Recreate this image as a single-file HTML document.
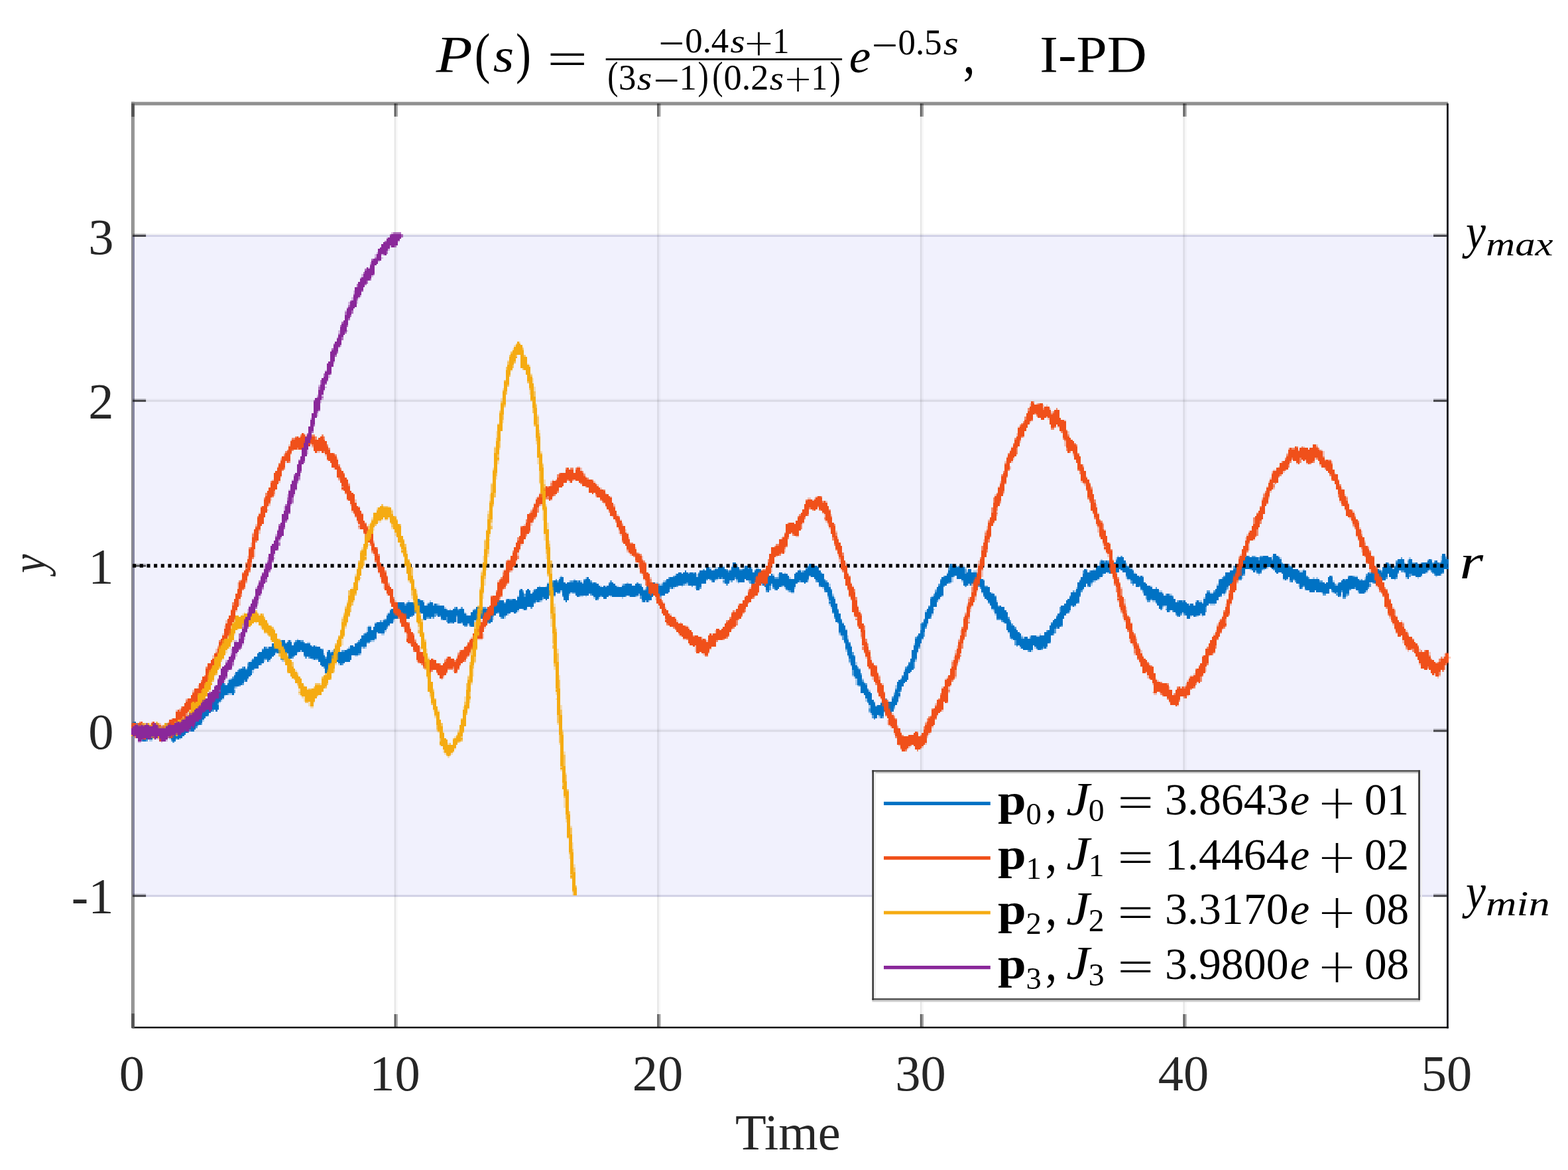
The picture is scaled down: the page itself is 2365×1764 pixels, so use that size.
<!DOCTYPE html>
<html lang="en"><head><meta charset="utf-8"><title>P(s) I-PD step responses</title>
<style>
html,body{margin:0;padding:0;background:#fff;}
body{width:2365px;height:1764px;overflow:hidden;}
svg{display:block;}
text{font-family:"Liberation Serif","DejaVu Serif",serif;}
</style></head><body>
<svg xmlns="http://www.w3.org/2000/svg" width="2365" height="1764" viewBox="0 0 2365 1764">
<rect x="0" y="0" width="2365" height="1764" fill="#ffffff"/>
<rect x="200.4" y="356.5" width="1983.0" height="993.0" fill="#f1f1fd"/>
<rect x="200.4" y="352.1" width="1983.0" height="2.2" fill="#f3f3f5"/>
<rect x="200.4" y="354.3" width="1983.0" height="2.7" fill="#cfcfe6"/>
<rect x="200.4" y="1348.9" width="1983.0" height="0.8" fill="#e0e0f0"/>
<rect x="200.4" y="1349.5" width="1983.0" height="2.7" fill="#cfcfe4"/>
<rect x="594.6" y="156.3" width="2.5" height="1393.3" fill="#000" fill-opacity="0.095"/>
<rect x="597.1" y="156.3" width="2.7" height="1393.3" fill="#000" fill-opacity="0.028"/>
<rect x="991.2" y="156.3" width="2.5" height="1393.3" fill="#000" fill-opacity="0.095"/>
<rect x="993.7" y="156.3" width="2.7" height="1393.3" fill="#000" fill-opacity="0.028"/>
<rect x="1387.8" y="156.3" width="2.5" height="1393.3" fill="#000" fill-opacity="0.095"/>
<rect x="1390.3" y="156.3" width="2.7" height="1393.3" fill="#000" fill-opacity="0.028"/>
<rect x="1784.4" y="156.3" width="2.5" height="1393.3" fill="#000" fill-opacity="0.095"/>
<rect x="1786.9" y="156.3" width="2.7" height="1393.3" fill="#000" fill-opacity="0.028"/>
<rect x="200.4" y="1098.6" width="1983.0" height="2.0" fill="#000" fill-opacity="0.028"/>
<rect x="200.4" y="1100.6" width="1983.0" height="2.8" fill="#000" fill-opacity="0.095"/>
<rect x="200.4" y="601.0" width="1983.0" height="2.0" fill="#000" fill-opacity="0.028"/>
<rect x="200.4" y="603.0" width="1983.0" height="2.8" fill="#000" fill-opacity="0.095"/>
<rect x="198.0" y="153.6" width="1986.2" height="5.2" fill="#909090"/>
<rect x="198.0" y="153.6" width="2.4" height="1396.6" fill="#8a8a8a"/>
<rect x="200.4" y="153.6" width="2.5" height="1396.6" fill="#8e8e8e"/>
<rect x="198.0" y="355.3" width="2.4" height="995.2" fill="#86868c"/>
<rect x="200.4" y="355.3" width="2.5" height="995.2" fill="#8282a0"/>
<rect x="199.4" y="1547.9" width="1985.4" height="2.5" fill="#0e0e0e"/>
<rect x="2182.0" y="156.0" width="2.8" height="1394.4" fill="#0d0d18"/>
<rect x="198.0" y="156.0" width="4.9" height="20.0" fill="#555"/>
<rect x="198.0" y="1528.1" width="4.9" height="21.8" fill="#555"/>
<rect x="594.6" y="156.0" width="2.5" height="19.8" fill="#000" fill-opacity="0.600"/>
<rect x="597.1" y="156.0" width="2.7" height="19.8" fill="#000" fill-opacity="0.360"/>
<rect x="594.6" y="1529.0" width="2.5" height="19.0" fill="#000" fill-opacity="0.600"/>
<rect x="597.1" y="1529.0" width="2.7" height="19.0" fill="#000" fill-opacity="0.360"/>
<rect x="991.2" y="156.0" width="2.5" height="19.8" fill="#000" fill-opacity="0.600"/>
<rect x="993.7" y="156.0" width="2.7" height="19.8" fill="#000" fill-opacity="0.360"/>
<rect x="991.2" y="1529.0" width="2.5" height="19.0" fill="#000" fill-opacity="0.600"/>
<rect x="993.7" y="1529.0" width="2.7" height="19.0" fill="#000" fill-opacity="0.360"/>
<rect x="1387.8" y="156.0" width="2.5" height="19.8" fill="#000" fill-opacity="0.600"/>
<rect x="1390.3" y="156.0" width="2.7" height="19.8" fill="#000" fill-opacity="0.360"/>
<rect x="1387.8" y="1529.0" width="2.5" height="19.0" fill="#000" fill-opacity="0.600"/>
<rect x="1390.3" y="1529.0" width="2.7" height="19.0" fill="#000" fill-opacity="0.360"/>
<rect x="1784.4" y="156.0" width="2.5" height="19.8" fill="#000" fill-opacity="0.600"/>
<rect x="1786.9" y="156.0" width="2.7" height="19.8" fill="#000" fill-opacity="0.360"/>
<rect x="1784.4" y="1529.0" width="2.5" height="19.0" fill="#000" fill-opacity="0.600"/>
<rect x="1786.9" y="1529.0" width="2.7" height="19.0" fill="#000" fill-opacity="0.360"/>
<rect x="200.2" y="1347.4" width="19.9" height="2.0" fill="#000" fill-opacity="0.220"/>
<rect x="200.2" y="1349.4" width="19.9" height="2.8" fill="#000" fill-opacity="0.700"/>
<rect x="2162.0" y="1347.4" width="19.9" height="2.0" fill="#000" fill-opacity="0.220"/>
<rect x="2162.0" y="1349.4" width="19.9" height="2.8" fill="#000" fill-opacity="0.700"/>
<rect x="200.2" y="1098.6" width="19.9" height="2.0" fill="#000" fill-opacity="0.220"/>
<rect x="200.2" y="1100.6" width="19.9" height="2.8" fill="#000" fill-opacity="0.700"/>
<rect x="2162.0" y="1098.6" width="19.9" height="2.0" fill="#000" fill-opacity="0.220"/>
<rect x="2162.0" y="1100.6" width="19.9" height="2.8" fill="#000" fill-opacity="0.700"/>
<rect x="200.2" y="849.8" width="19.9" height="2.0" fill="#000" fill-opacity="0.220"/>
<rect x="200.2" y="851.8" width="19.9" height="2.8" fill="#000" fill-opacity="0.700"/>
<rect x="2162.0" y="849.8" width="19.9" height="2.0" fill="#000" fill-opacity="0.220"/>
<rect x="2162.0" y="851.8" width="19.9" height="2.8" fill="#000" fill-opacity="0.700"/>
<rect x="200.2" y="601.0" width="19.9" height="2.0" fill="#000" fill-opacity="0.220"/>
<rect x="200.2" y="603.0" width="19.9" height="2.8" fill="#000" fill-opacity="0.700"/>
<rect x="2162.0" y="601.0" width="19.9" height="2.0" fill="#000" fill-opacity="0.220"/>
<rect x="2162.0" y="603.0" width="19.9" height="2.8" fill="#000" fill-opacity="0.700"/>
<rect x="200.2" y="352.2" width="19.9" height="2.0" fill="#000" fill-opacity="0.220"/>
<rect x="200.2" y="354.2" width="19.9" height="2.8" fill="#000" fill-opacity="0.700"/>
<rect x="2162.0" y="352.2" width="19.9" height="2.0" fill="#000" fill-opacity="0.220"/>
<rect x="2162.0" y="354.2" width="19.9" height="2.8" fill="#000" fill-opacity="0.700"/>
<g id="curves">
<g shape-rendering="crispEdges"><path fill="#0072c4" fill-opacity="0.30" d="M197.5,1090h2.5v2.5h-2.5zM210,1095h2.5v2.5h-2.5zM215,1097.5h2.5v2.5h-2.5zM217.5,1097.5h2.5v2.5h-2.5zM225,1115h2.5v2.5h-2.5zM227.5,1115h2.5v2.5h-2.5zM232.5,1095h2.5v2.5h-2.5zM242.5,1112.5h2.5v2.5h-2.5zM252.5,1107.5h2.5v2.5h-2.5zM255,1112.5h2.5v2.5h-2.5zM257.5,1092.5h2.5v2.5h-2.5zM267.5,1090h2.5v2.5h-2.5zM270,1112.5h2.5v2.5h-2.5zM285,1080h2.5v2.5h-2.5zM297.5,1092.5h2.5v2.5h-2.5zM305,1085h2.5v2.5h-2.5zM317.5,1050h2.5v2.5h-2.5zM330,1035h2.5v5h-2.5zM330,1057.5h2.5v2.5h-2.5zM332.5,1055h2.5v2.5h-2.5zM335,1052.5h2.5v2.5h-2.5zM337.5,1047.5h2.5v2.5h-2.5zM342.5,1025h2.5v5h-2.5zM345,1022.5h2.5v2.5h-2.5zM345,1045h2.5v2.5h-2.5zM347.5,1045h2.5v2.5h-2.5zM352.5,1015h2.5v2.5h-2.5zM352.5,1037.5h2.5v2.5h-2.5zM355,1035h2.5v2.5h-2.5zM372.5,997.5h2.5v2.5h-2.5zM372.5,1022.5h2.5v2.5h-2.5zM377.5,995h2.5v2.5h-2.5zM380,1010h2.5v5h-2.5zM382.5,1007.5h2.5v2.5h-2.5zM397.5,995h2.5v2.5h-2.5zM402.5,975h2.5v2.5h-2.5zM405,995h2.5v2.5h-2.5zM412.5,965h2.5v2.5h-2.5zM417.5,962.5h2.5v2.5h-2.5zM425,995h2.5v2.5h-2.5zM430,967.5h2.5v2.5h-2.5zM430,985h2.5v2.5h-2.5zM432.5,965h2.5v2.5h-2.5zM432.5,985h2.5v2.5h-2.5zM437.5,965h2.5v2.5h-2.5zM447.5,962.5h2.5v2.5h-2.5zM447.5,982.5h2.5v2.5h-2.5zM452.5,980h2.5v2.5h-2.5zM462.5,967.5h2.5v2.5h-2.5zM465,967.5h2.5v2.5h-2.5zM470,972.5h2.5v2.5h-2.5zM470,992.5h2.5v2.5h-2.5zM475,972.5h2.5v2.5h-2.5zM487.5,985h2.5v2.5h-2.5zM492.5,980h2.5v2.5h-2.5zM495,1005h2.5v2.5h-2.5zM500,980h2.5v2.5h-2.5zM500,1000h2.5v2.5h-2.5zM502.5,997.5h2.5v2.5h-2.5zM505,975h2.5v2.5h-2.5zM505,997.5h2.5v2.5h-2.5zM510,980h2.5v2.5h-2.5zM510,1000h2.5v2.5h-2.5zM525,975h2.5v2.5h-2.5zM535,987.5h2.5v2.5h-2.5zM537.5,987.5h2.5v2.5h-2.5zM542.5,985h2.5v2.5h-2.5zM545,975h2.5v2.5h-2.5zM550,952.5h2.5v2.5h-2.5zM550,975h2.5v2.5h-2.5zM552.5,945h2.5v7.5h-2.5zM555,942.5h2.5v2.5h-2.5zM557.5,942.5h2.5v2.5h-2.5zM560,965h2.5v2.5h-2.5zM562.5,965h2.5v2.5h-2.5zM565,937.5h2.5v2.5h-2.5zM565,962.5h2.5v2.5h-2.5zM567.5,952.5h2.5v2.5h-2.5zM575,935h2.5v2.5h-2.5zM575,955h2.5v2.5h-2.5zM577.5,932.5h2.5v2.5h-2.5zM577.5,955h2.5v2.5h-2.5zM580,950h2.5v2.5h-2.5zM582.5,925h2.5v2.5h-2.5zM585,922.5h2.5v2.5h-2.5zM585,942.5h2.5v2.5h-2.5zM587.5,917.5h2.5v2.5h-2.5zM592.5,935h2.5v2.5h-2.5zM600,930h2.5v2.5h-2.5zM615,905h2.5v2.5h-2.5zM625,902.5h2.5v2.5h-2.5zM632.5,902.5h2.5v2.5h-2.5zM637.5,905h2.5v2.5h-2.5zM642.5,910h2.5v2.5h-2.5zM645,907.5h2.5v2.5h-2.5zM647.5,905h2.5v2.5h-2.5zM650,930h2.5v2.5h-2.5zM652.5,910h2.5v2.5h-2.5zM660,910h2.5v2.5h-2.5zM670,915h2.5v2.5h-2.5zM677.5,917.5h2.5v2.5h-2.5zM687.5,930h2.5v7.5h-2.5zM700,922.5h2.5v2.5h-2.5zM702.5,925h2.5v2.5h-2.5zM705,940h2.5v2.5h-2.5zM712.5,917.5h2.5v2.5h-2.5zM715,935h2.5v2.5h-2.5zM722.5,912.5h2.5v2.5h-2.5zM730,930h2.5v2.5h-2.5zM732.5,915h2.5v2.5h-2.5zM742.5,930h2.5v5h-2.5zM745,905h2.5v5h-2.5zM760,930h2.5v2.5h-2.5zM765,925h2.5v2.5h-2.5zM777.5,922.5h2.5v2.5h-2.5zM780,897.5h2.5v2.5h-2.5zM780,920h2.5v2.5h-2.5zM782.5,887.5h2.5v2.5h-2.5zM787.5,917.5h2.5v2.5h-2.5zM802.5,890h2.5v2.5h-2.5zM812.5,882.5h2.5v2.5h-2.5zM815,905h2.5v2.5h-2.5zM817.5,902.5h2.5v2.5h-2.5zM822.5,882.5h2.5v2.5h-2.5zM825,877.5h2.5v2.5h-2.5zM830,897.5h2.5v2.5h-2.5zM835,897.5h2.5v2.5h-2.5zM842.5,870h2.5v2.5h-2.5zM845,867.5h2.5v2.5h-2.5zM845,890h2.5v2.5h-2.5zM857.5,875h2.5v2.5h-2.5zM857.5,895h2.5v2.5h-2.5zM860,892.5h2.5v2.5h-2.5zM865,872.5h2.5v2.5h-2.5zM875,875h2.5v2.5h-2.5zM875,897.5h2.5v2.5h-2.5zM877.5,877.5h2.5v2.5h-2.5zM877.5,897.5h2.5v2.5h-2.5zM882.5,870h2.5v2.5h-2.5zM882.5,897.5h2.5v2.5h-2.5zM895,900h2.5v2.5h-2.5zM902.5,900h2.5v2.5h-2.5zM905,882.5h2.5v2.5h-2.5zM912.5,882.5h2.5v2.5h-2.5zM920,897.5h2.5v2.5h-2.5zM930,882.5h2.5v2.5h-2.5zM937.5,880h2.5v2.5h-2.5zM937.5,900h2.5v2.5h-2.5zM945,877.5h2.5v2.5h-2.5zM947.5,897.5h2.5v2.5h-2.5zM960,897.5h2.5v2.5h-2.5zM962.5,895h2.5v2.5h-2.5zM970,887.5h2.5v2.5h-2.5zM972.5,885h2.5v2.5h-2.5zM972.5,905h2.5v2.5h-2.5zM977.5,905h2.5v2.5h-2.5zM985,895h2.5v2.5h-2.5zM987.5,897.5h2.5v2.5h-2.5zM990,877.5h2.5v2.5h-2.5zM995,880h2.5v2.5h-2.5zM995,900h2.5v2.5h-2.5zM997.5,877.5h2.5v2.5h-2.5zM1000,875h2.5v2.5h-2.5zM1015,885h2.5v2.5h-2.5zM1017.5,865h2.5v2.5h-2.5zM1027.5,882.5h2.5v2.5h-2.5zM1032.5,880h2.5v2.5h-2.5zM1035,880h2.5v2.5h-2.5zM1037.5,862.5h2.5v2.5h-2.5zM1047.5,882.5h2.5v5h-2.5zM1050,865h2.5v5h-2.5zM1070,855h2.5v2.5h-2.5zM1075,857.5h2.5v2.5h-2.5zM1077.5,855h2.5v2.5h-2.5zM1080,855h2.5v2.5h-2.5zM1080,872.5h2.5v2.5h-2.5zM1090,852.5h2.5v2.5h-2.5zM1090,872.5h2.5v2.5h-2.5zM1090,877.5h2.5v2.5h-2.5zM1100,857.5h2.5v2.5h-2.5zM1100,875h2.5v2.5h-2.5zM1102.5,852.5h2.5v2.5h-2.5zM1110,850h2.5v2.5h-2.5zM1110,875h2.5v2.5h-2.5zM1112.5,877.5h2.5v2.5h-2.5zM1120,855h2.5v2.5h-2.5zM1127.5,875h2.5v2.5h-2.5zM1132.5,855h2.5v2.5h-2.5zM1137.5,857.5h2.5v2.5h-2.5zM1137.5,877.5h2.5v2.5h-2.5zM1140,855h2.5v2.5h-2.5zM1140,877.5h2.5v2.5h-2.5zM1142.5,855h2.5v2.5h-2.5zM1142.5,877.5h2.5v2.5h-2.5zM1147.5,880h2.5v2.5h-2.5zM1152.5,865h2.5v5h-2.5zM1162.5,880h2.5v2.5h-2.5zM1165,865h2.5v2.5h-2.5zM1172.5,865h2.5v5h-2.5zM1180,882.5h2.5v2.5h-2.5zM1182.5,862.5h2.5v2.5h-2.5zM1182.5,885h2.5v2.5h-2.5zM1187.5,890h2.5v2.5h-2.5zM1190,870h2.5v2.5h-2.5zM1192.5,892.5h2.5v2.5h-2.5zM1195,892.5h2.5v2.5h-2.5zM1197.5,885h2.5v2.5h-2.5zM1205,857.5h2.5v2.5h-2.5zM1207.5,860h2.5v2.5h-2.5zM1217.5,875h2.5v2.5h-2.5zM1220,867.5h2.5v2.5h-2.5zM1240,885h2.5v2.5h-2.5zM1247.5,900h2.5v2.5h-2.5zM1250,880h2.5v5h-2.5zM1250,910h2.5v2.5h-2.5zM1252.5,915h2.5v2.5h-2.5zM1255,895h2.5v2.5h-2.5zM1257.5,900h2.5v2.5h-2.5zM1265,955h2.5v2.5h-2.5zM1267.5,957.5h2.5v2.5h-2.5zM1270,937.5h2.5v2.5h-2.5zM1275,947.5h2.5v2.5h-2.5zM1275,980h2.5v2.5h-2.5zM1277.5,957.5h2.5v5h-2.5zM1277.5,987.5h2.5v2.5h-2.5zM1280,997.5h2.5v2.5h-2.5zM1282.5,972.5h2.5v2.5h-2.5zM1282.5,1002.5h2.5v2.5h-2.5zM1285,1017.5h2.5v2.5h-2.5zM1287.5,1020h2.5v2.5h-2.5zM1290,997.5h2.5v5h-2.5zM1290,1022.5h2.5v10h-2.5zM1292.5,1032.5h2.5v2.5h-2.5zM1300,1022.5h2.5v2.5h-2.5zM1302.5,1027.5h2.5v2.5h-2.5zM1305,1052.5h2.5v5h-2.5zM1310,1040h2.5v2.5h-2.5zM1310,1062.5h2.5v5h-2.5zM1310,1072.5h2.5v2.5h-2.5zM1312.5,1075h2.5v2.5h-2.5zM1320,1062.5h2.5v2.5h-2.5zM1325,1080h2.5v2.5h-2.5zM1327.5,1057.5h2.5v2.5h-2.5zM1332.5,1072.5h2.5v2.5h-2.5zM1335,1072.5h2.5v2.5h-2.5zM1347.5,1042.5h2.5v2.5h-2.5zM1347.5,1067.5h2.5v2.5h-2.5zM1350,1032.5h2.5v5h-2.5zM1352.5,1057.5h2.5v2.5h-2.5zM1355,1050h2.5v2.5h-2.5zM1362.5,1010h2.5v2.5h-2.5zM1377.5,970h2.5v2.5h-2.5zM1380,995h2.5v2.5h-2.5zM1382.5,982.5h2.5v2.5h-2.5zM1390,962.5h2.5v2.5h-2.5zM1395,920h2.5v2.5h-2.5zM1397.5,940h2.5v2.5h-2.5zM1405,897.5h2.5v2.5h-2.5zM1405,925h2.5v2.5h-2.5zM1407.5,917.5h2.5v2.5h-2.5zM1410,887.5h2.5v2.5h-2.5zM1415,902.5h2.5v2.5h-2.5zM1420,897.5h2.5v2.5h-2.5zM1427.5,862.5h2.5v2.5h-2.5zM1430,850h2.5v2.5h-2.5zM1432.5,877.5h2.5v2.5h-2.5zM1435,870h2.5v7.5h-2.5zM1437.5,850h2.5v2.5h-2.5zM1440,850h2.5v2.5h-2.5zM1442.5,852.5h2.5v2.5h-2.5zM1450,852.5h2.5v2.5h-2.5zM1450,875h2.5v2.5h-2.5zM1452.5,852.5h2.5v2.5h-2.5zM1455,855h2.5v2.5h-2.5zM1457.5,860h2.5v2.5h-2.5zM1460,880h2.5v2.5h-2.5zM1465,880h2.5v2.5h-2.5zM1467.5,860h2.5v2.5h-2.5zM1470,860h2.5v2.5h-2.5zM1470,875h2.5v2.5h-2.5zM1472.5,862.5h2.5v2.5h-2.5zM1472.5,880h2.5v2.5h-2.5zM1480,892.5h2.5v2.5h-2.5zM1482.5,872.5h2.5v2.5h-2.5zM1495,892.5h2.5v2.5h-2.5zM1495,917.5h2.5v2.5h-2.5zM1497.5,920h2.5v2.5h-2.5zM1500,925h2.5v2.5h-2.5zM1502.5,905h2.5v2.5h-2.5zM1512.5,937.5h2.5v2.5h-2.5zM1520,952.5h2.5v2.5h-2.5zM1525,962.5h2.5v2.5h-2.5zM1537.5,975h2.5v2.5h-2.5zM1540,957.5h2.5v2.5h-2.5zM1542.5,960h2.5v2.5h-2.5zM1552.5,957.5h2.5v2.5h-2.5zM1555,980h2.5v2.5h-2.5zM1560,975h2.5v2.5h-2.5zM1562.5,957.5h2.5v2.5h-2.5zM1562.5,977.5h2.5v2.5h-2.5zM1565,957.5h2.5v2.5h-2.5zM1567.5,955h2.5v2.5h-2.5zM1577.5,975h2.5v2.5h-2.5zM1612.5,920h2.5v2.5h-2.5zM1615,912.5h2.5v2.5h-2.5zM1620,890h2.5v2.5h-2.5zM1620,912.5h2.5v2.5h-2.5zM1622.5,885h2.5v2.5h-2.5zM1627.5,872.5h2.5v2.5h-2.5zM1632.5,887.5h2.5v2.5h-2.5zM1645,880h2.5v2.5h-2.5zM1647.5,857.5h2.5v2.5h-2.5zM1650,857.5h2.5v2.5h-2.5zM1650,875h2.5v2.5h-2.5zM1655,872.5h2.5v2.5h-2.5zM1657.5,845h2.5v2.5h-2.5zM1657.5,870h2.5v2.5h-2.5zM1660,842.5h2.5v2.5h-2.5zM1662.5,865h2.5v2.5h-2.5zM1670,862.5h2.5v2.5h-2.5zM1682.5,840h2.5v2.5h-2.5zM1685,837.5h2.5v2.5h-2.5zM1697.5,847.5h2.5v2.5h-2.5zM1697.5,870h2.5v2.5h-2.5zM1700,872.5h2.5v2.5h-2.5zM1702.5,872.5h2.5v2.5h-2.5zM1705,855h2.5v2.5h-2.5zM1707.5,857.5h2.5v2.5h-2.5zM1710,862.5h2.5v2.5h-2.5zM1717.5,867.5h2.5v2.5h-2.5zM1722.5,867.5h2.5v2.5h-2.5zM1722.5,892.5h2.5v2.5h-2.5zM1727.5,902.5h2.5v2.5h-2.5zM1735,882.5h2.5v2.5h-2.5zM1737.5,905h2.5v2.5h-2.5zM1740,905h2.5v2.5h-2.5zM1747.5,890h2.5v2.5h-2.5zM1750,890h2.5v2.5h-2.5zM1752.5,892.5h2.5v2.5h-2.5zM1752.5,915h2.5v2.5h-2.5zM1755,912.5h2.5v2.5h-2.5zM1757.5,912.5h2.5v5h-2.5zM1765,895h2.5v2.5h-2.5zM1782.5,922.5h2.5v2.5h-2.5zM1792.5,910h2.5v2.5h-2.5zM1795,927.5h2.5v2.5h-2.5zM1802.5,905h2.5v2.5h-2.5zM1805,927.5h2.5v2.5h-2.5zM1807.5,905h2.5v2.5h-2.5zM1810,905h2.5v2.5h-2.5zM1810,925h2.5v2.5h-2.5zM1812.5,907.5h2.5v2.5h-2.5zM1812.5,927.5h2.5v2.5h-2.5zM1815,900h2.5v2.5h-2.5zM1825,892.5h2.5v2.5h-2.5zM1825,910h2.5v2.5h-2.5zM1827.5,892.5h2.5v2.5h-2.5zM1827.5,910h2.5v2.5h-2.5zM1830,910h2.5v2.5h-2.5zM1835,880h2.5v2.5h-2.5zM1845,895h2.5v2.5h-2.5zM1847.5,892.5h2.5v2.5h-2.5zM1850,887.5h2.5v2.5h-2.5zM1857.5,877.5h2.5v2.5h-2.5zM1862.5,872.5h2.5v2.5h-2.5zM1865,850h2.5v2.5h-2.5zM1865,870h2.5v2.5h-2.5zM1870,852.5h2.5v2.5h-2.5zM1872.5,867.5h2.5v5h-2.5zM1885,857.5h2.5v2.5h-2.5zM1892.5,837.5h2.5v2.5h-2.5zM1892.5,860h2.5v2.5h-2.5zM1897.5,865h2.5v2.5h-2.5zM1905,857.5h2.5v2.5h-2.5zM1910,855h2.5v2.5h-2.5zM1917.5,837.5h2.5v5h-2.5zM1927.5,837.5h2.5v2.5h-2.5zM1930,840h2.5v2.5h-2.5zM1935,872.5h2.5v2.5h-2.5zM1940,872.5h2.5v2.5h-2.5zM1957.5,880h2.5v5h-2.5zM1960,860h2.5v2.5h-2.5zM1962.5,860h2.5v2.5h-2.5zM1965,857.5h2.5v2.5h-2.5zM1980,870h2.5v2.5h-2.5zM1985,870h2.5v2.5h-2.5zM1992.5,892.5h2.5v2.5h-2.5zM2010,875h2.5v2.5h-2.5zM2010,892.5h2.5v2.5h-2.5zM2015,880h2.5v2.5h-2.5zM2030,897.5h2.5v2.5h-2.5zM2042.5,867.5h2.5v2.5h-2.5zM2045,867.5h2.5v2.5h-2.5zM2047.5,892.5h2.5v2.5h-2.5zM2050,872.5h2.5v2.5h-2.5zM2057.5,870h2.5v2.5h-2.5zM2057.5,892.5h2.5v2.5h-2.5zM2060,890h2.5v2.5h-2.5zM2065,877.5h2.5v2.5h-2.5zM2067.5,860h2.5v2.5h-2.5zM2075,855h2.5v2.5h-2.5zM2080,857.5h2.5v2.5h-2.5zM2082.5,875h2.5v2.5h-2.5zM2100,855h2.5v2.5h-2.5zM2102.5,872.5h2.5v2.5h-2.5zM2117.5,847.5h2.5v2.5h-2.5zM2117.5,862.5h2.5v2.5h-2.5zM2120,870h2.5v2.5h-2.5zM2122.5,842.5h2.5v2.5h-2.5zM2125,840h2.5v2.5h-2.5zM2137.5,870h2.5v2.5h-2.5zM2142.5,867.5h2.5v2.5h-2.5zM2150,862.5h2.5v2.5h-2.5zM2152.5,842.5h2.5v2.5h-2.5zM2152.5,860h2.5v2.5h-2.5zM2165,867.5h2.5v2.5h-2.5zM2172.5,837.5h2.5v7.5h-2.5zM2172.5,865h2.5v2.5h-2.5zM2180,837.5h2.5v2.5h-2.5z"/>
<path fill="#0072c4" fill-opacity="0.65" d="M205,1090h2.5v2.5h-2.5zM205,1107.5h2.5v2.5h-2.5zM207.5,1092.5h2.5v2.5h-2.5zM210,1107.5h2.5v2.5h-2.5zM212.5,1115h2.5v2.5h-2.5zM220,1097.5h2.5v2.5h-2.5zM220,1115h2.5v2.5h-2.5zM222.5,1097.5h2.5v2.5h-2.5zM230,1110h2.5v2.5h-2.5zM232.5,1097.5h2.5v2.5h-2.5zM235,1097.5h2.5v2.5h-2.5zM235,1110h2.5v2.5h-2.5zM237.5,1110h2.5v2.5h-2.5zM247.5,1090h2.5v2.5h-2.5zM250,1090h2.5v2.5h-2.5zM252.5,1092.5h2.5v2.5h-2.5zM257.5,1115h2.5v2.5h-2.5zM260,1117.5h2.5v2.5h-2.5zM262.5,1095h2.5v2.5h-2.5zM265,1112.5h2.5v2.5h-2.5zM272.5,1092.5h2.5v2.5h-2.5zM275,1085h2.5v2.5h-2.5zM282.5,1102.5h2.5v2.5h-2.5zM285,1100h2.5v2.5h-2.5zM292.5,1077.5h2.5v2.5h-2.5zM295,1095h2.5v2.5h-2.5zM300,1065h2.5v2.5h-2.5zM302.5,1090h2.5v2.5h-2.5zM305,1067.5h2.5v2.5h-2.5zM307.5,1062.5h2.5v2.5h-2.5zM312.5,1077.5h2.5v2.5h-2.5zM315,1060h2.5v2.5h-2.5zM320,1070h2.5v2.5h-2.5zM327.5,1060h2.5v2.5h-2.5zM330,1040h2.5v2.5h-2.5zM335,1027.5h2.5v2.5h-2.5zM337.5,1030h2.5v2.5h-2.5zM342.5,1045h2.5v2.5h-2.5zM347.5,1022.5h2.5v2.5h-2.5zM350,1020h2.5v2.5h-2.5zM352.5,1035h2.5v2.5h-2.5zM352.5,1040h2.5v5h-2.5zM357.5,1010h2.5v2.5h-2.5zM360,1007.5h2.5v2.5h-2.5zM360,1032.5h2.5v2.5h-2.5zM365,1005h2.5v2.5h-2.5zM365,1030h2.5v2.5h-2.5zM367.5,1025h2.5v2.5h-2.5zM370,1007.5h2.5v2.5h-2.5zM372.5,1000h2.5v5h-2.5zM380,992.5h2.5v2.5h-2.5zM392.5,1000h2.5v2.5h-2.5zM395,977.5h2.5v2.5h-2.5zM397.5,992.5h2.5v2.5h-2.5zM400,975h2.5v2.5h-2.5zM400,992.5h2.5v2.5h-2.5zM415,982.5h2.5v2.5h-2.5zM422.5,965h2.5v2.5h-2.5zM422.5,992.5h2.5v2.5h-2.5zM427.5,992.5h2.5v2.5h-2.5zM440,990h2.5v2.5h-2.5zM442.5,967.5h2.5v2.5h-2.5zM442.5,987.5h2.5v2.5h-2.5zM445,965h2.5v2.5h-2.5zM452.5,965h2.5v2.5h-2.5zM455,965h2.5v2.5h-2.5zM457.5,967.5h2.5v2.5h-2.5zM457.5,987.5h2.5v2.5h-2.5zM460,990h2.5v2.5h-2.5zM465,990h2.5v2.5h-2.5zM475,992.5h2.5v2.5h-2.5zM477.5,992.5h2.5v2.5h-2.5zM485,977.5h2.5v2.5h-2.5zM487.5,1005h2.5v2.5h-2.5zM490,990h2.5v2.5h-2.5zM492.5,1015h2.5v2.5h-2.5zM495,1002.5h2.5v2.5h-2.5zM495,1007.5h2.5v7.5h-2.5zM497.5,982.5h2.5v2.5h-2.5zM497.5,1000h2.5v2.5h-2.5zM502.5,977.5h2.5v2.5h-2.5zM515,980h2.5v2.5h-2.5zM515,1000h2.5v2.5h-2.5zM517.5,980h2.5v2.5h-2.5zM522.5,977.5h2.5v2.5h-2.5zM537.5,967.5h2.5v2.5h-2.5zM540,965h2.5v2.5h-2.5zM540,985h2.5v2.5h-2.5zM547.5,955h2.5v2.5h-2.5zM547.5,975h2.5v2.5h-2.5zM552.5,967.5h2.5v2.5h-2.5zM555,967.5h2.5v2.5h-2.5zM557.5,965h2.5v2.5h-2.5zM572.5,935h2.5v2.5h-2.5zM580,932.5h2.5v2.5h-2.5zM582.5,945h2.5v2.5h-2.5zM592.5,932.5h2.5v2.5h-2.5zM595,910h2.5v2.5h-2.5zM597.5,907.5h2.5v2.5h-2.5zM600,925h2.5v5h-2.5zM602.5,925h2.5v2.5h-2.5zM607.5,927.5h2.5v2.5h-2.5zM610,910h2.5v2.5h-2.5zM612.5,907.5h2.5v2.5h-2.5zM620,927.5h2.5v2.5h-2.5zM625,922.5h2.5v2.5h-2.5zM630,925h2.5v2.5h-2.5zM632.5,922.5h2.5v2.5h-2.5zM637.5,932.5h2.5v2.5h-2.5zM642.5,930h2.5v2.5h-2.5zM645,930h2.5v2.5h-2.5zM652.5,930h2.5v2.5h-2.5zM655,925h2.5v5h-2.5zM657.5,910h2.5v2.5h-2.5zM657.5,925h2.5v2.5h-2.5zM662.5,927.5h2.5v2.5h-2.5zM665,932.5h2.5v2.5h-2.5zM672.5,917.5h2.5v2.5h-2.5zM672.5,930h2.5v7.5h-2.5zM677.5,937.5h2.5v2.5h-2.5zM680,937.5h2.5v2.5h-2.5zM685,915h2.5v2.5h-2.5zM687.5,927.5h2.5v2.5h-2.5zM690,917.5h2.5v2.5h-2.5zM695,915h2.5v2.5h-2.5zM695,937.5h2.5v2.5h-2.5zM700,942.5h2.5v2.5h-2.5zM702.5,942.5h2.5v2.5h-2.5zM707.5,942.5h2.5v2.5h-2.5zM715,917.5h2.5v2.5h-2.5zM725,915h2.5v2.5h-2.5zM727.5,915h2.5v2.5h-2.5zM730,915h2.5v2.5h-2.5zM735,915h2.5v2.5h-2.5zM735,937.5h2.5v2.5h-2.5zM737.5,912.5h2.5v2.5h-2.5zM742.5,912.5h2.5v2.5h-2.5zM742.5,927.5h2.5v2.5h-2.5zM745,910h2.5v2.5h-2.5zM750,902.5h2.5v2.5h-2.5zM750,922.5h2.5v2.5h-2.5zM755,930h2.5v2.5h-2.5zM760,907.5h2.5v2.5h-2.5zM760,927.5h2.5v2.5h-2.5zM762.5,902.5h2.5v2.5h-2.5zM767.5,902.5h2.5v2.5h-2.5zM770,902.5h2.5v2.5h-2.5zM787.5,890h2.5v2.5h-2.5zM790,895h2.5v5h-2.5zM792.5,917.5h2.5v2.5h-2.5zM800,915h2.5v2.5h-2.5zM805,887.5h2.5v2.5h-2.5zM805,907.5h2.5v2.5h-2.5zM807.5,905h2.5v2.5h-2.5zM812.5,905h2.5v2.5h-2.5zM817.5,900h2.5v2.5h-2.5zM832.5,875h2.5v2.5h-2.5zM837.5,872.5h2.5v2.5h-2.5zM840,875h2.5v2.5h-2.5zM840,892.5h2.5v2.5h-2.5zM842.5,892.5h2.5v2.5h-2.5zM847.5,897.5h2.5v2.5h-2.5zM860,875h2.5v2.5h-2.5zM862.5,875h2.5v2.5h-2.5zM862.5,892.5h2.5v2.5h-2.5zM865,892.5h2.5v2.5h-2.5zM870,875h2.5v2.5h-2.5zM872.5,897.5h2.5v2.5h-2.5zM880,872.5h2.5v2.5h-2.5zM890,875h2.5v2.5h-2.5zM890,895h2.5v2.5h-2.5zM892.5,877.5h2.5v2.5h-2.5zM897.5,877.5h2.5v2.5h-2.5zM900,902.5h2.5v2.5h-2.5zM905,897.5h2.5v2.5h-2.5zM917.5,877.5h2.5v2.5h-2.5zM920,875h2.5v2.5h-2.5zM940,880h2.5v2.5h-2.5zM942.5,897.5h2.5v2.5h-2.5zM957.5,897.5h2.5v2.5h-2.5zM960,877.5h2.5v2.5h-2.5zM965,880h2.5v2.5h-2.5zM965,897.5h2.5v5h-2.5zM967.5,905h2.5v2.5h-2.5zM972.5,887.5h2.5v2.5h-2.5zM977.5,882.5h2.5v2.5h-2.5zM982.5,877.5h2.5v2.5h-2.5zM985,892.5h2.5v2.5h-2.5zM990,902.5h2.5v2.5h-2.5zM992.5,880h2.5v2.5h-2.5zM992.5,902.5h2.5v2.5h-2.5zM995,897.5h2.5v2.5h-2.5zM997.5,880h2.5v2.5h-2.5zM1002.5,875h2.5v2.5h-2.5zM1007.5,870h2.5v2.5h-2.5zM1010,885h2.5v2.5h-2.5zM1015,867.5h2.5v2.5h-2.5zM1020,882.5h2.5v2.5h-2.5zM1030,880h2.5v2.5h-2.5zM1035,877.5h2.5v2.5h-2.5zM1042.5,882.5h2.5v2.5h-2.5zM1045,862.5h2.5v2.5h-2.5zM1052.5,862.5h2.5v2.5h-2.5zM1055,885h2.5v2.5h-2.5zM1060,857.5h2.5v2.5h-2.5zM1065,872.5h2.5v2.5h-2.5zM1070,872.5h2.5v2.5h-2.5zM1072.5,875h2.5v2.5h-2.5zM1077.5,872.5h2.5v2.5h-2.5zM1082.5,870h2.5v2.5h-2.5zM1085,852.5h2.5v2.5h-2.5zM1087.5,870h2.5v2.5h-2.5zM1090,875h2.5v2.5h-2.5zM1095,857.5h2.5v2.5h-2.5zM1095,880h2.5v2.5h-2.5zM1097.5,860h2.5v2.5h-2.5zM1102.5,875h2.5v2.5h-2.5zM1107.5,870h2.5v2.5h-2.5zM1110,852.5h2.5v2.5h-2.5zM1110,872.5h2.5v2.5h-2.5zM1115,857.5h2.5v2.5h-2.5zM1117.5,857.5h2.5v2.5h-2.5zM1127.5,855h2.5v2.5h-2.5zM1130,875h2.5v5h-2.5zM1132.5,880h2.5v2.5h-2.5zM1147.5,860h2.5v2.5h-2.5zM1147.5,875h2.5v2.5h-2.5zM1155,867.5h2.5v2.5h-2.5zM1155,890h2.5v2.5h-2.5zM1157.5,865h2.5v2.5h-2.5zM1160,882.5h2.5v7.5h-2.5zM1165,885h2.5v2.5h-2.5zM1167.5,870h2.5v2.5h-2.5zM1167.5,887.5h2.5v2.5h-2.5zM1170,870h2.5v2.5h-2.5zM1172.5,870h2.5v2.5h-2.5zM1177.5,882.5h2.5v2.5h-2.5zM1185,887.5h2.5v2.5h-2.5zM1190,890h2.5v2.5h-2.5zM1205,875h2.5v2.5h-2.5zM1210,860h2.5v2.5h-2.5zM1215,855h2.5v2.5h-2.5zM1217.5,852.5h2.5v2.5h-2.5zM1217.5,872.5h2.5v2.5h-2.5zM1230,875h2.5v2.5h-2.5zM1235,882.5h2.5v2.5h-2.5zM1237.5,862.5h2.5v2.5h-2.5zM1242.5,872.5h2.5v2.5h-2.5zM1242.5,890h2.5v2.5h-2.5zM1245,875h2.5v2.5h-2.5zM1247.5,897.5h2.5v2.5h-2.5zM1250,905h2.5v2.5h-2.5zM1252.5,887.5h2.5v2.5h-2.5zM1255,897.5h2.5v2.5h-2.5zM1255,922.5h2.5v2.5h-2.5zM1257.5,930h2.5v2.5h-2.5zM1262.5,917.5h2.5v2.5h-2.5zM1262.5,937.5h2.5v2.5h-2.5zM1265,952.5h2.5v2.5h-2.5zM1267.5,932.5h2.5v2.5h-2.5zM1270,957.5h2.5v7.5h-2.5zM1272.5,967.5h2.5v2.5h-2.5zM1275,977.5h2.5v2.5h-2.5zM1277.5,962.5h2.5v2.5h-2.5zM1280,967.5h2.5v2.5h-2.5zM1280,992.5h2.5v5h-2.5zM1285,982.5h2.5v5h-2.5zM1285,1010h2.5v7.5h-2.5zM1287.5,987.5h2.5v2.5h-2.5zM1292.5,1005h2.5v2.5h-2.5zM1295,1007.5h2.5v2.5h-2.5zM1295,1032.5h2.5v2.5h-2.5zM1297.5,1015h2.5v2.5h-2.5zM1300,1025h2.5v2.5h-2.5zM1305,1030h2.5v2.5h-2.5zM1307.5,1037.5h2.5v2.5h-2.5zM1307.5,1057.5h2.5v2.5h-2.5zM1310,1067.5h2.5v5h-2.5zM1315,1077.5h2.5v5h-2.5zM1317.5,1057.5h2.5v2.5h-2.5zM1317.5,1082.5h2.5v2.5h-2.5zM1325,1077.5h2.5v2.5h-2.5zM1330,1080h2.5v2.5h-2.5zM1335,1052.5h2.5v2.5h-2.5zM1337.5,1057.5h2.5v2.5h-2.5zM1345,1050h2.5v2.5h-2.5zM1347.5,1045h2.5v2.5h-2.5zM1347.5,1065h2.5v2.5h-2.5zM1350,1037.5h2.5v2.5h-2.5zM1355,1042.5h2.5v2.5h-2.5zM1357.5,1022.5h2.5v2.5h-2.5zM1357.5,1040h2.5v2.5h-2.5zM1360,1017.5h2.5v2.5h-2.5zM1365,1005h2.5v2.5h-2.5zM1367.5,1002.5h2.5v2.5h-2.5zM1370,997.5h2.5v2.5h-2.5zM1377.5,997.5h2.5v10h-2.5zM1380,960h2.5v2.5h-2.5zM1380,992.5h2.5v2.5h-2.5zM1382.5,957.5h2.5v2.5h-2.5zM1385,975h2.5v2.5h-2.5zM1387.5,940h2.5v10h-2.5zM1390,937.5h2.5v2.5h-2.5zM1392.5,932.5h2.5v2.5h-2.5zM1392.5,952.5h2.5v7.5h-2.5zM1395,945h2.5v2.5h-2.5zM1400,912.5h2.5v2.5h-2.5zM1402.5,900h2.5v2.5h-2.5zM1402.5,930h2.5v2.5h-2.5zM1407.5,895h2.5v2.5h-2.5zM1410,890h2.5v2.5h-2.5zM1412.5,905h2.5v2.5h-2.5zM1415,880h2.5v2.5h-2.5zM1417.5,872.5h2.5v2.5h-2.5zM1422.5,867.5h2.5v2.5h-2.5zM1422.5,882.5h2.5v2.5h-2.5zM1430,852.5h2.5v7.5h-2.5zM1430,877.5h2.5v2.5h-2.5zM1435,850h2.5v2.5h-2.5zM1437.5,867.5h2.5v2.5h-2.5zM1445,852.5h2.5v2.5h-2.5zM1455,857.5h2.5v7.5h-2.5zM1455,882.5h2.5v2.5h-2.5zM1475,865h2.5v2.5h-2.5zM1475,882.5h2.5v2.5h-2.5zM1477.5,885h2.5v2.5h-2.5zM1482.5,897.5h2.5v2.5h-2.5zM1485,882.5h2.5v2.5h-2.5zM1487.5,882.5h2.5v2.5h-2.5zM1490,907.5h2.5v2.5h-2.5zM1497.5,917.5h2.5v2.5h-2.5zM1500,897.5h2.5v2.5h-2.5zM1502.5,932.5h2.5v2.5h-2.5zM1505,912.5h2.5v2.5h-2.5zM1505,932.5h2.5v2.5h-2.5zM1507.5,932.5h2.5v2.5h-2.5zM1510,935h2.5v2.5h-2.5zM1520,930h2.5v2.5h-2.5zM1522.5,935h2.5v2.5h-2.5zM1522.5,960h2.5v2.5h-2.5zM1525,940h2.5v2.5h-2.5zM1530,945h2.5v2.5h-2.5zM1530,965h2.5v7.5h-2.5zM1532.5,972.5h2.5v2.5h-2.5zM1540,960h2.5v2.5h-2.5zM1550,980h2.5v2.5h-2.5zM1552.5,960h2.5v2.5h-2.5zM1570,977.5h2.5v2.5h-2.5zM1572.5,975h2.5v2.5h-2.5zM1577.5,950h2.5v2.5h-2.5zM1582.5,967.5h2.5v2.5h-2.5zM1585,937.5h2.5v2.5h-2.5zM1587.5,955h2.5v2.5h-2.5zM1590,947.5h2.5v7.5h-2.5zM1592.5,927.5h2.5v2.5h-2.5zM1592.5,945h2.5v2.5h-2.5zM1597.5,915h2.5v7.5h-2.5zM1600,942.5h2.5v2.5h-2.5zM1610,922.5h2.5v2.5h-2.5zM1612.5,897.5h2.5v2.5h-2.5zM1617.5,890h2.5v2.5h-2.5zM1625,907.5h2.5v2.5h-2.5zM1627.5,897.5h2.5v2.5h-2.5zM1630,890h2.5v2.5h-2.5zM1632.5,860h2.5v5h-2.5zM1637.5,857.5h2.5v2.5h-2.5zM1640,882.5h2.5v2.5h-2.5zM1642.5,860h2.5v2.5h-2.5zM1645,877.5h2.5v2.5h-2.5zM1647.5,875h2.5v2.5h-2.5zM1657.5,847.5h2.5v5h-2.5zM1665,845h2.5v2.5h-2.5zM1670,845h2.5v2.5h-2.5zM1675,862.5h2.5v2.5h-2.5zM1682.5,842.5h2.5v2.5h-2.5zM1690,837.5h2.5v2.5h-2.5zM1697.5,850h2.5v2.5h-2.5zM1697.5,867.5h2.5v2.5h-2.5zM1700,852.5h2.5v2.5h-2.5zM1702.5,855h2.5v2.5h-2.5zM1705,875h2.5v5h-2.5zM1707.5,880h2.5v2.5h-2.5zM1717.5,882.5h2.5v2.5h-2.5zM1720,887.5h2.5v2.5h-2.5zM1722.5,890h2.5v2.5h-2.5zM1727.5,897.5h2.5v5h-2.5zM1730,905h2.5v2.5h-2.5zM1732.5,905h2.5v2.5h-2.5zM1735,902.5h2.5v2.5h-2.5zM1742.5,885h2.5v2.5h-2.5zM1742.5,907.5h2.5v2.5h-2.5zM1750,917.5h2.5v2.5h-2.5zM1752.5,912.5h2.5v2.5h-2.5zM1757.5,895h2.5v2.5h-2.5zM1757.5,917.5h2.5v2.5h-2.5zM1762.5,895h2.5v2.5h-2.5zM1762.5,920h2.5v2.5h-2.5zM1767.5,897.5h2.5v2.5h-2.5zM1767.5,920h2.5v2.5h-2.5zM1772.5,925h2.5v2.5h-2.5zM1775,905h2.5v2.5h-2.5zM1775,927.5h2.5v2.5h-2.5zM1780,925h2.5v2.5h-2.5zM1782.5,905h2.5v2.5h-2.5zM1785,925h2.5v2.5h-2.5zM1802.5,927.5h2.5v2.5h-2.5zM1817.5,915h2.5v7.5h-2.5zM1820,890h2.5v2.5h-2.5zM1822.5,890h2.5v2.5h-2.5zM1830,890h2.5v2.5h-2.5zM1837.5,872.5h2.5v2.5h-2.5zM1840,897.5h2.5v2.5h-2.5zM1842.5,870h2.5v2.5h-2.5zM1845,867.5h2.5v2.5h-2.5zM1847.5,890h2.5v2.5h-2.5zM1850,885h2.5v2.5h-2.5zM1860,852.5h2.5v5h-2.5zM1867.5,872.5h2.5v2.5h-2.5zM1870,872.5h2.5v2.5h-2.5zM1872.5,842.5h2.5v2.5h-2.5zM1875,842.5h2.5v2.5h-2.5zM1875,865h2.5v2.5h-2.5zM1877.5,837.5h2.5v2.5h-2.5zM1882.5,837.5h2.5v2.5h-2.5zM1887.5,837.5h2.5v2.5h-2.5zM1890,837.5h2.5v2.5h-2.5zM1895,862.5h2.5v2.5h-2.5zM1897.5,840h2.5v5h-2.5zM1900,837.5h2.5v2.5h-2.5zM1900,862.5h2.5v2.5h-2.5zM1902.5,837.5h2.5v2.5h-2.5zM1902.5,857.5h2.5v2.5h-2.5zM1917.5,842.5h2.5v2.5h-2.5zM1920,857.5h2.5v2.5h-2.5zM1932.5,847.5h2.5v2.5h-2.5zM1940,850h2.5v2.5h-2.5zM1942.5,850h2.5v2.5h-2.5zM1945,852.5h2.5v2.5h-2.5zM1945,875h2.5v2.5h-2.5zM1950,872.5h2.5v2.5h-2.5zM1952.5,875h2.5v2.5h-2.5zM1962.5,885h2.5v2.5h-2.5zM1965,882.5h2.5v2.5h-2.5zM1967.5,887.5h2.5v2.5h-2.5zM1970,867.5h2.5v2.5h-2.5zM1972.5,870h2.5v2.5h-2.5zM1990,875h2.5v2.5h-2.5zM1992.5,875h2.5v2.5h-2.5zM1995,895h2.5v2.5h-2.5zM1997.5,895h2.5v2.5h-2.5zM2007.5,867.5h2.5v2.5h-2.5zM2007.5,890h2.5v2.5h-2.5zM2012.5,880h2.5v2.5h-2.5zM2015,892.5h2.5v5h-2.5zM2017.5,877.5h2.5v2.5h-2.5zM2020,897.5h2.5v2.5h-2.5zM2022.5,890h2.5v2.5h-2.5zM2025,900h2.5v2.5h-2.5zM2027.5,872.5h2.5v2.5h-2.5zM2027.5,900h2.5v2.5h-2.5zM2030,895h2.5v2.5h-2.5zM2032.5,867.5h2.5v2.5h-2.5zM2032.5,895h2.5v2.5h-2.5zM2035,887.5h2.5v2.5h-2.5zM2040,867.5h2.5v2.5h-2.5zM2042.5,885h2.5v2.5h-2.5zM2047.5,890h2.5v2.5h-2.5zM2052.5,872.5h2.5v2.5h-2.5zM2057.5,872.5h2.5v2.5h-2.5zM2060,865h2.5v2.5h-2.5zM2062.5,885h2.5v2.5h-2.5zM2065,862.5h2.5v2.5h-2.5zM2065,880h2.5v5h-2.5zM2070,877.5h2.5v2.5h-2.5zM2075,875h2.5v2.5h-2.5zM2082.5,860h2.5v2.5h-2.5zM2087.5,850h2.5v2.5h-2.5zM2090,870h2.5v2.5h-2.5zM2092.5,847.5h2.5v2.5h-2.5zM2095,850h2.5v2.5h-2.5zM2102.5,852.5h2.5v2.5h-2.5zM2105,845h2.5v2.5h-2.5zM2105,870h2.5v2.5h-2.5zM2107.5,862.5h2.5v2.5h-2.5zM2112.5,840h2.5v2.5h-2.5zM2112.5,860h2.5v2.5h-2.5zM2115,860h2.5v2.5h-2.5zM2122.5,845h2.5v5h-2.5zM2125,865h2.5v5h-2.5zM2127.5,865h2.5v2.5h-2.5zM2130,847.5h2.5v2.5h-2.5zM2132.5,847.5h2.5v2.5h-2.5zM2142.5,847.5h2.5v2.5h-2.5zM2155,857.5h2.5v2.5h-2.5zM2157.5,842.5h2.5v2.5h-2.5zM2157.5,860h2.5v2.5h-2.5zM2160,847.5h2.5v2.5h-2.5zM2160,862.5h2.5v2.5h-2.5zM2162.5,845h2.5v2.5h-2.5zM2162.5,865h2.5v2.5h-2.5zM2170,847.5h2.5v2.5h-2.5zM2172.5,845h2.5v2.5h-2.5zM2175,862.5h2.5v2.5h-2.5zM2180,840h2.5v2.5h-2.5z"/>
<path fill="#0072c4" d="M197.5,1092.5h2.5v15h-2.5zM200,1087.5h2.5v22.5h-2.5zM202.5,1087.5h2.5v22.5h-2.5zM205,1092.5h2.5v15h-2.5zM207.5,1095h2.5v15h-2.5zM210,1097.5h2.5v10h-2.5zM212.5,1097.5h2.5v17.5h-2.5zM215,1100h2.5v17.5h-2.5zM217.5,1100h2.5v17.5h-2.5zM220,1100h2.5v15h-2.5zM222.5,1100h2.5v12.5h-2.5zM225,1095h2.5v20h-2.5zM227.5,1092.5h2.5v22.5h-2.5zM230,1092.5h2.5v17.5h-2.5zM232.5,1100h2.5v10h-2.5zM235,1100h2.5v10h-2.5zM237.5,1097.5h2.5v12.5h-2.5zM240,1097.5h2.5v15h-2.5zM242.5,1097.5h2.5v15h-2.5zM245,1097.5h2.5v17.5h-2.5zM247.5,1092.5h2.5v22.5h-2.5zM250,1092.5h2.5v20h-2.5zM252.5,1095h2.5v12.5h-2.5zM255,1095h2.5v17.5h-2.5zM257.5,1095h2.5v20h-2.5zM260,1092.5h2.5v25h-2.5zM262.5,1097.5h2.5v20h-2.5zM265,1092.5h2.5v20h-2.5zM267.5,1092.5h2.5v22.5h-2.5zM270,1092.5h2.5v20h-2.5zM272.5,1095h2.5v17.5h-2.5zM275,1087.5h2.5v22.5h-2.5zM277.5,1085h2.5v22.5h-2.5zM280,1082.5h2.5v22.5h-2.5zM282.5,1082.5h2.5v20h-2.5zM285,1082.5h2.5v17.5h-2.5zM287.5,1082.5h2.5v20h-2.5zM290,1082.5h2.5v20h-2.5zM292.5,1080h2.5v20h-2.5zM295,1077.5h2.5v17.5h-2.5zM297.5,1067.5h2.5v25h-2.5zM300,1067.5h2.5v25h-2.5zM302.5,1067.5h2.5v22.5h-2.5zM305,1070h2.5v15h-2.5zM307.5,1065h2.5v17.5h-2.5zM310,1062.5h2.5v17.5h-2.5zM312.5,1062.5h2.5v15h-2.5zM315,1062.5h2.5v12.5h-2.5zM317.5,1052.5h2.5v20h-2.5zM320,1050h2.5v20h-2.5zM322.5,1052.5h2.5v17.5h-2.5zM325,1047.5h2.5v25h-2.5zM327.5,1045h2.5v15h-2.5zM327.5,1062.5h2.5v7.5h-2.5zM330,1042.5h2.5v15h-2.5zM332.5,1030h2.5v25h-2.5zM335,1030h2.5v22.5h-2.5zM337.5,1032.5h2.5v15h-2.5zM340,1032.5h2.5v15h-2.5zM342.5,1030h2.5v15h-2.5zM345,1025h2.5v20h-2.5zM347.5,1025h2.5v20h-2.5zM350,1022.5h2.5v25h-2.5zM352.5,1017.5h2.5v17.5h-2.5zM355,1012.5h2.5v22.5h-2.5zM357.5,1012.5h2.5v22.5h-2.5zM360,1010h2.5v22.5h-2.5zM362.5,1007.5h2.5v25h-2.5zM365,1007.5h2.5v22.5h-2.5zM367.5,1005h2.5v20h-2.5zM370,1010h2.5v17.5h-2.5zM372.5,1005h2.5v17.5h-2.5zM375,997.5h2.5v22.5h-2.5zM377.5,997.5h2.5v20h-2.5zM380,995h2.5v15h-2.5zM382.5,990h2.5v17.5h-2.5zM385,990h2.5v17.5h-2.5zM387.5,985h2.5v22.5h-2.5zM390,982.5h2.5v20h-2.5zM392.5,982.5h2.5v17.5h-2.5zM395,980h2.5v20h-2.5zM397.5,975h2.5v17.5h-2.5zM400,977.5h2.5v15h-2.5zM402.5,977.5h2.5v20h-2.5zM405,975h2.5v20h-2.5zM407.5,975h2.5v17.5h-2.5zM410,970h2.5v20h-2.5zM412.5,967.5h2.5v20h-2.5zM415,965h2.5v17.5h-2.5zM417.5,965h2.5v20h-2.5zM420,965h2.5v20h-2.5zM422.5,967.5h2.5v25h-2.5zM425,965h2.5v30h-2.5zM427.5,965h2.5v27.5h-2.5zM430,970h2.5v15h-2.5zM432.5,967.5h2.5v17.5h-2.5zM435,965h2.5v27.5h-2.5zM437.5,967.5h2.5v25h-2.5zM440,972.5h2.5v17.5h-2.5zM442.5,970h2.5v17.5h-2.5zM445,967.5h2.5v20h-2.5zM447.5,965h2.5v17.5h-2.5zM450,965h2.5v17.5h-2.5zM452.5,967.5h2.5v12.5h-2.5zM455,967.5h2.5v15h-2.5zM457.5,970h2.5v17.5h-2.5zM460,970h2.5v20h-2.5zM462.5,970h2.5v20h-2.5zM465,970h2.5v20h-2.5zM467.5,972.5h2.5v20h-2.5zM470,975h2.5v17.5h-2.5zM472.5,972.5h2.5v22.5h-2.5zM475,975h2.5v17.5h-2.5zM477.5,975h2.5v17.5h-2.5zM480,975h2.5v22.5h-2.5zM482.5,977.5h2.5v25h-2.5zM485,980h2.5v25h-2.5zM487.5,987.5h2.5v17.5h-2.5zM490,992.5h2.5v22.5h-2.5zM492.5,982.5h2.5v32.5h-2.5zM495,980h2.5v22.5h-2.5zM497.5,985h2.5v15h-2.5zM500,982.5h2.5v17.5h-2.5zM502.5,980h2.5v17.5h-2.5zM505,977.5h2.5v20h-2.5zM507.5,977.5h2.5v20h-2.5zM510,982.5h2.5v17.5h-2.5zM512.5,982.5h2.5v20h-2.5zM515,982.5h2.5v17.5h-2.5zM517.5,982.5h2.5v17.5h-2.5zM520,980h2.5v17.5h-2.5zM522.5,980h2.5v17.5h-2.5zM525,977.5h2.5v20h-2.5zM527.5,972.5h2.5v22.5h-2.5zM530,972.5h2.5v15h-2.5zM532.5,975h2.5v12.5h-2.5zM535,970h2.5v17.5h-2.5zM537.5,970h2.5v17.5h-2.5zM540,967.5h2.5v17.5h-2.5zM542.5,962.5h2.5v22.5h-2.5zM545,957.5h2.5v17.5h-2.5zM547.5,957.5h2.5v17.5h-2.5zM550,955h2.5v20h-2.5zM552.5,952.5h2.5v15h-2.5zM555,945h2.5v22.5h-2.5zM557.5,945h2.5v20h-2.5zM560,950h2.5v15h-2.5zM562.5,945h2.5v20h-2.5zM565,940h2.5v22.5h-2.5zM567.5,937.5h2.5v15h-2.5zM570,937.5h2.5v17.5h-2.5zM572.5,937.5h2.5v17.5h-2.5zM575,937.5h2.5v17.5h-2.5zM577.5,935h2.5v20h-2.5zM580,935h2.5v15h-2.5zM582.5,927.5h2.5v17.5h-2.5zM585,925h2.5v17.5h-2.5zM587.5,920h2.5v20h-2.5zM590,917.5h2.5v22.5h-2.5zM592.5,920h2.5v12.5h-2.5zM595,912.5h2.5v20h-2.5zM597.5,910h2.5v22.5h-2.5zM600,907.5h2.5v17.5h-2.5zM602.5,907.5h2.5v17.5h-2.5zM605,907.5h2.5v17.5h-2.5zM607.5,907.5h2.5v20h-2.5zM610,912.5h2.5v17.5h-2.5zM612.5,910h2.5v22.5h-2.5zM615,907.5h2.5v25h-2.5zM617.5,907.5h2.5v22.5h-2.5zM620,907.5h2.5v20h-2.5zM622.5,907.5h2.5v20h-2.5zM625,905h2.5v17.5h-2.5zM627.5,902.5h2.5v25h-2.5zM630,902.5h2.5v22.5h-2.5zM632.5,905h2.5v17.5h-2.5zM635,905h2.5v20h-2.5zM637.5,907.5h2.5v25h-2.5zM640,912.5h2.5v22.5h-2.5zM642.5,912.5h2.5v17.5h-2.5zM645,910h2.5v20h-2.5zM647.5,907.5h2.5v25h-2.5zM650,907.5h2.5v22.5h-2.5zM652.5,912.5h2.5v17.5h-2.5zM655,910h2.5v15h-2.5zM657.5,912.5h2.5v12.5h-2.5zM660,912.5h2.5v17.5h-2.5zM662.5,912.5h2.5v15h-2.5zM665,912.5h2.5v20h-2.5zM667.5,912.5h2.5v22.5h-2.5zM670,917.5h2.5v17.5h-2.5zM672.5,920h2.5v10h-2.5zM675,920h2.5v20h-2.5zM677.5,920h2.5v17.5h-2.5zM680,920h2.5v17.5h-2.5zM682.5,917.5h2.5v22.5h-2.5zM685,917.5h2.5v20h-2.5zM687.5,915h2.5v12.5h-2.5zM690,920h2.5v20h-2.5zM692.5,917.5h2.5v22.5h-2.5zM695,917.5h2.5v20h-2.5zM697.5,917.5h2.5v25h-2.5zM700,925h2.5v17.5h-2.5zM702.5,927.5h2.5v15h-2.5zM705,927.5h2.5v12.5h-2.5zM707.5,927.5h2.5v15h-2.5zM710,922.5h2.5v22.5h-2.5zM712.5,920h2.5v25h-2.5zM715,920h2.5v15h-2.5zM717.5,915h2.5v20h-2.5zM720,915h2.5v20h-2.5zM722.5,915h2.5v17.5h-2.5zM725,917.5h2.5v15h-2.5zM727.5,917.5h2.5v15h-2.5zM730,917.5h2.5v12.5h-2.5zM732.5,917.5h2.5v12.5h-2.5zM735,917.5h2.5v20h-2.5zM737.5,915h2.5v25h-2.5zM740,912.5h2.5v25h-2.5zM742.5,915h2.5v12.5h-2.5zM745,912.5h2.5v15h-2.5zM747.5,902.5h2.5v22.5h-2.5zM750,905h2.5v17.5h-2.5zM752.5,905h2.5v25h-2.5zM755,905h2.5v25h-2.5zM757.5,905h2.5v27.5h-2.5zM760,910h2.5v17.5h-2.5zM762.5,905h2.5v22.5h-2.5zM765,902.5h2.5v22.5h-2.5zM767.5,905h2.5v20h-2.5zM770,905h2.5v17.5h-2.5zM772.5,902.5h2.5v20h-2.5zM775,902.5h2.5v22.5h-2.5zM777.5,905h2.5v17.5h-2.5zM780,900h2.5v20h-2.5zM782.5,890h2.5v27.5h-2.5zM785,887.5h2.5v30h-2.5zM787.5,892.5h2.5v25h-2.5zM790,900h2.5v20h-2.5zM792.5,890h2.5v27.5h-2.5zM795,887.5h2.5v27.5h-2.5zM797.5,890h2.5v25h-2.5zM800,895h2.5v20h-2.5zM802.5,892.5h2.5v22.5h-2.5zM805,890h2.5v17.5h-2.5zM807.5,887.5h2.5v17.5h-2.5zM810,885h2.5v22.5h-2.5zM812.5,885h2.5v20h-2.5zM815,885h2.5v20h-2.5zM817.5,885h2.5v15h-2.5zM820,885h2.5v17.5h-2.5zM822.5,885h2.5v20h-2.5zM825,880h2.5v22.5h-2.5zM827.5,877.5h2.5v20h-2.5zM830,877.5h2.5v20h-2.5zM832.5,877.5h2.5v22.5h-2.5zM835,875h2.5v22.5h-2.5zM837.5,875h2.5v17.5h-2.5zM840,877.5h2.5v15h-2.5zM842.5,872.5h2.5v20h-2.5zM845,870h2.5v20h-2.5zM847.5,870h2.5v27.5h-2.5zM850,877.5h2.5v27.5h-2.5zM852.5,880h2.5v27.5h-2.5zM855,877.5h2.5v27.5h-2.5zM857.5,877.5h2.5v17.5h-2.5zM860,877.5h2.5v15h-2.5zM862.5,877.5h2.5v15h-2.5zM865,875h2.5v17.5h-2.5zM867.5,875h2.5v22.5h-2.5zM870,877.5h2.5v22.5h-2.5zM872.5,875h2.5v22.5h-2.5zM875,877.5h2.5v20h-2.5zM877.5,880h2.5v17.5h-2.5zM880,875h2.5v22.5h-2.5zM882.5,872.5h2.5v25h-2.5zM885,870h2.5v27.5h-2.5zM887.5,872.5h2.5v22.5h-2.5zM890,877.5h2.5v17.5h-2.5zM892.5,880h2.5v17.5h-2.5zM895,877.5h2.5v22.5h-2.5zM897.5,880h2.5v25h-2.5zM900,880h2.5v22.5h-2.5zM902.5,882.5h2.5v17.5h-2.5zM905,885h2.5v12.5h-2.5zM907.5,885h2.5v15h-2.5zM910,882.5h2.5v20h-2.5zM912.5,885h2.5v17.5h-2.5zM915,882.5h2.5v17.5h-2.5zM917.5,880h2.5v17.5h-2.5zM920,877.5h2.5v20h-2.5zM922.5,877.5h2.5v22.5h-2.5zM925,880h2.5v20h-2.5zM927.5,882.5h2.5v17.5h-2.5zM930,885h2.5v15h-2.5zM932.5,885h2.5v15h-2.5zM935,885h2.5v15h-2.5zM937.5,882.5h2.5v17.5h-2.5zM940,882.5h2.5v17.5h-2.5zM942.5,880h2.5v17.5h-2.5zM945,880h2.5v17.5h-2.5zM947.5,880h2.5v17.5h-2.5zM950,880h2.5v20h-2.5zM952.5,882.5h2.5v17.5h-2.5zM955,882.5h2.5v17.5h-2.5zM957.5,880h2.5v17.5h-2.5zM960,880h2.5v17.5h-2.5zM962.5,880h2.5v15h-2.5zM965,882.5h2.5v15h-2.5zM967.5,885h2.5v20h-2.5zM970,890h2.5v17.5h-2.5zM972.5,890h2.5v15h-2.5zM975,882.5h2.5v25h-2.5zM977.5,885h2.5v20h-2.5zM980,882.5h2.5v22.5h-2.5zM982.5,880h2.5v20h-2.5zM985,877.5h2.5v15h-2.5zM987.5,880h2.5v17.5h-2.5zM990,880h2.5v22.5h-2.5zM992.5,882.5h2.5v20h-2.5zM995,882.5h2.5v15h-2.5zM997.5,882.5h2.5v15h-2.5zM1000,877.5h2.5v20h-2.5zM1002.5,877.5h2.5v17.5h-2.5zM1005,872.5h2.5v22.5h-2.5zM1007.5,872.5h2.5v20h-2.5zM1010,870h2.5v15h-2.5zM1012.5,870h2.5v17.5h-2.5zM1015,870h2.5v15h-2.5zM1017.5,867.5h2.5v17.5h-2.5zM1020,865h2.5v17.5h-2.5zM1022.5,862.5h2.5v20h-2.5zM1025,862.5h2.5v20h-2.5zM1027.5,865h2.5v17.5h-2.5zM1030,862.5h2.5v17.5h-2.5zM1032.5,860h2.5v20h-2.5zM1035,862.5h2.5v15h-2.5zM1037.5,865h2.5v17.5h-2.5zM1040,862.5h2.5v20h-2.5zM1042.5,862.5h2.5v20h-2.5zM1045,865h2.5v17.5h-2.5zM1047.5,862.5h2.5v20h-2.5zM1050,870h2.5v20h-2.5zM1052.5,865h2.5v25h-2.5zM1055,860h2.5v25h-2.5zM1057.5,860h2.5v20h-2.5zM1060,860h2.5v20h-2.5zM1062.5,860h2.5v20h-2.5zM1065,855h2.5v17.5h-2.5zM1067.5,855h2.5v17.5h-2.5zM1070,857.5h2.5v15h-2.5zM1072.5,860h2.5v15h-2.5zM1075,860h2.5v17.5h-2.5zM1077.5,857.5h2.5v15h-2.5zM1080,857.5h2.5v15h-2.5zM1082.5,855h2.5v15h-2.5zM1085,855h2.5v17.5h-2.5zM1087.5,852.5h2.5v17.5h-2.5zM1090,855h2.5v17.5h-2.5zM1092.5,857.5h2.5v22.5h-2.5zM1095,860h2.5v20h-2.5zM1097.5,862.5h2.5v17.5h-2.5zM1100,860h2.5v15h-2.5zM1102.5,855h2.5v20h-2.5zM1105,847.5h2.5v27.5h-2.5zM1107.5,847.5h2.5v22.5h-2.5zM1110,855h2.5v17.5h-2.5zM1112.5,855h2.5v22.5h-2.5zM1115,860h2.5v17.5h-2.5zM1117.5,860h2.5v17.5h-2.5zM1120,857.5h2.5v20h-2.5zM1122.5,852.5h2.5v20h-2.5zM1125,852.5h2.5v22.5h-2.5zM1127.5,857.5h2.5v17.5h-2.5zM1130,855h2.5v20h-2.5zM1132.5,857.5h2.5v22.5h-2.5zM1135,862.5h2.5v17.5h-2.5zM1137.5,860h2.5v17.5h-2.5zM1140,857.5h2.5v20h-2.5zM1142.5,857.5h2.5v20h-2.5zM1145,857.5h2.5v15h-2.5zM1147.5,862.5h2.5v12.5h-2.5zM1147.5,877.5h2.5v2.5h-2.5zM1150,862.5h2.5v20h-2.5zM1152.5,870h2.5v15h-2.5zM1155,870h2.5v20h-2.5zM1157.5,867.5h2.5v25h-2.5zM1160,867.5h2.5v15h-2.5zM1162.5,865h2.5v15h-2.5zM1165,867.5h2.5v17.5h-2.5zM1167.5,872.5h2.5v15h-2.5zM1170,872.5h2.5v17.5h-2.5zM1172.5,872.5h2.5v15h-2.5zM1175,862.5h2.5v22.5h-2.5zM1177.5,862.5h2.5v20h-2.5zM1180,865h2.5v17.5h-2.5zM1182.5,865h2.5v20h-2.5zM1185,865h2.5v22.5h-2.5zM1187.5,867.5h2.5v22.5h-2.5zM1190,872.5h2.5v17.5h-2.5zM1192.5,872.5h2.5v20h-2.5zM1195,872.5h2.5v20h-2.5zM1197.5,865h2.5v20h-2.5zM1200,862.5h2.5v17.5h-2.5zM1202.5,860h2.5v17.5h-2.5zM1205,860h2.5v15h-2.5zM1207.5,862.5h2.5v15h-2.5zM1210,862.5h2.5v15h-2.5zM1212.5,860h2.5v20h-2.5zM1215,857.5h2.5v20h-2.5zM1217.5,855h2.5v17.5h-2.5zM1220,850h2.5v17.5h-2.5zM1222.5,850h2.5v20h-2.5zM1225,850h2.5v20h-2.5zM1227.5,852.5h2.5v20h-2.5zM1230,852.5h2.5v22.5h-2.5zM1232.5,855h2.5v22.5h-2.5zM1235,860h2.5v22.5h-2.5zM1237.5,865h2.5v20h-2.5zM1240,865h2.5v20h-2.5zM1242.5,875h2.5v15h-2.5zM1245,877.5h2.5v15h-2.5zM1247.5,877.5h2.5v20h-2.5zM1250,885h2.5v20h-2.5zM1250,907.5h2.5v2.5h-2.5zM1252.5,890h2.5v25h-2.5zM1255,900h2.5v22.5h-2.5zM1257.5,902.5h2.5v27.5h-2.5zM1260,910h2.5v27.5h-2.5zM1262.5,920h2.5v17.5h-2.5zM1265,925h2.5v27.5h-2.5zM1267.5,935h2.5v22.5h-2.5zM1270,940h2.5v17.5h-2.5zM1272.5,942.5h2.5v25h-2.5zM1275,950h2.5v27.5h-2.5zM1277.5,965h2.5v22.5h-2.5zM1280,970h2.5v22.5h-2.5zM1282.5,975h2.5v27.5h-2.5zM1285,987.5h2.5v22.5h-2.5zM1287.5,990h2.5v30h-2.5zM1290,1002.5h2.5v20h-2.5zM1292.5,1007.5h2.5v25h-2.5zM1295,1010h2.5v22.5h-2.5zM1297.5,1017.5h2.5v27.5h-2.5zM1300,1027.5h2.5v17.5h-2.5zM1302.5,1030h2.5v17.5h-2.5zM1305,1032.5h2.5v20h-2.5zM1307.5,1040h2.5v17.5h-2.5zM1310,1042.5h2.5v20h-2.5zM1312.5,1045h2.5v30h-2.5zM1315,1055h2.5v22.5h-2.5zM1317.5,1060h2.5v22.5h-2.5zM1320,1065h2.5v17.5h-2.5zM1322.5,1062.5h2.5v15h-2.5zM1325,1062.5h2.5v15h-2.5zM1327.5,1060h2.5v22.5h-2.5zM1330,1055h2.5v25h-2.5zM1332.5,1052.5h2.5v20h-2.5zM1335,1055h2.5v17.5h-2.5zM1337.5,1060h2.5v17.5h-2.5zM1340,1057.5h2.5v20h-2.5zM1342.5,1057.5h2.5v17.5h-2.5zM1345,1052.5h2.5v20h-2.5zM1347.5,1047.5h2.5v17.5h-2.5zM1350,1040h2.5v22.5h-2.5zM1352.5,1027.5h2.5v30h-2.5zM1355,1025h2.5v17.5h-2.5zM1355,1045h2.5v5h-2.5zM1357.5,1025h2.5v15h-2.5zM1360,1020h2.5v15h-2.5zM1362.5,1012.5h2.5v17.5h-2.5zM1365,1007.5h2.5v20h-2.5zM1367.5,1005h2.5v20h-2.5zM1370,1000h2.5v15h-2.5zM1372.5,992.5h2.5v20h-2.5zM1375,980h2.5v30h-2.5zM1377.5,972.5h2.5v25h-2.5zM1380,962.5h2.5v30h-2.5zM1382.5,960h2.5v22.5h-2.5zM1385,955h2.5v20h-2.5zM1387.5,950h2.5v20h-2.5zM1390,940h2.5v22.5h-2.5zM1392.5,935h2.5v17.5h-2.5zM1395,922.5h2.5v22.5h-2.5zM1397.5,917.5h2.5v22.5h-2.5zM1400,915h2.5v17.5h-2.5zM1402.5,902.5h2.5v27.5h-2.5zM1405,900h2.5v25h-2.5zM1407.5,897.5h2.5v17.5h-2.5zM1410,892.5h2.5v22.5h-2.5zM1412.5,885h2.5v20h-2.5zM1415,882.5h2.5v20h-2.5zM1417.5,875h2.5v25h-2.5zM1420,870h2.5v27.5h-2.5zM1422.5,870h2.5v12.5h-2.5zM1425,867.5h2.5v15h-2.5zM1427.5,865h2.5v15h-2.5zM1430,860h2.5v17.5h-2.5zM1432.5,850h2.5v27.5h-2.5zM1435,852.5h2.5v17.5h-2.5zM1437.5,852.5h2.5v15h-2.5zM1440,852.5h2.5v15h-2.5zM1442.5,855h2.5v17.5h-2.5zM1445,855h2.5v17.5h-2.5zM1447.5,852.5h2.5v20h-2.5zM1450,855h2.5v20h-2.5zM1452.5,855h2.5v27.5h-2.5zM1455,865h2.5v17.5h-2.5zM1457.5,862.5h2.5v20h-2.5zM1460,857.5h2.5v22.5h-2.5zM1462.5,857.5h2.5v25h-2.5zM1465,862.5h2.5v17.5h-2.5zM1467.5,862.5h2.5v17.5h-2.5zM1470,862.5h2.5v12.5h-2.5zM1472.5,865h2.5v15h-2.5zM1475,867.5h2.5v15h-2.5zM1477.5,867.5h2.5v17.5h-2.5zM1480,872.5h2.5v20h-2.5zM1482.5,875h2.5v22.5h-2.5zM1485,885h2.5v17.5h-2.5zM1487.5,885h2.5v20h-2.5zM1490,885h2.5v22.5h-2.5zM1492.5,892.5h2.5v20h-2.5zM1495,895h2.5v22.5h-2.5zM1497.5,895h2.5v22.5h-2.5zM1500,900h2.5v25h-2.5zM1502.5,907.5h2.5v25h-2.5zM1505,915h2.5v17.5h-2.5zM1507.5,912.5h2.5v20h-2.5zM1510,915h2.5v20h-2.5zM1512.5,915h2.5v22.5h-2.5zM1515,920h2.5v20h-2.5zM1517.5,922.5h2.5v27.5h-2.5zM1520,932.5h2.5v20h-2.5zM1522.5,937.5h2.5v22.5h-2.5zM1525,942.5h2.5v20h-2.5zM1527.5,942.5h2.5v22.5h-2.5zM1530,947.5h2.5v17.5h-2.5zM1532.5,950h2.5v22.5h-2.5zM1535,952.5h2.5v20h-2.5zM1537.5,955h2.5v20h-2.5zM1540,962.5h2.5v15h-2.5zM1542.5,962.5h2.5v17.5h-2.5zM1545,960h2.5v20h-2.5zM1547.5,960h2.5v20h-2.5zM1550,962.5h2.5v17.5h-2.5zM1552.5,962.5h2.5v20h-2.5zM1555,957.5h2.5v22.5h-2.5zM1557.5,957.5h2.5v15h-2.5zM1560,957.5h2.5v17.5h-2.5zM1562.5,960h2.5v17.5h-2.5zM1565,960h2.5v20h-2.5zM1567.5,957.5h2.5v22.5h-2.5zM1570,957.5h2.5v20h-2.5zM1572.5,957.5h2.5v17.5h-2.5zM1575,952.5h2.5v25h-2.5zM1577.5,952.5h2.5v22.5h-2.5zM1580,950h2.5v20h-2.5zM1582.5,942.5h2.5v25h-2.5zM1585,940h2.5v17.5h-2.5zM1587.5,935h2.5v20h-2.5zM1590,932.5h2.5v15h-2.5zM1592.5,930h2.5v15h-2.5zM1595,925h2.5v22.5h-2.5zM1597.5,922.5h2.5v22.5h-2.5zM1600,912.5h2.5v30h-2.5zM1602.5,912.5h2.5v20h-2.5zM1605,910h2.5v17.5h-2.5zM1607.5,905h2.5v20h-2.5zM1610,902.5h2.5v20h-2.5zM1612.5,900h2.5v20h-2.5zM1615,892.5h2.5v20h-2.5zM1617.5,892.5h2.5v22.5h-2.5zM1620,892.5h2.5v20h-2.5zM1622.5,887.5h2.5v22.5h-2.5zM1625,877.5h2.5v30h-2.5zM1627.5,875h2.5v22.5h-2.5zM1630,870h2.5v20h-2.5zM1632.5,865h2.5v22.5h-2.5zM1635,857.5h2.5v27.5h-2.5zM1637.5,860h2.5v20h-2.5zM1640,862.5h2.5v20h-2.5zM1642.5,862.5h2.5v22.5h-2.5zM1645,860h2.5v17.5h-2.5zM1647.5,860h2.5v15h-2.5zM1650,860h2.5v15h-2.5zM1652.5,852.5h2.5v22.5h-2.5zM1655,852.5h2.5v20h-2.5zM1657.5,852.5h2.5v17.5h-2.5zM1660,845h2.5v25h-2.5zM1662.5,845h2.5v20h-2.5zM1665,847.5h2.5v17.5h-2.5zM1667.5,845h2.5v17.5h-2.5zM1670,847.5h2.5v15h-2.5zM1672.5,847.5h2.5v17.5h-2.5zM1675,845h2.5v17.5h-2.5zM1677.5,845h2.5v15h-2.5zM1680,847.5h2.5v12.5h-2.5zM1682.5,845h2.5v17.5h-2.5zM1685,840h2.5v22.5h-2.5zM1687.5,840h2.5v17.5h-2.5zM1690,840h2.5v20h-2.5zM1692.5,840h2.5v22.5h-2.5zM1695,845h2.5v17.5h-2.5zM1697.5,852.5h2.5v15h-2.5zM1700,855h2.5v17.5h-2.5zM1702.5,857.5h2.5v15h-2.5zM1705,857.5h2.5v17.5h-2.5zM1707.5,860h2.5v20h-2.5zM1710,865h2.5v15h-2.5zM1712.5,865h2.5v20h-2.5zM1715,867.5h2.5v17.5h-2.5zM1717.5,870h2.5v12.5h-2.5zM1720,867.5h2.5v20h-2.5zM1722.5,870h2.5v20h-2.5zM1725,877.5h2.5v20h-2.5zM1727.5,880h2.5v17.5h-2.5zM1730,882.5h2.5v22.5h-2.5zM1732.5,882.5h2.5v22.5h-2.5zM1735,885h2.5v17.5h-2.5zM1737.5,887.5h2.5v17.5h-2.5zM1740,887.5h2.5v17.5h-2.5zM1742.5,887.5h2.5v20h-2.5zM1745,887.5h2.5v25h-2.5zM1747.5,892.5h2.5v25h-2.5zM1750,892.5h2.5v25h-2.5zM1752.5,895h2.5v17.5h-2.5zM1755,897.5h2.5v15h-2.5zM1757.5,897.5h2.5v15h-2.5zM1760,895h2.5v27.5h-2.5zM1762.5,897.5h2.5v22.5h-2.5zM1765,897.5h2.5v22.5h-2.5zM1767.5,900h2.5v20h-2.5zM1770,902.5h2.5v20h-2.5zM1772.5,907.5h2.5v17.5h-2.5zM1775,907.5h2.5v20h-2.5zM1777.5,905h2.5v25h-2.5zM1780,905h2.5v20h-2.5zM1782.5,907.5h2.5v15h-2.5zM1785,905h2.5v20h-2.5zM1787.5,907.5h2.5v20h-2.5zM1790,910h2.5v22.5h-2.5zM1792.5,912.5h2.5v20h-2.5zM1795,910h2.5v17.5h-2.5zM1797.5,910h2.5v17.5h-2.5zM1800,912.5h2.5v17.5h-2.5zM1802.5,907.5h2.5v20h-2.5zM1805,905h2.5v22.5h-2.5zM1807.5,907.5h2.5v20h-2.5zM1810,907.5h2.5v17.5h-2.5zM1812.5,910h2.5v17.5h-2.5zM1815,902.5h2.5v25h-2.5zM1817.5,895h2.5v20h-2.5zM1820,892.5h2.5v20h-2.5zM1822.5,892.5h2.5v17.5h-2.5zM1825,895h2.5v15h-2.5zM1827.5,895h2.5v15h-2.5zM1830,892.5h2.5v17.5h-2.5zM1832.5,887.5h2.5v22.5h-2.5zM1835,882.5h2.5v22.5h-2.5zM1837.5,875h2.5v25h-2.5zM1840,872.5h2.5v25h-2.5zM1842.5,872.5h2.5v22.5h-2.5zM1845,870h2.5v25h-2.5zM1847.5,862.5h2.5v27.5h-2.5zM1850,862.5h2.5v22.5h-2.5zM1852.5,862.5h2.5v20h-2.5zM1855,860h2.5v20h-2.5zM1857.5,860h2.5v17.5h-2.5zM1860,857.5h2.5v17.5h-2.5zM1862.5,850h2.5v22.5h-2.5zM1865,852.5h2.5v17.5h-2.5zM1867.5,852.5h2.5v20h-2.5zM1870,855h2.5v17.5h-2.5zM1872.5,845h2.5v22.5h-2.5zM1875,845h2.5v20h-2.5zM1877.5,840h2.5v17.5h-2.5zM1880,837.5h2.5v20h-2.5zM1882.5,840h2.5v17.5h-2.5zM1885,840h2.5v17.5h-2.5zM1887.5,840h2.5v20h-2.5zM1890,840h2.5v22.5h-2.5zM1892.5,840h2.5v20h-2.5zM1895,840h2.5v22.5h-2.5zM1897.5,845h2.5v20h-2.5zM1900,840h2.5v22.5h-2.5zM1902.5,840h2.5v17.5h-2.5zM1905,837.5h2.5v20h-2.5zM1907.5,837.5h2.5v20h-2.5zM1910,837.5h2.5v17.5h-2.5zM1912.5,840h2.5v15h-2.5zM1915,840h2.5v15h-2.5zM1917.5,845h2.5v12.5h-2.5zM1920,835h2.5v22.5h-2.5zM1922.5,835h2.5v27.5h-2.5zM1925,837.5h2.5v27.5h-2.5zM1927.5,840h2.5v22.5h-2.5zM1930,842.5h2.5v20h-2.5zM1932.5,850h2.5v15h-2.5zM1935,850h2.5v22.5h-2.5zM1937.5,850h2.5v25h-2.5zM1940,852.5h2.5v20h-2.5zM1942.5,852.5h2.5v17.5h-2.5zM1945,855h2.5v20h-2.5zM1947.5,855h2.5v22.5h-2.5zM1950,857.5h2.5v15h-2.5zM1952.5,857.5h2.5v17.5h-2.5zM1955,857.5h2.5v22.5h-2.5zM1957.5,860h2.5v20h-2.5zM1960,862.5h2.5v25h-2.5zM1962.5,862.5h2.5v22.5h-2.5zM1965,860h2.5v22.5h-2.5zM1967.5,860h2.5v27.5h-2.5zM1970,870h2.5v20h-2.5zM1972.5,872.5h2.5v17.5h-2.5zM1975,872.5h2.5v20h-2.5zM1977.5,872.5h2.5v20h-2.5zM1980,872.5h2.5v20h-2.5zM1982.5,872.5h2.5v17.5h-2.5zM1985,872.5h2.5v20h-2.5zM1987.5,872.5h2.5v20h-2.5zM1990,877.5h2.5v15h-2.5zM1992.5,877.5h2.5v15h-2.5zM1995,877.5h2.5v17.5h-2.5zM1997.5,880h2.5v15h-2.5zM2000,877.5h2.5v17.5h-2.5zM2002.5,870h2.5v25h-2.5zM2005,867.5h2.5v20h-2.5zM2007.5,870h2.5v20h-2.5zM2010,877.5h2.5v15h-2.5zM2012.5,882.5h2.5v12.5h-2.5zM2015,882.5h2.5v10h-2.5zM2017.5,880h2.5v20h-2.5zM2020,877.5h2.5v20h-2.5zM2022.5,875h2.5v15h-2.5zM2025,872.5h2.5v27.5h-2.5zM2027.5,875h2.5v25h-2.5zM2030,872.5h2.5v22.5h-2.5zM2032.5,870h2.5v25h-2.5zM2035,867.5h2.5v20h-2.5zM2037.5,867.5h2.5v20h-2.5zM2040,870h2.5v17.5h-2.5zM2042.5,870h2.5v15h-2.5zM2045,870h2.5v20h-2.5zM2047.5,872.5h2.5v17.5h-2.5zM2050,875h2.5v20h-2.5zM2052.5,875h2.5v20h-2.5zM2055,875h2.5v20h-2.5zM2057.5,875h2.5v17.5h-2.5zM2060,867.5h2.5v22.5h-2.5zM2062.5,862.5h2.5v22.5h-2.5zM2065,865h2.5v12.5h-2.5zM2067.5,862.5h2.5v15h-2.5zM2070,857.5h2.5v20h-2.5zM2072.5,855h2.5v25h-2.5zM2075,857.5h2.5v17.5h-2.5zM2077.5,857.5h2.5v17.5h-2.5zM2080,860h2.5v15h-2.5zM2082.5,862.5h2.5v12.5h-2.5zM2085,855h2.5v20h-2.5zM2087.5,852.5h2.5v22.5h-2.5zM2090,847.5h2.5v22.5h-2.5zM2092.5,850h2.5v15h-2.5zM2095,852.5h2.5v17.5h-2.5zM2097.5,855h2.5v17.5h-2.5zM2100,857.5h2.5v15h-2.5zM2102.5,855h2.5v17.5h-2.5zM2105,847.5h2.5v22.5h-2.5zM2107.5,842.5h2.5v20h-2.5zM2110,842.5h2.5v17.5h-2.5zM2112.5,842.5h2.5v17.5h-2.5zM2115,842.5h2.5v17.5h-2.5zM2117.5,850h2.5v12.5h-2.5zM2120,852.5h2.5v17.5h-2.5zM2122.5,850h2.5v22.5h-2.5zM2125,842.5h2.5v22.5h-2.5zM2127.5,842.5h2.5v22.5h-2.5zM2130,850h2.5v17.5h-2.5zM2132.5,850h2.5v17.5h-2.5zM2135,847.5h2.5v22.5h-2.5zM2137.5,850h2.5v20h-2.5zM2140,852.5h2.5v17.5h-2.5zM2142.5,850h2.5v17.5h-2.5zM2145,847.5h2.5v17.5h-2.5zM2147.5,847.5h2.5v17.5h-2.5zM2150,847.5h2.5v15h-2.5zM2152.5,845h2.5v15h-2.5zM2155,842.5h2.5v15h-2.5zM2157.5,845h2.5v15h-2.5zM2160,850h2.5v12.5h-2.5zM2162.5,847.5h2.5v17.5h-2.5zM2165,845h2.5v22.5h-2.5zM2167.5,847.5h2.5v20h-2.5zM2170,850h2.5v17.5h-2.5zM2172.5,847.5h2.5v17.5h-2.5zM2175,835h2.5v27.5h-2.5zM2177.5,835h2.5v22.5h-2.5zM2180,842.5h2.5v15h-2.5zM2182.5,842.5h2.5v15h-2.5z"/></g>
<line x1="200.1" y1="853.0" x2="2183.4" y2="853.0" stroke="#000" stroke-width="5.4" stroke-dasharray="5.1 5.56"/>
<g shape-rendering="crispEdges"><path fill="#f0501a" fill-opacity="0.30" d="M200,1087.5h2.5v2.5h-2.5zM205,1090h2.5v2.5h-2.5zM220,1092.5h2.5v2.5h-2.5zM222.5,1090h2.5v2.5h-2.5zM227.5,1087.5h2.5v2.5h-2.5zM237.5,1112.5h2.5v2.5h-2.5zM240,1090h2.5v2.5h-2.5zM242.5,1092.5h2.5v2.5h-2.5zM250,1090h2.5v2.5h-2.5zM252.5,1087.5h2.5v2.5h-2.5zM257.5,1082.5h2.5v2.5h-2.5zM260,1110h2.5v2.5h-2.5zM265,1070h2.5v2.5h-2.5zM265,1105h2.5v2.5h-2.5zM267.5,1105h2.5v2.5h-2.5zM270,1067.5h2.5v2.5h-2.5zM270,1087.5h2.5v17.5h-2.5zM280,1052.5h2.5v2.5h-2.5zM280,1080h2.5v2.5h-2.5zM282.5,1072.5h2.5v2.5h-2.5zM290,1040h2.5v2.5h-2.5zM295,1060h2.5v2.5h-2.5zM297.5,1032.5h2.5v5h-2.5zM297.5,1052.5h2.5v7.5h-2.5zM305,1047.5h2.5v2.5h-2.5zM312.5,1027.5h2.5v2.5h-2.5zM317.5,1015h2.5v2.5h-2.5zM320,987.5h2.5v5h-2.5zM322.5,1005h2.5v2.5h-2.5zM325,977.5h2.5v5h-2.5zM327.5,972.5h2.5v2.5h-2.5zM332.5,987.5h2.5v2.5h-2.5zM335,955h2.5v2.5h-2.5zM335,977.5h2.5v2.5h-2.5zM337.5,942.5h2.5v5h-2.5zM340,935h2.5v5h-2.5zM347.5,917.5h2.5v2.5h-2.5zM347.5,942.5h2.5v2.5h-2.5zM355,920h2.5v2.5h-2.5zM357.5,877.5h2.5v10h-2.5zM360,902.5h2.5v10h-2.5zM362.5,872.5h2.5v2.5h-2.5zM370,877.5h2.5v2.5h-2.5zM372.5,837.5h2.5v5h-2.5zM372.5,867.5h2.5v2.5h-2.5zM377.5,817.5h2.5v7.5h-2.5zM380,802.5h2.5v2.5h-2.5zM382.5,827.5h2.5v12.5h-2.5zM385,790h2.5v2.5h-2.5zM390,772.5h2.5v2.5h-2.5zM390,800h2.5v5h-2.5zM392.5,762.5h2.5v2.5h-2.5zM402.5,762.5h2.5v2.5h-2.5zM402.5,767.5h2.5v2.5h-2.5zM405,760h2.5v2.5h-2.5zM407.5,750h2.5v5h-2.5zM410,722.5h2.5v2.5h-2.5zM412.5,745h2.5v2.5h-2.5zM417.5,702.5h2.5v2.5h-2.5zM420,725h2.5v2.5h-2.5zM422.5,690h2.5v2.5h-2.5zM422.5,717.5h2.5v2.5h-2.5zM427.5,682.5h2.5v2.5h-2.5zM430,695h2.5v2.5h-2.5zM435,670h2.5v2.5h-2.5zM437.5,662.5h2.5v2.5h-2.5zM450,657.5h2.5v2.5h-2.5zM457.5,652.5h2.5v2.5h-2.5zM457.5,677.5h2.5v2.5h-2.5zM460,655h2.5v2.5h-2.5zM462.5,672.5h2.5v2.5h-2.5zM470,672.5h2.5v2.5h-2.5zM477.5,680h2.5v2.5h-2.5zM480,680h2.5v2.5h-2.5zM490,685h2.5v2.5h-2.5zM492.5,692.5h2.5v2.5h-2.5zM502.5,705h2.5v2.5h-2.5zM507.5,690h2.5v2.5h-2.5zM510,722.5h2.5v2.5h-2.5zM515,737.5h2.5v2.5h-2.5zM522.5,752.5h2.5v2.5h-2.5zM525,727.5h2.5v2.5h-2.5zM527.5,760h2.5v2.5h-2.5zM530,770h2.5v2.5h-2.5zM535,752.5h2.5v5h-2.5zM537.5,785h2.5v2.5h-2.5zM540,762.5h2.5v2.5h-2.5zM540,790h2.5v2.5h-2.5zM540,795h2.5v2.5h-2.5zM545,772.5h2.5v2.5h-2.5zM560,832.5h2.5v2.5h-2.5zM562.5,815h2.5v2.5h-2.5zM562.5,835h2.5v2.5h-2.5zM567.5,855h2.5v2.5h-2.5zM570,862.5h2.5v2.5h-2.5zM572.5,870h2.5v2.5h-2.5zM577.5,880h2.5v7.5h-2.5zM582.5,895h2.5v2.5h-2.5zM585,877.5h2.5v2.5h-2.5zM595,905h2.5v2.5h-2.5zM597.5,927.5h2.5v2.5h-2.5zM600,915h2.5v2.5h-2.5zM607.5,945h2.5v2.5h-2.5zM610,952.5h2.5v2.5h-2.5zM617.5,945h2.5v2.5h-2.5zM617.5,970h2.5v2.5h-2.5zM625,962.5h2.5v2.5h-2.5zM627.5,995h2.5v2.5h-2.5zM632.5,975h2.5v7.5h-2.5zM640,1007.5h2.5v2.5h-2.5zM642.5,992.5h2.5v2.5h-2.5zM645,992.5h2.5v2.5h-2.5zM652.5,992.5h2.5v2.5h-2.5zM665,1022.5h2.5v2.5h-2.5zM667.5,1020h2.5v2.5h-2.5zM670,992.5h2.5v2.5h-2.5zM672.5,990h2.5v2.5h-2.5zM682.5,1007.5h2.5v5h-2.5zM687.5,990h2.5v2.5h-2.5zM690,982.5h2.5v2.5h-2.5zM692.5,1002.5h2.5v2.5h-2.5zM697.5,977.5h2.5v2.5h-2.5zM707.5,962.5h2.5v2.5h-2.5zM707.5,985h2.5v2.5h-2.5zM710,960h2.5v2.5h-2.5zM715,972.5h2.5v5h-2.5zM720,962.5h2.5v2.5h-2.5zM722.5,937.5h2.5v2.5h-2.5zM722.5,962.5h2.5v2.5h-2.5zM725,935h2.5v2.5h-2.5zM725,962.5h2.5v2.5h-2.5zM727.5,925h2.5v2.5h-2.5zM727.5,955h2.5v7.5h-2.5zM730,945h2.5v2.5h-2.5zM735,935h2.5v2.5h-2.5zM737.5,932.5h2.5v2.5h-2.5zM740,927.5h2.5v2.5h-2.5zM750,875h2.5v2.5h-2.5zM752.5,902.5h2.5v2.5h-2.5zM757.5,860h2.5v2.5h-2.5zM757.5,887.5h2.5v2.5h-2.5zM760,857.5h2.5v2.5h-2.5zM765,842.5h2.5v2.5h-2.5zM767.5,842.5h2.5v2.5h-2.5zM770,860h2.5v2.5h-2.5zM772.5,855h2.5v5h-2.5zM777.5,845h2.5v2.5h-2.5zM780,832.5h2.5v5h-2.5zM782.5,827.5h2.5v2.5h-2.5zM785,820h2.5v2.5h-2.5zM790,790h2.5v2.5h-2.5zM792.5,807.5h2.5v2.5h-2.5zM800,767.5h2.5v2.5h-2.5zM800,787.5h2.5v5h-2.5zM805,757.5h2.5v2.5h-2.5zM807.5,750h2.5v2.5h-2.5zM810,747.5h2.5v2.5h-2.5zM812.5,742.5h2.5v2.5h-2.5zM815,760h2.5v2.5h-2.5zM817.5,757.5h2.5v2.5h-2.5zM830,725h2.5v2.5h-2.5zM830,752.5h2.5v2.5h-2.5zM832.5,722.5h2.5v2.5h-2.5zM832.5,747.5h2.5v2.5h-2.5zM857.5,725h2.5v2.5h-2.5zM865,722.5h2.5v2.5h-2.5zM870,702.5h2.5v2.5h-2.5zM872.5,702.5h2.5v2.5h-2.5zM875,705h2.5v5h-2.5zM880,712.5h2.5v2.5h-2.5zM882.5,717.5h2.5v2.5h-2.5zM895,725h2.5v2.5h-2.5zM897.5,727.5h2.5v2.5h-2.5zM897.5,747.5h2.5v2.5h-2.5zM900,730h2.5v2.5h-2.5zM905,735h2.5v2.5h-2.5zM910,757.5h2.5v2.5h-2.5zM912.5,742.5h2.5v2.5h-2.5zM912.5,762.5h2.5v2.5h-2.5zM920,747.5h2.5v2.5h-2.5zM922.5,777.5h2.5v2.5h-2.5zM925,760h2.5v2.5h-2.5zM930,775h2.5v2.5h-2.5zM932.5,800h2.5v5h-2.5zM935,782.5h2.5v2.5h-2.5zM935,805h2.5v2.5h-2.5zM937.5,787.5h2.5v2.5h-2.5zM942.5,797.5h2.5v5h-2.5zM945,802.5h2.5v2.5h-2.5zM945,830h2.5v2.5h-2.5zM947.5,810h2.5v2.5h-2.5zM947.5,832.5h2.5v2.5h-2.5zM950,835h2.5v2.5h-2.5zM957.5,825h2.5v2.5h-2.5zM962.5,832.5h2.5v2.5h-2.5zM962.5,855h2.5v2.5h-2.5zM967.5,837.5h2.5v5h-2.5zM967.5,865h2.5v2.5h-2.5zM970,872.5h2.5v2.5h-2.5zM980,870h2.5v2.5h-2.5zM985,877.5h2.5v2.5h-2.5zM987.5,877.5h2.5v2.5h-2.5zM987.5,900h2.5v5h-2.5zM995,900h2.5v2.5h-2.5zM1000,907.5h2.5v2.5h-2.5zM1002.5,915h2.5v2.5h-2.5zM1010,925h2.5v2.5h-2.5zM1017.5,930h2.5v2.5h-2.5zM1020,935h2.5v2.5h-2.5zM1022.5,955h2.5v2.5h-2.5zM1025,937.5h2.5v2.5h-2.5zM1025,957.5h2.5v2.5h-2.5zM1030,962.5h2.5v2.5h-2.5zM1032.5,962.5h2.5v2.5h-2.5zM1035,942.5h2.5v2.5h-2.5zM1037.5,945h2.5v2.5h-2.5zM1047.5,972.5h2.5v10h-2.5zM1057.5,960h2.5v2.5h-2.5zM1060,985h2.5v2.5h-2.5zM1065,965h2.5v2.5h-2.5zM1070,977.5h2.5v2.5h-2.5zM1072.5,955h2.5v2.5h-2.5zM1077.5,950h2.5v5h-2.5zM1102.5,947.5h2.5v2.5h-2.5zM1107.5,920h2.5v2.5h-2.5zM1112.5,910h2.5v2.5h-2.5zM1122.5,897.5h2.5v2.5h-2.5zM1127.5,887.5h2.5v2.5h-2.5zM1130,885h2.5v2.5h-2.5zM1137.5,870h2.5v5h-2.5zM1137.5,897.5h2.5v2.5h-2.5zM1142.5,892.5h2.5v2.5h-2.5zM1145,860h2.5v2.5h-2.5zM1162.5,855h2.5v7.5h-2.5zM1170,837.5h2.5v2.5h-2.5zM1177.5,810h2.5v2.5h-2.5zM1180,807.5h2.5v2.5h-2.5zM1182.5,827.5h2.5v5h-2.5zM1192.5,802.5h2.5v2.5h-2.5zM1200,807.5h2.5v2.5h-2.5zM1202.5,807.5h2.5v2.5h-2.5zM1210,787.5h2.5v2.5h-2.5zM1217.5,750h2.5v2.5h-2.5zM1220,750h2.5v2.5h-2.5zM1225,752.5h2.5v2.5h-2.5zM1227.5,750h2.5v2.5h-2.5zM1230,747.5h2.5v2.5h-2.5zM1240,772.5h2.5v2.5h-2.5zM1242.5,775h2.5v5h-2.5zM1242.5,782.5h2.5v2.5h-2.5zM1245,755h2.5v2.5h-2.5zM1245,785h2.5v2.5h-2.5zM1247.5,790h2.5v2.5h-2.5zM1250,795h2.5v2.5h-2.5zM1252.5,775h2.5v2.5h-2.5zM1260,800h2.5v2.5h-2.5zM1262.5,810h2.5v2.5h-2.5zM1262.5,835h2.5v2.5h-2.5zM1265,842.5h2.5v5h-2.5zM1267.5,857.5h2.5v2.5h-2.5zM1275,847.5h2.5v5h-2.5zM1277.5,862.5h2.5v2.5h-2.5zM1282.5,877.5h2.5v2.5h-2.5zM1285,882.5h2.5v2.5h-2.5zM1290,930h2.5v2.5h-2.5zM1292.5,912.5h2.5v2.5h-2.5zM1295,920h2.5v2.5h-2.5zM1297.5,960h2.5v2.5h-2.5zM1300,972.5h2.5v2.5h-2.5zM1305,990h2.5v2.5h-2.5zM1310,1007.5h2.5v2.5h-2.5zM1312.5,990h2.5v5h-2.5zM1315,997.5h2.5v2.5h-2.5zM1315,1020h2.5v5h-2.5zM1322.5,1012.5h2.5v2.5h-2.5zM1325,1017.5h2.5v2.5h-2.5zM1327.5,1052.5h2.5v2.5h-2.5zM1330,1030h2.5v2.5h-2.5zM1335,1052.5h2.5v2.5h-2.5zM1337.5,1085h2.5v7.5h-2.5zM1340,1060h2.5v7.5h-2.5zM1340,1092.5h2.5v2.5h-2.5zM1342.5,1095h2.5v2.5h-2.5zM1345,1075h2.5v2.5h-2.5zM1347.5,1077.5h2.5v2.5h-2.5zM1347.5,1105h2.5v2.5h-2.5zM1352.5,1092.5h2.5v2.5h-2.5zM1355,1122.5h2.5v2.5h-2.5zM1357.5,1102.5h2.5v2.5h-2.5zM1367.5,1127.5h2.5v2.5h-2.5zM1370,1125h2.5v2.5h-2.5zM1387.5,1127.5h2.5v2.5h-2.5zM1390,1125h2.5v2.5h-2.5zM1395,1087.5h2.5v2.5h-2.5zM1395,1120h2.5v2.5h-2.5zM1397.5,1110h2.5v2.5h-2.5zM1400,1105h2.5v2.5h-2.5zM1402.5,1077.5h2.5v2.5h-2.5zM1405,1095h2.5v2.5h-2.5zM1410,1060h2.5v2.5h-2.5zM1412.5,1077.5h2.5v2.5h-2.5zM1420,1035h2.5v2.5h-2.5zM1420,1070h2.5v2.5h-2.5zM1425,1022.5h2.5v2.5h-2.5zM1427.5,1020h2.5v2.5h-2.5zM1430,1035h2.5v5h-2.5zM1430,1042.5h2.5v2.5h-2.5zM1432.5,1032.5h2.5v2.5h-2.5zM1435,995h2.5v2.5h-2.5zM1437.5,990h2.5v5h-2.5zM1440,980h2.5v5h-2.5zM1440,1020h2.5v2.5h-2.5zM1442.5,972.5h2.5v5h-2.5zM1442.5,1002.5h2.5v2.5h-2.5zM1445,962.5h2.5v2.5h-2.5zM1445,995h2.5v2.5h-2.5zM1447.5,950h2.5v7.5h-2.5zM1447.5,985h2.5v2.5h-2.5zM1455,922.5h2.5v2.5h-2.5zM1457.5,910h2.5v2.5h-2.5zM1460,900h2.5v2.5h-2.5zM1460,932.5h2.5v5h-2.5zM1462.5,917.5h2.5v5h-2.5zM1465,877.5h2.5v7.5h-2.5zM1465,912.5h2.5v2.5h-2.5zM1467.5,872.5h2.5v2.5h-2.5zM1470,900h2.5v5h-2.5zM1472.5,857.5h2.5v5h-2.5zM1472.5,890h2.5v2.5h-2.5zM1475,845h2.5v5h-2.5zM1480,860h2.5v10h-2.5zM1482.5,812.5h2.5v5h-2.5zM1482.5,852.5h2.5v2.5h-2.5zM1485,800h2.5v2.5h-2.5zM1487.5,792.5h2.5v5h-2.5zM1490,782.5h2.5v2.5h-2.5zM1497.5,787.5h2.5v2.5h-2.5zM1500,745h2.5v2.5h-2.5zM1502.5,770h2.5v2.5h-2.5zM1502.5,775h2.5v2.5h-2.5zM1505,732.5h2.5v2.5h-2.5zM1507.5,725h2.5v2.5h-2.5zM1507.5,757.5h2.5v2.5h-2.5zM1512.5,742.5h2.5v2.5h-2.5zM1515,695h2.5v2.5h-2.5zM1517.5,687.5h2.5v2.5h-2.5zM1522.5,677.5h2.5v2.5h-2.5zM1522.5,702.5h2.5v5h-2.5zM1525,672.5h2.5v2.5h-2.5zM1525,695h2.5v2.5h-2.5zM1527.5,690h2.5v2.5h-2.5zM1532.5,652.5h2.5v5h-2.5zM1535,642.5h2.5v2.5h-2.5zM1537.5,665h2.5v2.5h-2.5zM1542.5,657.5h2.5v2.5h-2.5zM1552.5,607.5h2.5v5h-2.5zM1552.5,635h2.5v2.5h-2.5zM1562.5,607.5h2.5v2.5h-2.5zM1572.5,610h2.5v5h-2.5zM1577.5,610h2.5v2.5h-2.5zM1577.5,627.5h2.5v2.5h-2.5zM1580,630h2.5v2.5h-2.5zM1582.5,615h2.5v2.5h-2.5zM1585,620h2.5v2.5h-2.5zM1595,642.5h2.5v2.5h-2.5zM1605,632.5h2.5v2.5h-2.5zM1605,665h2.5v7.5h-2.5zM1610,650h2.5v5h-2.5zM1617.5,685h2.5v2.5h-2.5zM1630,725h2.5v2.5h-2.5zM1632.5,700h2.5v2.5h-2.5zM1632.5,727.5h2.5v2.5h-2.5zM1635,730h2.5v2.5h-2.5zM1637.5,717.5h2.5v2.5h-2.5zM1645,732.5h2.5v2.5h-2.5zM1652.5,760h2.5v5h-2.5zM1652.5,790h2.5v2.5h-2.5zM1655,772.5h2.5v2.5h-2.5zM1655,795h2.5v7.5h-2.5zM1662.5,787.5h2.5v2.5h-2.5zM1662.5,820h2.5v2.5h-2.5zM1665,797.5h2.5v2.5h-2.5zM1665,827.5h2.5v2.5h-2.5zM1667.5,832.5h2.5v2.5h-2.5zM1670,835h2.5v5h-2.5zM1672.5,817.5h2.5v2.5h-2.5zM1677.5,842.5h2.5v2.5h-2.5zM1685,905h2.5v2.5h-2.5zM1687.5,915h2.5v2.5h-2.5zM1690,885h2.5v2.5h-2.5zM1690,922.5h2.5v2.5h-2.5zM1692.5,930h2.5v2.5h-2.5zM1695,902.5h2.5v7.5h-2.5zM1695,935h2.5v2.5h-2.5zM1697.5,915h2.5v5h-2.5zM1702.5,962.5h2.5v5h-2.5zM1705,937.5h2.5v2.5h-2.5zM1707.5,950h2.5v2.5h-2.5zM1707.5,972.5h2.5v2.5h-2.5zM1710,985h2.5v2.5h-2.5zM1712.5,960h2.5v2.5h-2.5zM1717.5,975h2.5v2.5h-2.5zM1717.5,997.5h2.5v2.5h-2.5zM1720,980h2.5v5h-2.5zM1722.5,987.5h2.5v2.5h-2.5zM1727.5,1012.5h2.5v2.5h-2.5zM1730,1017.5h2.5v5h-2.5zM1732.5,1000h2.5v2.5h-2.5zM1732.5,1022.5h2.5v2.5h-2.5zM1737.5,1030h2.5v2.5h-2.5zM1737.5,1042.5h2.5v2.5h-2.5zM1740,1045h2.5v2.5h-2.5zM1742.5,1022.5h2.5v2.5h-2.5zM1742.5,1045h2.5v2.5h-2.5zM1745,1025h2.5v2.5h-2.5zM1747.5,1042.5h2.5v2.5h-2.5zM1762.5,1035h2.5v5h-2.5zM1762.5,1057.5h2.5v2.5h-2.5zM1775,1062.5h2.5v2.5h-2.5zM1780,1035h2.5v2.5h-2.5zM1787.5,1030h2.5v2.5h-2.5zM1790,1025h2.5v2.5h-2.5zM1790,1047.5h2.5v2.5h-2.5zM1792.5,1020h2.5v2.5h-2.5zM1795,1017.5h2.5v2.5h-2.5zM1797.5,1017.5h2.5v2.5h-2.5zM1800,1015h2.5v2.5h-2.5zM1805,1027.5h2.5v2.5h-2.5zM1812.5,987.5h2.5v2.5h-2.5zM1817.5,1005h2.5v7.5h-2.5zM1822.5,987.5h2.5v2.5h-2.5zM1830,955h2.5v2.5h-2.5zM1832.5,950h2.5v2.5h-2.5zM1835,940h2.5v2.5h-2.5zM1837.5,935h2.5v2.5h-2.5zM1842.5,927.5h2.5v2.5h-2.5zM1842.5,947.5h2.5v2.5h-2.5zM1847.5,910h2.5v5h-2.5zM1855,910h2.5v2.5h-2.5zM1857.5,872.5h2.5v5h-2.5zM1860,865h2.5v2.5h-2.5zM1862.5,860h2.5v2.5h-2.5zM1865,877.5h2.5v2.5h-2.5zM1867.5,837.5h2.5v2.5h-2.5zM1870,835h2.5v2.5h-2.5zM1877.5,810h2.5v5h-2.5zM1880,805h2.5v2.5h-2.5zM1882.5,800h2.5v2.5h-2.5zM1882.5,820h2.5v10h-2.5zM1890,812.5h2.5v2.5h-2.5zM1902.5,750h2.5v2.5h-2.5zM1905,742.5h2.5v2.5h-2.5zM1910,732.5h2.5v2.5h-2.5zM1912.5,725h2.5v2.5h-2.5zM1912.5,750h2.5v2.5h-2.5zM1915,720h2.5v2.5h-2.5zM1915,740h2.5v2.5h-2.5zM1917.5,710h2.5v2.5h-2.5zM1920,707.5h2.5v2.5h-2.5zM1920,727.5h2.5v2.5h-2.5zM1920,735h2.5v2.5h-2.5zM1922.5,707.5h2.5v2.5h-2.5zM1927.5,702.5h2.5v2.5h-2.5zM1935,710h2.5v2.5h-2.5zM1940,682.5h2.5v2.5h-2.5zM1942.5,675h2.5v2.5h-2.5zM1955,697.5h2.5v2.5h-2.5zM1957.5,677.5h2.5v2.5h-2.5zM1965,672.5h2.5v2.5h-2.5zM1967.5,692.5h2.5v2.5h-2.5zM1970,697.5h2.5v2.5h-2.5zM1982.5,690h2.5v2.5h-2.5zM1985,670h2.5v2.5h-2.5zM1990,700h2.5v2.5h-2.5zM1992.5,677.5h2.5v2.5h-2.5zM1995,680h2.5v7.5h-2.5zM2007.5,695h2.5v2.5h-2.5zM2012.5,712.5h2.5v2.5h-2.5zM2020,755h2.5v2.5h-2.5zM2022.5,735h2.5v2.5h-2.5zM2027.5,745h2.5v2.5h-2.5zM2027.5,767.5h2.5v2.5h-2.5zM2030,747.5h2.5v2.5h-2.5zM2032.5,757.5h2.5v2.5h-2.5zM2035,780h2.5v2.5h-2.5zM2037.5,785h2.5v2.5h-2.5zM2040,770h2.5v2.5h-2.5zM2040,792.5h2.5v2.5h-2.5zM2042.5,775h2.5v2.5h-2.5zM2045,807.5h2.5v2.5h-2.5zM2050,795h2.5v2.5h-2.5zM2052.5,800h2.5v5h-2.5zM2052.5,827.5h2.5v5h-2.5zM2057.5,815h2.5v2.5h-2.5zM2062.5,822.5h2.5v2.5h-2.5zM2065,857.5h2.5v5h-2.5zM2067.5,862.5h2.5v2.5h-2.5zM2072.5,877.5h2.5v2.5h-2.5zM2075,882.5h2.5v2.5h-2.5zM2077.5,862.5h2.5v2.5h-2.5zM2077.5,885h2.5v2.5h-2.5zM2080,865h2.5v2.5h-2.5zM2092.5,892.5h2.5v2.5h-2.5zM2095,930h2.5v2.5h-2.5zM2100,915h2.5v2.5h-2.5zM2100,940h2.5v2.5h-2.5zM2102.5,917.5h2.5v2.5h-2.5zM2102.5,947.5h2.5v2.5h-2.5zM2105,927.5h2.5v2.5h-2.5zM2112.5,935h2.5v2.5h-2.5zM2115,937.5h2.5v2.5h-2.5zM2115,965h2.5v5h-2.5zM2120,950h2.5v2.5h-2.5zM2120,977.5h2.5v2.5h-2.5zM2122.5,952.5h2.5v2.5h-2.5zM2122.5,980h2.5v2.5h-2.5zM2140,977.5h2.5v5h-2.5zM2140,1000h2.5v2.5h-2.5zM2155,982.5h2.5v5h-2.5zM2162.5,1015h2.5v2.5h-2.5zM2165,997.5h2.5v2.5h-2.5zM2167.5,1020h2.5v2.5h-2.5zM2170,1017.5h2.5v2.5h-2.5zM2175,990h2.5v2.5h-2.5zM2177.5,985h2.5v5h-2.5zM2180,982.5h2.5v2.5h-2.5zM2182.5,982.5h2.5v2.5h-2.5zM2185,990h2.5v2.5h-2.5z"/>
<path fill="#f0501a" fill-opacity="0.65" d="M197.5,1090h2.5v2.5h-2.5zM197.5,1102.5h2.5v5h-2.5zM202.5,1110h2.5v2.5h-2.5zM205,1110h2.5v2.5h-2.5zM210,1087.5h2.5v2.5h-2.5zM215,1090h2.5v2.5h-2.5zM220,1095h2.5v2.5h-2.5zM222.5,1110h2.5v2.5h-2.5zM232.5,1090h2.5v2.5h-2.5zM237.5,1090h2.5v2.5h-2.5zM242.5,1095h2.5v2.5h-2.5zM245,1092.5h2.5v2.5h-2.5zM245,1112.5h2.5v2.5h-2.5zM252.5,1107.5h2.5v2.5h-2.5zM255,1110h2.5v2.5h-2.5zM260,1105h2.5v5h-2.5zM270,1070h2.5v2.5h-2.5zM272.5,1065h2.5v2.5h-2.5zM275,1080h2.5v2.5h-2.5zM280,1055h2.5v2.5h-2.5zM280,1075h2.5v5h-2.5zM287.5,1070h2.5v2.5h-2.5zM290,1042.5h2.5v2.5h-2.5zM292.5,1060h2.5v2.5h-2.5zM297.5,1050h2.5v2.5h-2.5zM300,1047.5h2.5v2.5h-2.5zM302.5,1025h2.5v2.5h-2.5zM307.5,1017.5h2.5v2.5h-2.5zM310,1005h2.5v2.5h-2.5zM310,1027.5h2.5v2.5h-2.5zM325,982.5h2.5v2.5h-2.5zM327.5,975h2.5v2.5h-2.5zM327.5,1002.5h2.5v2.5h-2.5zM330,965h2.5v2.5h-2.5zM332.5,985h2.5v2.5h-2.5zM340,965h2.5v2.5h-2.5zM342.5,957.5h2.5v2.5h-2.5zM350,907.5h2.5v5h-2.5zM352.5,932.5h2.5v2.5h-2.5zM360,875h2.5v2.5h-2.5zM362.5,895h2.5v5h-2.5zM365,862.5h2.5v2.5h-2.5zM365,887.5h2.5v2.5h-2.5zM367.5,885h2.5v2.5h-2.5zM370,847.5h2.5v10h-2.5zM370,875h2.5v2.5h-2.5zM375,825h2.5v2.5h-2.5zM375,860h2.5v2.5h-2.5zM377.5,847.5h2.5v7.5h-2.5zM380,805h2.5v5h-2.5zM380,840h2.5v2.5h-2.5zM385,792.5h2.5v2.5h-2.5zM385,815h2.5v2.5h-2.5zM387.5,777.5h2.5v2.5h-2.5zM390,797.5h2.5v2.5h-2.5zM397.5,750h2.5v2.5h-2.5zM400,742.5h2.5v5h-2.5zM405,757.5h2.5v2.5h-2.5zM407.5,725h2.5v2.5h-2.5zM410,747.5h2.5v2.5h-2.5zM412.5,740h2.5v5h-2.5zM420,697.5h2.5v2.5h-2.5zM422.5,692.5h2.5v2.5h-2.5zM425,707.5h2.5v2.5h-2.5zM427.5,685h2.5v2.5h-2.5zM427.5,705h2.5v2.5h-2.5zM430,680h2.5v2.5h-2.5zM432.5,677.5h2.5v2.5h-2.5zM435,695h2.5v2.5h-2.5zM437.5,682.5h2.5v2.5h-2.5zM440,660h2.5v2.5h-2.5zM440,677.5h2.5v2.5h-2.5zM442.5,660h2.5v2.5h-2.5zM445,657.5h2.5v2.5h-2.5zM447.5,675h2.5v2.5h-2.5zM452.5,655h2.5v2.5h-2.5zM455,675h2.5v2.5h-2.5zM460,675h2.5v2.5h-2.5zM467.5,667.5h2.5v2.5h-2.5zM470,655h2.5v2.5h-2.5zM470,670h2.5v2.5h-2.5zM472.5,655h2.5v2.5h-2.5zM475,657.5h2.5v5h-2.5zM485,655h2.5v2.5h-2.5zM487.5,657.5h2.5v5h-2.5zM487.5,680h2.5v2.5h-2.5zM492.5,670h2.5v2.5h-2.5zM495,675h2.5v2.5h-2.5zM502.5,682.5h2.5v2.5h-2.5zM505,685h2.5v2.5h-2.5zM510,700h2.5v2.5h-2.5zM510,720h2.5v2.5h-2.5zM512.5,705h2.5v2.5h-2.5zM515,732.5h2.5v2.5h-2.5zM517.5,712.5h2.5v2.5h-2.5zM520,742.5h2.5v2.5h-2.5zM525,730h2.5v2.5h-2.5zM532.5,772.5h2.5v2.5h-2.5zM535,777.5h2.5v2.5h-2.5zM540,792.5h2.5v2.5h-2.5zM547.5,802.5h2.5v2.5h-2.5zM550,787.5h2.5v2.5h-2.5zM550,805h2.5v5h-2.5zM552.5,792.5h2.5v2.5h-2.5zM552.5,812.5h2.5v2.5h-2.5zM555,797.5h2.5v2.5h-2.5zM557.5,820h2.5v2.5h-2.5zM560,830h2.5v2.5h-2.5zM562.5,817.5h2.5v2.5h-2.5zM565,845h2.5v2.5h-2.5zM567.5,825h2.5v2.5h-2.5zM567.5,852.5h2.5v2.5h-2.5zM570,835h2.5v2.5h-2.5zM572.5,847.5h2.5v2.5h-2.5zM575,852.5h2.5v2.5h-2.5zM575,877.5h2.5v2.5h-2.5zM580,860h2.5v2.5h-2.5zM582.5,867.5h2.5v2.5h-2.5zM585,880h2.5v2.5h-2.5zM587.5,907.5h2.5v2.5h-2.5zM592.5,900h2.5v2.5h-2.5zM592.5,922.5h2.5v2.5h-2.5zM595,925h2.5v2.5h-2.5zM600,930h2.5v2.5h-2.5zM602.5,937.5h2.5v2.5h-2.5zM605,922.5h2.5v2.5h-2.5zM610,925h2.5v2.5h-2.5zM612.5,955h2.5v7.5h-2.5zM615,937.5h2.5v2.5h-2.5zM622.5,955h2.5v2.5h-2.5zM622.5,980h2.5v2.5h-2.5zM625,965h2.5v2.5h-2.5zM630,997.5h2.5v2.5h-2.5zM635,1000h2.5v2.5h-2.5zM637.5,985h2.5v2.5h-2.5zM637.5,1005h2.5v2.5h-2.5zM640,990h2.5v2.5h-2.5zM642.5,1010h2.5v2.5h-2.5zM645,1012.5h2.5v2.5h-2.5zM650,1010h2.5v2.5h-2.5zM657.5,1012.5h2.5v2.5h-2.5zM662.5,1000h2.5v2.5h-2.5zM667.5,1017.5h2.5v2.5h-2.5zM670,995h2.5v2.5h-2.5zM672.5,1012.5h2.5v2.5h-2.5zM675,1007.5h2.5v2.5h-2.5zM677.5,1007.5h2.5v2.5h-2.5zM680,1007.5h2.5v2.5h-2.5zM682.5,1005h2.5v2.5h-2.5zM685,995h2.5v2.5h-2.5zM687.5,1012.5h2.5v2.5h-2.5zM690,985h2.5v2.5h-2.5zM690,1007.5h2.5v2.5h-2.5zM692.5,980h2.5v2.5h-2.5zM700,995h2.5v2.5h-2.5zM702.5,972.5h2.5v2.5h-2.5zM702.5,990h2.5v2.5h-2.5zM705,967.5h2.5v2.5h-2.5zM705,987.5h2.5v2.5h-2.5zM707.5,982.5h2.5v2.5h-2.5zM710,977.5h2.5v2.5h-2.5zM712.5,977.5h2.5v2.5h-2.5zM715,947.5h2.5v2.5h-2.5zM720,945h2.5v2.5h-2.5zM727.5,927.5h2.5v2.5h-2.5zM730,922.5h2.5v2.5h-2.5zM732.5,920h2.5v2.5h-2.5zM740,897.5h2.5v2.5h-2.5zM742.5,925h2.5v2.5h-2.5zM745,912.5h2.5v2.5h-2.5zM747.5,890h2.5v2.5h-2.5zM750,905h2.5v2.5h-2.5zM752.5,872.5h2.5v2.5h-2.5zM752.5,900h2.5v2.5h-2.5zM755,870h2.5v2.5h-2.5zM755,897.5h2.5v2.5h-2.5zM757.5,862.5h2.5v5h-2.5zM760,885h2.5v2.5h-2.5zM762.5,845h2.5v2.5h-2.5zM762.5,880h2.5v2.5h-2.5zM765,877.5h2.5v2.5h-2.5zM767.5,860h2.5v2.5h-2.5zM772.5,830h2.5v2.5h-2.5zM780,810h2.5v5h-2.5zM780,837.5h2.5v5h-2.5zM785,792.5h2.5v2.5h-2.5zM792.5,782.5h2.5v5h-2.5zM792.5,805h2.5v2.5h-2.5zM797.5,772.5h2.5v2.5h-2.5zM797.5,800h2.5v2.5h-2.5zM800,770h2.5v2.5h-2.5zM802.5,765h2.5v2.5h-2.5zM802.5,785h2.5v2.5h-2.5zM805,780h2.5v2.5h-2.5zM807.5,777.5h2.5v2.5h-2.5zM810,765h2.5v7.5h-2.5zM812.5,760h2.5v2.5h-2.5zM815,742.5h2.5v2.5h-2.5zM820,735h2.5v2.5h-2.5zM820,752.5h2.5v2.5h-2.5zM822.5,750h2.5v2.5h-2.5zM825,732.5h2.5v2.5h-2.5zM825,747.5h2.5v5h-2.5zM830,727.5h2.5v5h-2.5zM835,745h2.5v2.5h-2.5zM837.5,722.5h2.5v2.5h-2.5zM840,715h2.5v5h-2.5zM840,740h2.5v2.5h-2.5zM842.5,712.5h2.5v2.5h-2.5zM852.5,705h2.5v2.5h-2.5zM855,722.5h2.5v2.5h-2.5zM860,705h2.5v2.5h-2.5zM862.5,705h2.5v2.5h-2.5zM862.5,722.5h2.5v2.5h-2.5zM867.5,705h2.5v2.5h-2.5zM875,727.5h2.5v2.5h-2.5zM877.5,710h2.5v2.5h-2.5zM880,715h2.5v2.5h-2.5zM882.5,732.5h2.5v2.5h-2.5zM885,720h2.5v2.5h-2.5zM892.5,722.5h2.5v2.5h-2.5zM897.5,745h2.5v2.5h-2.5zM905,752.5h2.5v2.5h-2.5zM907.5,755h2.5v2.5h-2.5zM910,737.5h2.5v2.5h-2.5zM917.5,770h2.5v2.5h-2.5zM925,762.5h2.5v2.5h-2.5zM927.5,785h2.5v2.5h-2.5zM932.5,777.5h2.5v2.5h-2.5zM932.5,797.5h2.5v2.5h-2.5zM937.5,790h2.5v2.5h-2.5zM937.5,815h2.5v2.5h-2.5zM945,827.5h2.5v2.5h-2.5zM950,817.5h2.5v2.5h-2.5zM952.5,817.5h2.5v2.5h-2.5zM955,837.5h2.5v2.5h-2.5zM957.5,845h2.5v2.5h-2.5zM960,832.5h2.5v2.5h-2.5zM962.5,847.5h2.5v7.5h-2.5zM965,835h2.5v2.5h-2.5zM965,862.5h2.5v2.5h-2.5zM967.5,842.5h2.5v2.5h-2.5zM970,845h2.5v2.5h-2.5zM972.5,847.5h2.5v2.5h-2.5zM972.5,875h2.5v7.5h-2.5zM975,882.5h2.5v2.5h-2.5zM980,872.5h2.5v5h-2.5zM980,895h2.5v2.5h-2.5zM997.5,905h2.5v2.5h-2.5zM1002.5,932.5h2.5v2.5h-2.5zM1005,940h2.5v2.5h-2.5zM1015,945h2.5v2.5h-2.5zM1017.5,947.5h2.5v2.5h-2.5zM1032.5,942.5h2.5v2.5h-2.5zM1035,962.5h2.5v2.5h-2.5zM1045,957.5h2.5v2.5h-2.5zM1057.5,962.5h2.5v2.5h-2.5zM1062.5,962.5h2.5v2.5h-2.5zM1062.5,987.5h2.5v2.5h-2.5zM1065,987.5h2.5v2.5h-2.5zM1067.5,982.5h2.5v2.5h-2.5zM1080,965h2.5v2.5h-2.5zM1090,962.5h2.5v2.5h-2.5zM1095,935h2.5v2.5h-2.5zM1095,960h2.5v2.5h-2.5zM1097.5,957.5h2.5v2.5h-2.5zM1100,930h2.5v2.5h-2.5zM1102.5,922.5h2.5v2.5h-2.5zM1105,920h2.5v2.5h-2.5zM1105,945h2.5v2.5h-2.5zM1110,935h2.5v7.5h-2.5zM1112.5,932.5h2.5v2.5h-2.5zM1117.5,927.5h2.5v2.5h-2.5zM1120,922.5h2.5v2.5h-2.5zM1122.5,917.5h2.5v5h-2.5zM1127.5,890h2.5v2.5h-2.5zM1127.5,907.5h2.5v2.5h-2.5zM1132.5,880h2.5v2.5h-2.5zM1135,900h2.5v2.5h-2.5zM1137.5,875h2.5v5h-2.5zM1140,867.5h2.5v2.5h-2.5zM1142.5,862.5h2.5v2.5h-2.5zM1147.5,877.5h2.5v2.5h-2.5zM1150,857.5h2.5v2.5h-2.5zM1152.5,857.5h2.5v2.5h-2.5zM1157.5,842.5h2.5v5h-2.5zM1157.5,867.5h2.5v2.5h-2.5zM1162.5,852.5h2.5v2.5h-2.5zM1167.5,822.5h2.5v2.5h-2.5zM1170,820h2.5v2.5h-2.5zM1172.5,820h2.5v2.5h-2.5zM1175,835h2.5v2.5h-2.5zM1177.5,832.5h2.5v2.5h-2.5zM1182.5,802.5h2.5v2.5h-2.5zM1182.5,825h2.5v2.5h-2.5zM1185,822.5h2.5v2.5h-2.5zM1187.5,787.5h2.5v2.5h-2.5zM1187.5,810h2.5v2.5h-2.5zM1195,805h2.5v2.5h-2.5zM1202.5,777.5h2.5v2.5h-2.5zM1205,775h2.5v2.5h-2.5zM1207.5,790h2.5v7.5h-2.5zM1212.5,780h2.5v2.5h-2.5zM1215,752.5h2.5v2.5h-2.5zM1217.5,775h2.5v2.5h-2.5zM1220,765h2.5v2.5h-2.5zM1225,767.5h2.5v2.5h-2.5zM1232.5,762.5h2.5v2.5h-2.5zM1235,767.5h2.5v2.5h-2.5zM1237.5,747.5h2.5v2.5h-2.5zM1240,755h2.5v2.5h-2.5zM1242.5,780h2.5v2.5h-2.5zM1247.5,787.5h2.5v2.5h-2.5zM1250,767.5h2.5v2.5h-2.5zM1252.5,777.5h2.5v2.5h-2.5zM1255,810h2.5v5h-2.5zM1257.5,790h2.5v2.5h-2.5zM1257.5,820h2.5v2.5h-2.5zM1260,802.5h2.5v5h-2.5zM1260,827.5h2.5v2.5h-2.5zM1265,840h2.5v2.5h-2.5zM1270,832.5h2.5v5h-2.5zM1270,860h2.5v2.5h-2.5zM1277.5,887.5h2.5v2.5h-2.5zM1280,867.5h2.5v2.5h-2.5zM1280,897.5h2.5v2.5h-2.5zM1282.5,902.5h2.5v2.5h-2.5zM1287.5,887.5h2.5v5h-2.5zM1287.5,927.5h2.5v2.5h-2.5zM1290,900h2.5v5h-2.5zM1290,932.5h2.5v2.5h-2.5zM1292.5,942.5h2.5v2.5h-2.5zM1297.5,925h2.5v2.5h-2.5zM1297.5,952.5h2.5v7.5h-2.5zM1300,975h2.5v5h-2.5zM1302.5,942.5h2.5v7.5h-2.5zM1302.5,982.5h2.5v2.5h-2.5zM1305,962.5h2.5v5h-2.5zM1307.5,970h2.5v5h-2.5zM1310,980h2.5v2.5h-2.5zM1312.5,1017.5h2.5v2.5h-2.5zM1320,1002.5h2.5v2.5h-2.5zM1320,1030h2.5v2.5h-2.5zM1322.5,1042.5h2.5v2.5h-2.5zM1325,1020h2.5v5h-2.5zM1330,1060h2.5v5h-2.5zM1332.5,1042.5h2.5v2.5h-2.5zM1332.5,1070h2.5v2.5h-2.5zM1335,1077.5h2.5v2.5h-2.5zM1337.5,1055h2.5v2.5h-2.5zM1340,1067.5h2.5v2.5h-2.5zM1342.5,1072.5h2.5v2.5h-2.5zM1347.5,1080h2.5v2.5h-2.5zM1350,1082.5h2.5v2.5h-2.5zM1350,1110h2.5v2.5h-2.5zM1352.5,1095h2.5v2.5h-2.5zM1357.5,1127.5h2.5v2.5h-2.5zM1360,1107.5h2.5v2.5h-2.5zM1365,1130h2.5v2.5h-2.5zM1372.5,1122.5h2.5v2.5h-2.5zM1382.5,1102.5h2.5v2.5h-2.5zM1382.5,1130h2.5v2.5h-2.5zM1387.5,1107.5h2.5v2.5h-2.5zM1392.5,1095h2.5v5h-2.5zM1395,1090h2.5v2.5h-2.5zM1397.5,1082.5h2.5v5h-2.5zM1397.5,1107.5h2.5v2.5h-2.5zM1400,1080h2.5v2.5h-2.5zM1402.5,1102.5h2.5v2.5h-2.5zM1405,1067.5h2.5v2.5h-2.5zM1410,1062.5h2.5v2.5h-2.5zM1410,1082.5h2.5v2.5h-2.5zM1415,1052.5h2.5v2.5h-2.5zM1417.5,1045h2.5v2.5h-2.5zM1427.5,1057.5h2.5v2.5h-2.5zM1430,1040h2.5v2.5h-2.5zM1435,997.5h2.5v7.5h-2.5zM1435,1025h2.5v2.5h-2.5zM1437.5,1022.5h2.5v2.5h-2.5zM1440,985h2.5v2.5h-2.5zM1440,1010h2.5v10h-2.5zM1442.5,1000h2.5v2.5h-2.5zM1445,965h2.5v2.5h-2.5zM1445,992.5h2.5v2.5h-2.5zM1447.5,987.5h2.5v2.5h-2.5zM1450,945h2.5v2.5h-2.5zM1450,970h2.5v7.5h-2.5zM1452.5,930h2.5v2.5h-2.5zM1452.5,962.5h2.5v2.5h-2.5zM1455,925h2.5v2.5h-2.5zM1455,952.5h2.5v7.5h-2.5zM1457.5,912.5h2.5v2.5h-2.5zM1457.5,947.5h2.5v2.5h-2.5zM1460,902.5h2.5v5h-2.5zM1460,930h2.5v2.5h-2.5zM1460,937.5h2.5v2.5h-2.5zM1462.5,915h2.5v2.5h-2.5zM1465,885h2.5v7.5h-2.5zM1467.5,875h2.5v2.5h-2.5zM1470,870h2.5v2.5h-2.5zM1470,897.5h2.5v2.5h-2.5zM1472.5,862.5h2.5v2.5h-2.5zM1475,850h2.5v2.5h-2.5zM1475,880h2.5v2.5h-2.5zM1477.5,840h2.5v2.5h-2.5zM1480,822.5h2.5v7.5h-2.5zM1480,857.5h2.5v2.5h-2.5zM1485,802.5h2.5v5h-2.5zM1487.5,797.5h2.5v2.5h-2.5zM1487.5,827.5h2.5v5h-2.5zM1490,785h2.5v2.5h-2.5zM1490,812.5h2.5v5h-2.5zM1492.5,807.5h2.5v2.5h-2.5zM1495,765h2.5v7.5h-2.5zM1497.5,750h2.5v7.5h-2.5zM1502.5,742.5h2.5v2.5h-2.5zM1502.5,765h2.5v5h-2.5zM1502.5,772.5h2.5v2.5h-2.5zM1507.5,727.5h2.5v2.5h-2.5zM1507.5,755h2.5v2.5h-2.5zM1510,715h2.5v2.5h-2.5zM1512.5,710h2.5v2.5h-2.5zM1512.5,740h2.5v2.5h-2.5zM1515,697.5h2.5v2.5h-2.5zM1515,727.5h2.5v2.5h-2.5zM1517.5,717.5h2.5v2.5h-2.5zM1520,682.5h2.5v2.5h-2.5zM1520,707.5h2.5v2.5h-2.5zM1527.5,667.5h2.5v2.5h-2.5zM1530,660h2.5v2.5h-2.5zM1532.5,675h2.5v10h-2.5zM1537.5,640h2.5v2.5h-2.5zM1537.5,662.5h2.5v2.5h-2.5zM1540,637.5h2.5v2.5h-2.5zM1540,657.5h2.5v2.5h-2.5zM1542.5,635h2.5v2.5h-2.5zM1545,627.5h2.5v5h-2.5zM1550,615h2.5v5h-2.5zM1555,632.5h2.5v2.5h-2.5zM1557.5,605h2.5v2.5h-2.5zM1560,622.5h2.5v2.5h-2.5zM1562.5,625h2.5v2.5h-2.5zM1565,607.5h2.5v2.5h-2.5zM1572.5,615h2.5v2.5h-2.5zM1585,622.5h2.5v2.5h-2.5zM1585,645h2.5v2.5h-2.5zM1587.5,620h2.5v2.5h-2.5zM1587.5,645h2.5v2.5h-2.5zM1590,642.5h2.5v2.5h-2.5zM1592.5,615h2.5v2.5h-2.5zM1600,650h2.5v2.5h-2.5zM1602.5,660h2.5v2.5h-2.5zM1605,662.5h2.5v2.5h-2.5zM1607.5,647.5h2.5v2.5h-2.5zM1607.5,675h2.5v5h-2.5zM1610,655h2.5v2.5h-2.5zM1612.5,680h2.5v2.5h-2.5zM1617.5,682.5h2.5v2.5h-2.5zM1620,667.5h2.5v2.5h-2.5zM1622.5,670h2.5v2.5h-2.5zM1625,682.5h2.5v2.5h-2.5zM1625,707.5h2.5v2.5h-2.5zM1627.5,710h2.5v5h-2.5zM1632.5,702.5h2.5v2.5h-2.5zM1635,727.5h2.5v2.5h-2.5zM1637.5,737.5h2.5v2.5h-2.5zM1640,750h2.5v2.5h-2.5zM1642.5,727.5h2.5v2.5h-2.5zM1642.5,755h2.5v2.5h-2.5zM1645,735h2.5v2.5h-2.5zM1647.5,772.5h2.5v2.5h-2.5zM1650,752.5h2.5v5h-2.5zM1650,780h2.5v2.5h-2.5zM1655,792.5h2.5v2.5h-2.5zM1657.5,782.5h2.5v2.5h-2.5zM1657.5,807.5h2.5v2.5h-2.5zM1660,785h2.5v2.5h-2.5zM1662.5,790h2.5v7.5h-2.5zM1662.5,817.5h2.5v2.5h-2.5zM1665,822.5h2.5v2.5h-2.5zM1672.5,850h2.5v10h-2.5zM1675,827.5h2.5v2.5h-2.5zM1677.5,870h2.5v2.5h-2.5zM1680,880h2.5v2.5h-2.5zM1682.5,862.5h2.5v2.5h-2.5zM1682.5,885h2.5v7.5h-2.5zM1685,870h2.5v2.5h-2.5zM1685,900h2.5v2.5h-2.5zM1687.5,877.5h2.5v2.5h-2.5zM1690,887.5h2.5v10h-2.5zM1690,920h2.5v2.5h-2.5zM1692.5,925h2.5v5h-2.5zM1695,910h2.5v2.5h-2.5zM1697.5,920h2.5v5h-2.5zM1700,927.5h2.5v2.5h-2.5zM1700,950h2.5v2.5h-2.5zM1702.5,930h2.5v2.5h-2.5zM1707.5,970h2.5v2.5h-2.5zM1710,955h2.5v2.5h-2.5zM1710,977.5h2.5v7.5h-2.5zM1712.5,962.5h2.5v5h-2.5zM1715,970h2.5v2.5h-2.5zM1715,992.5h2.5v2.5h-2.5zM1730,997.5h2.5v2.5h-2.5zM1735,1002.5h2.5v2.5h-2.5zM1750,1027.5h2.5v2.5h-2.5zM1750,1045h2.5v2.5h-2.5zM1752.5,1047.5h2.5v2.5h-2.5zM1760,1030h2.5v2.5h-2.5zM1760,1052.5h2.5v2.5h-2.5zM1770,1045h2.5v2.5h-2.5zM1775,1035h2.5v2.5h-2.5zM1777.5,1055h2.5v2.5h-2.5zM1785,1035h2.5v2.5h-2.5zM1785,1050h2.5v2.5h-2.5zM1787.5,1032.5h2.5v2.5h-2.5zM1795,1037.5h2.5v2.5h-2.5zM1800,1035h2.5v2.5h-2.5zM1802.5,1007.5h2.5v2.5h-2.5zM1802.5,1030h2.5v2.5h-2.5zM1807.5,1002.5h2.5v2.5h-2.5zM1810,1020h2.5v7.5h-2.5zM1812.5,1017.5h2.5v2.5h-2.5zM1820,975h2.5v2.5h-2.5zM1820,1000h2.5v2.5h-2.5zM1827.5,985h2.5v2.5h-2.5zM1830,982.5h2.5v2.5h-2.5zM1832.5,972.5h2.5v5h-2.5zM1835,942.5h2.5v2.5h-2.5zM1835,962.5h2.5v2.5h-2.5zM1840,932.5h2.5v2.5h-2.5zM1840,952.5h2.5v2.5h-2.5zM1845,920h2.5v2.5h-2.5zM1845,945h2.5v2.5h-2.5zM1847.5,932.5h2.5v7.5h-2.5zM1847.5,942.5h2.5v2.5h-2.5zM1850,902.5h2.5v2.5h-2.5zM1852.5,890h2.5v5h-2.5zM1852.5,925h2.5v2.5h-2.5zM1857.5,902.5h2.5v2.5h-2.5zM1860,867.5h2.5v2.5h-2.5zM1862.5,862.5h2.5v2.5h-2.5zM1865,850h2.5v5h-2.5zM1865,875h2.5v2.5h-2.5zM1867.5,840h2.5v2.5h-2.5zM1867.5,867.5h2.5v2.5h-2.5zM1870,857.5h2.5v10h-2.5zM1872.5,852.5h2.5v2.5h-2.5zM1877.5,837.5h2.5v2.5h-2.5zM1880,830h2.5v2.5h-2.5zM1882.5,817.5h2.5v2.5h-2.5zM1890,780h2.5v10h-2.5zM1892.5,807.5h2.5v2.5h-2.5zM1895,772.5h2.5v2.5h-2.5zM1895,797.5h2.5v10h-2.5zM1900,762.5h2.5v2.5h-2.5zM1900,785h2.5v5h-2.5zM1902.5,752.5h2.5v2.5h-2.5zM1905,745h2.5v5h-2.5zM1907.5,740h2.5v2.5h-2.5zM1910,757.5h2.5v2.5h-2.5zM1912.5,747.5h2.5v2.5h-2.5zM1917.5,712.5h2.5v2.5h-2.5zM1920,730h2.5v5h-2.5zM1922.5,727.5h2.5v2.5h-2.5zM1927.5,717.5h2.5v2.5h-2.5zM1930,715h2.5v2.5h-2.5zM1932.5,695h2.5v2.5h-2.5zM1937.5,690h2.5v2.5h-2.5zM1937.5,707.5h2.5v2.5h-2.5zM1940,685h2.5v2.5h-2.5zM1942.5,700h2.5v5h-2.5zM1945,695h2.5v2.5h-2.5zM1947.5,675h2.5v2.5h-2.5zM1947.5,690h2.5v2.5h-2.5zM1950,675h2.5v2.5h-2.5zM1955,672.5h2.5v2.5h-2.5zM1960,690h2.5v7.5h-2.5zM1962.5,672.5h2.5v2.5h-2.5zM1975,697.5h2.5v2.5h-2.5zM1980,695h2.5v2.5h-2.5zM1985,672.5h2.5v2.5h-2.5zM1985,690h2.5v2.5h-2.5zM1987.5,675h2.5v2.5h-2.5zM1990,677.5h2.5v2.5h-2.5zM1995,687.5h2.5v2.5h-2.5zM1997.5,692.5h2.5v2.5h-2.5zM1997.5,705h2.5v2.5h-2.5zM2002.5,692.5h2.5v2.5h-2.5zM2005,692.5h2.5v2.5h-2.5zM2005,715h2.5v2.5h-2.5zM2007.5,697.5h2.5v2.5h-2.5zM2007.5,722.5h2.5v2.5h-2.5zM2017.5,722.5h2.5v2.5h-2.5zM2017.5,745h2.5v5h-2.5zM2020,730h2.5v2.5h-2.5zM2022.5,760h2.5v2.5h-2.5zM2030,750h2.5v5h-2.5zM2037.5,767.5h2.5v2.5h-2.5zM2040,790h2.5v2.5h-2.5zM2042.5,777.5h2.5v2.5h-2.5zM2042.5,795h2.5v2.5h-2.5zM2047.5,785h2.5v2.5h-2.5zM2047.5,812.5h2.5v2.5h-2.5zM2052.5,805h2.5v2.5h-2.5zM2052.5,825h2.5v2.5h-2.5zM2057.5,817.5h2.5v5h-2.5zM2057.5,837.5h2.5v2.5h-2.5zM2060,847.5h2.5v2.5h-2.5zM2062.5,825h2.5v2.5h-2.5zM2065,830h2.5v2.5h-2.5zM2070,837.5h2.5v2.5h-2.5zM2070,862.5h2.5v2.5h-2.5zM2075,855h2.5v2.5h-2.5zM2080,867.5h2.5v2.5h-2.5zM2080,890h2.5v2.5h-2.5zM2082.5,870h2.5v2.5h-2.5zM2082.5,892.5h2.5v2.5h-2.5zM2085,897.5h2.5v2.5h-2.5zM2087.5,885h2.5v2.5h-2.5zM2090,887.5h2.5v2.5h-2.5zM2090,915h2.5v2.5h-2.5zM2092.5,925h2.5v2.5h-2.5zM2095,902.5h2.5v2.5h-2.5zM2095,927.5h2.5v2.5h-2.5zM2097.5,935h2.5v2.5h-2.5zM2102.5,920h2.5v7.5h-2.5zM2105,952.5h2.5v2.5h-2.5zM2115,940h2.5v5h-2.5zM2120,975h2.5v2.5h-2.5zM2122.5,955h2.5v2.5h-2.5zM2127.5,977.5h2.5v2.5h-2.5zM2130,962.5h2.5v2.5h-2.5zM2130,977.5h2.5v5h-2.5zM2137.5,972.5h2.5v2.5h-2.5zM2142.5,980h2.5v2.5h-2.5zM2147.5,980h2.5v2.5h-2.5zM2152.5,1005h2.5v2.5h-2.5zM2155,987.5h2.5v2.5h-2.5zM2157.5,992.5h2.5v2.5h-2.5zM2167.5,997.5h2.5v2.5h-2.5zM2170,992.5h2.5v5h-2.5zM2170,1012.5h2.5v5h-2.5zM2172.5,990h2.5v2.5h-2.5zM2175,1010h2.5v2.5h-2.5zM2177.5,1002.5h2.5v7.5h-2.5zM2180,1000h2.5v2.5h-2.5zM2182.5,997.5h2.5v2.5h-2.5z"/>
<path fill="#f0501a" d="M197.5,1092.5h2.5v10h-2.5zM200,1090h2.5v20h-2.5zM202.5,1090h2.5v20h-2.5zM205,1092.5h2.5v17.5h-2.5zM207.5,1090h2.5v15h-2.5zM210,1090h2.5v22.5h-2.5zM212.5,1087.5h2.5v25h-2.5zM215,1092.5h2.5v22.5h-2.5zM217.5,1095h2.5v20h-2.5zM220,1097.5h2.5v15h-2.5zM222.5,1092.5h2.5v17.5h-2.5zM225,1092.5h2.5v15h-2.5zM227.5,1090h2.5v20h-2.5zM230,1087.5h2.5v22.5h-2.5zM232.5,1092.5h2.5v17.5h-2.5zM235,1092.5h2.5v17.5h-2.5zM237.5,1092.5h2.5v17.5h-2.5zM240,1092.5h2.5v25h-2.5zM242.5,1097.5h2.5v20h-2.5zM245,1095h2.5v17.5h-2.5zM247.5,1092.5h2.5v22.5h-2.5zM250,1092.5h2.5v20h-2.5zM252.5,1090h2.5v17.5h-2.5zM255,1085h2.5v25h-2.5zM257.5,1085h2.5v27.5h-2.5zM260,1082.5h2.5v22.5h-2.5zM262.5,1082.5h2.5v20h-2.5zM265,1072.5h2.5v32.5h-2.5zM267.5,1070h2.5v35h-2.5zM270,1072.5h2.5v15h-2.5zM272.5,1067.5h2.5v17.5h-2.5zM275,1065h2.5v15h-2.5zM277.5,1060h2.5v22.5h-2.5zM280,1057.5h2.5v17.5h-2.5zM282.5,1052.5h2.5v20h-2.5zM285,1052.5h2.5v17.5h-2.5zM287.5,1047.5h2.5v22.5h-2.5zM290,1045h2.5v25h-2.5zM292.5,1037.5h2.5v22.5h-2.5zM295,1037.5h2.5v22.5h-2.5zM297.5,1037.5h2.5v12.5h-2.5zM300,1030h2.5v17.5h-2.5zM302.5,1027.5h2.5v22.5h-2.5zM305,1020h2.5v27.5h-2.5zM307.5,1020h2.5v12.5h-2.5zM310,1007.5h2.5v20h-2.5zM312.5,1000h2.5v27.5h-2.5zM315,1000h2.5v17.5h-2.5zM317.5,995h2.5v20h-2.5zM320,992.5h2.5v17.5h-2.5zM322.5,985h2.5v20h-2.5zM325,985h2.5v17.5h-2.5zM327.5,977.5h2.5v25h-2.5zM330,967.5h2.5v35h-2.5zM332.5,962.5h2.5v22.5h-2.5zM335,957.5h2.5v20h-2.5zM337.5,947.5h2.5v22.5h-2.5zM340,940h2.5v25h-2.5zM342.5,932.5h2.5v25h-2.5zM345,927.5h2.5v30h-2.5zM347.5,920h2.5v22.5h-2.5zM350,912.5h2.5v25h-2.5zM352.5,902.5h2.5v30h-2.5zM355,895h2.5v25h-2.5zM357.5,887.5h2.5v27.5h-2.5zM360,877.5h2.5v25h-2.5zM362.5,875h2.5v20h-2.5zM365,865h2.5v22.5h-2.5zM367.5,860h2.5v25h-2.5zM370,857.5h2.5v17.5h-2.5zM372.5,842.5h2.5v25h-2.5zM375,827.5h2.5v32.5h-2.5zM377.5,825h2.5v22.5h-2.5zM380,810h2.5v30h-2.5zM382.5,797.5h2.5v30h-2.5zM385,795h2.5v20h-2.5zM387.5,780h2.5v35h-2.5zM390,775h2.5v22.5h-2.5zM392.5,765h2.5v27.5h-2.5zM395,762.5h2.5v27.5h-2.5zM397.5,752.5h2.5v27.5h-2.5zM400,747.5h2.5v25h-2.5zM402.5,740h2.5v22.5h-2.5zM405,735h2.5v22.5h-2.5zM407.5,727.5h2.5v22.5h-2.5zM410,725h2.5v22.5h-2.5zM412.5,712.5h2.5v27.5h-2.5zM415,710h2.5v27.5h-2.5zM417.5,705h2.5v25h-2.5zM420,700h2.5v25h-2.5zM422.5,695h2.5v22.5h-2.5zM425,687.5h2.5v20h-2.5zM427.5,687.5h2.5v17.5h-2.5zM430,682.5h2.5v12.5h-2.5zM432.5,680h2.5v17.5h-2.5zM435,672.5h2.5v22.5h-2.5zM437.5,665h2.5v17.5h-2.5zM440,662.5h2.5v15h-2.5zM442.5,662.5h2.5v15h-2.5zM445,660h2.5v17.5h-2.5zM447.5,657.5h2.5v17.5h-2.5zM450,660h2.5v17.5h-2.5zM452.5,657.5h2.5v20h-2.5zM455,652.5h2.5v22.5h-2.5zM457.5,655h2.5v22.5h-2.5zM460,657.5h2.5v17.5h-2.5zM462.5,657.5h2.5v15h-2.5zM465,655h2.5v17.5h-2.5zM467.5,655h2.5v12.5h-2.5zM470,657.5h2.5v12.5h-2.5zM472.5,657.5h2.5v22.5h-2.5zM475,662.5h2.5v20h-2.5zM477.5,662.5h2.5v17.5h-2.5zM480,660h2.5v20h-2.5zM482.5,657.5h2.5v22.5h-2.5zM485,657.5h2.5v25h-2.5zM487.5,662.5h2.5v17.5h-2.5zM490,665h2.5v20h-2.5zM492.5,672.5h2.5v20h-2.5zM495,677.5h2.5v17.5h-2.5zM497.5,682.5h2.5v15h-2.5zM500,682.5h2.5v22.5h-2.5zM502.5,685h2.5v20h-2.5zM505,687.5h2.5v20h-2.5zM507.5,692.5h2.5v27.5h-2.5zM510,702.5h2.5v17.5h-2.5zM512.5,707.5h2.5v20h-2.5zM515,710h2.5v22.5h-2.5zM515,735h2.5v2.5h-2.5zM517.5,715h2.5v25h-2.5zM520,720h2.5v22.5h-2.5zM522.5,722.5h2.5v30h-2.5zM525,732.5h2.5v22.5h-2.5zM527.5,740h2.5v20h-2.5zM530,742.5h2.5v27.5h-2.5zM532.5,745h2.5v27.5h-2.5zM535,757.5h2.5v20h-2.5zM537.5,762.5h2.5v22.5h-2.5zM540,765h2.5v25h-2.5zM542.5,770h2.5v27.5h-2.5zM545,775h2.5v22.5h-2.5zM547.5,785h2.5v17.5h-2.5zM550,790h2.5v15h-2.5zM552.5,795h2.5v17.5h-2.5zM555,800h2.5v17.5h-2.5zM557.5,802.5h2.5v17.5h-2.5zM560,805h2.5v25h-2.5zM562.5,820h2.5v15h-2.5zM565,825h2.5v20h-2.5zM567.5,827.5h2.5v25h-2.5zM570,837.5h2.5v25h-2.5zM572.5,850h2.5v20h-2.5zM575,855h2.5v22.5h-2.5zM577.5,855h2.5v25h-2.5zM580,862.5h2.5v27.5h-2.5zM582.5,870h2.5v25h-2.5zM585,882.5h2.5v15h-2.5zM587.5,885h2.5v22.5h-2.5zM590,887.5h2.5v27.5h-2.5zM592.5,902.5h2.5v20h-2.5zM595,907.5h2.5v17.5h-2.5zM597.5,907.5h2.5v20h-2.5zM600,917.5h2.5v12.5h-2.5zM602.5,920h2.5v17.5h-2.5zM605,925h2.5v20h-2.5zM607.5,925h2.5v20h-2.5zM610,927.5h2.5v25h-2.5zM612.5,937.5h2.5v17.5h-2.5zM612.5,962.5h2.5v5h-2.5zM615,940h2.5v30h-2.5zM617.5,947.5h2.5v22.5h-2.5zM620,952.5h2.5v22.5h-2.5zM622.5,957.5h2.5v22.5h-2.5zM625,967.5h2.5v15h-2.5zM627.5,970h2.5v25h-2.5zM630,972.5h2.5v25h-2.5zM632.5,982.5h2.5v17.5h-2.5zM635,982.5h2.5v17.5h-2.5zM637.5,987.5h2.5v17.5h-2.5zM640,992.5h2.5v15h-2.5zM642.5,995h2.5v15h-2.5zM645,995h2.5v17.5h-2.5zM647.5,995h2.5v20h-2.5zM650,992.5h2.5v17.5h-2.5zM652.5,995h2.5v15h-2.5zM655,995h2.5v15h-2.5zM657.5,1000h2.5v12.5h-2.5zM660,1000h2.5v17.5h-2.5zM662.5,1002.5h2.5v20h-2.5zM665,1002.5h2.5v20h-2.5zM667.5,1000h2.5v17.5h-2.5zM670,997.5h2.5v20h-2.5zM672.5,992.5h2.5v20h-2.5zM675,990h2.5v17.5h-2.5zM677.5,990h2.5v17.5h-2.5zM680,992.5h2.5v15h-2.5zM682.5,992.5h2.5v12.5h-2.5zM685,997.5h2.5v17.5h-2.5zM687.5,992.5h2.5v20h-2.5zM690,987.5h2.5v20h-2.5zM692.5,982.5h2.5v20h-2.5zM695,980h2.5v20h-2.5zM697.5,980h2.5v17.5h-2.5zM700,975h2.5v20h-2.5zM702.5,975h2.5v15h-2.5zM705,970h2.5v17.5h-2.5zM707.5,965h2.5v17.5h-2.5zM710,962.5h2.5v15h-2.5zM712.5,955h2.5v22.5h-2.5zM715,950h2.5v22.5h-2.5zM717.5,947.5h2.5v22.5h-2.5zM720,947.5h2.5v15h-2.5zM722.5,940h2.5v22.5h-2.5zM725,937.5h2.5v25h-2.5zM727.5,930h2.5v22.5h-2.5zM730,925h2.5v20h-2.5zM732.5,922.5h2.5v20h-2.5zM735,915h2.5v20h-2.5zM737.5,912.5h2.5v20h-2.5zM740,900h2.5v27.5h-2.5zM742.5,897.5h2.5v27.5h-2.5zM745,897.5h2.5v15h-2.5zM747.5,892.5h2.5v20h-2.5zM750,877.5h2.5v27.5h-2.5zM752.5,875h2.5v25h-2.5zM755,872.5h2.5v25h-2.5zM757.5,867.5h2.5v20h-2.5zM760,860h2.5v25h-2.5zM762.5,847.5h2.5v32.5h-2.5zM765,845h2.5v32.5h-2.5zM767.5,845h2.5v15h-2.5zM770,837.5h2.5v22.5h-2.5zM772.5,832.5h2.5v22.5h-2.5zM775,825h2.5v27.5h-2.5zM777.5,817.5h2.5v27.5h-2.5zM780,815h2.5v17.5h-2.5zM782.5,807.5h2.5v20h-2.5zM785,795h2.5v25h-2.5zM787.5,792.5h2.5v27.5h-2.5zM790,792.5h2.5v20h-2.5zM792.5,787.5h2.5v17.5h-2.5zM795,775h2.5v30h-2.5zM797.5,775h2.5v25h-2.5zM800,772.5h2.5v15h-2.5zM802.5,767.5h2.5v17.5h-2.5zM805,760h2.5v20h-2.5zM807.5,752.5h2.5v25h-2.5zM810,750h2.5v15h-2.5zM812.5,745h2.5v15h-2.5zM815,745h2.5v15h-2.5zM817.5,740h2.5v17.5h-2.5zM820,737.5h2.5v15h-2.5zM822.5,732.5h2.5v17.5h-2.5zM825,735h2.5v12.5h-2.5zM827.5,732.5h2.5v22.5h-2.5zM830,732.5h2.5v20h-2.5zM832.5,725h2.5v22.5h-2.5zM835,725h2.5v20h-2.5zM837.5,725h2.5v20h-2.5zM840,720h2.5v20h-2.5zM842.5,715h2.5v20h-2.5zM845,712.5h2.5v22.5h-2.5zM847.5,712.5h2.5v20h-2.5zM850,712.5h2.5v15h-2.5zM852.5,707.5h2.5v20h-2.5zM855,705h2.5v17.5h-2.5zM857.5,707.5h2.5v17.5h-2.5zM860,707.5h2.5v20h-2.5zM862.5,707.5h2.5v15h-2.5zM865,712.5h2.5v10h-2.5zM867.5,707.5h2.5v17.5h-2.5zM870,705h2.5v20h-2.5zM872.5,705h2.5v22.5h-2.5zM875,710h2.5v17.5h-2.5zM877.5,712.5h2.5v20h-2.5zM880,717.5h2.5v15h-2.5zM882.5,720h2.5v12.5h-2.5zM885,722.5h2.5v12.5h-2.5zM887.5,722.5h2.5v20h-2.5zM890,722.5h2.5v20h-2.5zM892.5,725h2.5v20h-2.5zM895,727.5h2.5v15h-2.5zM897.5,730h2.5v15h-2.5zM900,732.5h2.5v17.5h-2.5zM902.5,735h2.5v15h-2.5zM905,737.5h2.5v15h-2.5zM907.5,737.5h2.5v17.5h-2.5zM910,740h2.5v17.5h-2.5zM912.5,745h2.5v17.5h-2.5zM915,745h2.5v22.5h-2.5zM917.5,747.5h2.5v22.5h-2.5zM920,750h2.5v27.5h-2.5zM922.5,757.5h2.5v20h-2.5zM925,765h2.5v17.5h-2.5zM927.5,770h2.5v15h-2.5zM930,777.5h2.5v17.5h-2.5zM932.5,780h2.5v17.5h-2.5zM935,785h2.5v20h-2.5zM937.5,792.5h2.5v22.5h-2.5zM940,792.5h2.5v27.5h-2.5zM942.5,802.5h2.5v20h-2.5zM945,805h2.5v22.5h-2.5zM947.5,812.5h2.5v20h-2.5zM950,820h2.5v15h-2.5zM952.5,820h2.5v17.5h-2.5zM955,820h2.5v17.5h-2.5zM957.5,827.5h2.5v17.5h-2.5zM960,835h2.5v12.5h-2.5zM962.5,835h2.5v12.5h-2.5zM965,837.5h2.5v25h-2.5zM967.5,845h2.5v20h-2.5zM970,847.5h2.5v25h-2.5zM972.5,850h2.5v25h-2.5zM975,862.5h2.5v20h-2.5zM977.5,865h2.5v30h-2.5zM980,877.5h2.5v17.5h-2.5zM982.5,877.5h2.5v17.5h-2.5zM985,880h2.5v17.5h-2.5zM987.5,880h2.5v20h-2.5zM990,880h2.5v30h-2.5zM992.5,895h2.5v17.5h-2.5zM995,902.5h2.5v15h-2.5zM997.5,907.5h2.5v17.5h-2.5zM1000,910h2.5v17.5h-2.5zM1002.5,917.5h2.5v15h-2.5zM1002.5,935h2.5v2.5h-2.5zM1005,920h2.5v20h-2.5zM1007.5,925h2.5v17.5h-2.5zM1010,927.5h2.5v17.5h-2.5zM1012.5,930h2.5v15h-2.5zM1015,930h2.5v15h-2.5zM1017.5,932.5h2.5v15h-2.5zM1020,937.5h2.5v15h-2.5zM1022.5,940h2.5v15h-2.5zM1025,940h2.5v17.5h-2.5zM1027.5,940h2.5v20h-2.5zM1030,942.5h2.5v20h-2.5zM1032.5,945h2.5v17.5h-2.5zM1035,945h2.5v17.5h-2.5zM1037.5,947.5h2.5v22.5h-2.5zM1040,950h2.5v22.5h-2.5zM1042.5,952.5h2.5v20h-2.5zM1045,960h2.5v15h-2.5zM1047.5,957.5h2.5v15h-2.5zM1050,957.5h2.5v27.5h-2.5zM1052.5,960h2.5v25h-2.5zM1055,960h2.5v22.5h-2.5zM1057.5,965h2.5v20h-2.5zM1060,962.5h2.5v22.5h-2.5zM1062.5,965h2.5v22.5h-2.5zM1065,967.5h2.5v20h-2.5zM1067.5,957.5h2.5v25h-2.5zM1070,955h2.5v22.5h-2.5zM1072.5,957.5h2.5v17.5h-2.5zM1075,955h2.5v20h-2.5zM1077.5,955h2.5v20h-2.5zM1080,947.5h2.5v17.5h-2.5zM1082.5,947.5h2.5v17.5h-2.5zM1085,950h2.5v15h-2.5zM1087.5,947.5h2.5v17.5h-2.5zM1090,945h2.5v17.5h-2.5zM1092.5,940h2.5v22.5h-2.5zM1095,937.5h2.5v22.5h-2.5zM1097.5,935h2.5v22.5h-2.5zM1100,932.5h2.5v20h-2.5zM1102.5,925h2.5v22.5h-2.5zM1105,922.5h2.5v22.5h-2.5zM1107.5,922.5h2.5v22.5h-2.5zM1110,917.5h2.5v17.5h-2.5zM1112.5,912.5h2.5v20h-2.5zM1115,910h2.5v22.5h-2.5zM1117.5,910h2.5v17.5h-2.5zM1120,905h2.5v17.5h-2.5zM1122.5,900h2.5v17.5h-2.5zM1125,897.5h2.5v17.5h-2.5zM1127.5,892.5h2.5v15h-2.5zM1130,887.5h2.5v20h-2.5zM1132.5,882.5h2.5v20h-2.5zM1135,880h2.5v20h-2.5zM1137.5,880h2.5v17.5h-2.5zM1140,870h2.5v27.5h-2.5zM1142.5,865h2.5v27.5h-2.5zM1145,862.5h2.5v20h-2.5zM1147.5,860h2.5v17.5h-2.5zM1150,860h2.5v20h-2.5zM1152.5,860h2.5v22.5h-2.5zM1155,852.5h2.5v27.5h-2.5zM1157.5,847.5h2.5v20h-2.5zM1160,835h2.5v30h-2.5zM1162.5,825h2.5v27.5h-2.5zM1165,825h2.5v25h-2.5zM1167.5,825h2.5v15h-2.5zM1170,822.5h2.5v15h-2.5zM1172.5,822.5h2.5v15h-2.5zM1175,812.5h2.5v22.5h-2.5zM1177.5,812.5h2.5v20h-2.5zM1180,810h2.5v25h-2.5zM1182.5,805h2.5v20h-2.5zM1185,790h2.5v32.5h-2.5zM1187.5,790h2.5v20h-2.5zM1190,787.5h2.5v17.5h-2.5zM1192.5,787.5h2.5v15h-2.5zM1195,787.5h2.5v17.5h-2.5zM1197.5,790h2.5v17.5h-2.5zM1200,785h2.5v22.5h-2.5zM1202.5,780h2.5v27.5h-2.5zM1205,777.5h2.5v22.5h-2.5zM1207.5,772.5h2.5v17.5h-2.5zM1210,767.5h2.5v20h-2.5zM1212.5,760h2.5v20h-2.5zM1215,755h2.5v22.5h-2.5zM1217.5,752.5h2.5v22.5h-2.5zM1220,752.5h2.5v12.5h-2.5zM1222.5,752.5h2.5v15h-2.5zM1225,755h2.5v12.5h-2.5zM1227.5,752.5h2.5v17.5h-2.5zM1230,750h2.5v17.5h-2.5zM1232.5,747.5h2.5v15h-2.5zM1235,747.5h2.5v20h-2.5zM1237.5,750h2.5v20h-2.5zM1240,757.5h2.5v15h-2.5zM1242.5,755h2.5v20h-2.5zM1245,757.5h2.5v27.5h-2.5zM1247.5,762.5h2.5v25h-2.5zM1250,770h2.5v25h-2.5zM1252.5,780h2.5v25h-2.5zM1255,787.5h2.5v22.5h-2.5zM1257.5,792.5h2.5v27.5h-2.5zM1260,807.5h2.5v20h-2.5zM1262.5,812.5h2.5v22.5h-2.5zM1265,817.5h2.5v22.5h-2.5zM1267.5,822.5h2.5v35h-2.5zM1270,837.5h2.5v22.5h-2.5zM1272.5,845h2.5v27.5h-2.5zM1275,852.5h2.5v30h-2.5zM1277.5,865h2.5v22.5h-2.5zM1280,870h2.5v27.5h-2.5zM1282.5,880h2.5v22.5h-2.5zM1285,885h2.5v37.5h-2.5zM1287.5,892.5h2.5v35h-2.5zM1290,905h2.5v25h-2.5zM1292.5,915h2.5v27.5h-2.5zM1295,922.5h2.5v25h-2.5zM1297.5,927.5h2.5v25h-2.5zM1300,940h2.5v32.5h-2.5zM1302.5,950h2.5v32.5h-2.5zM1305,967.5h2.5v22.5h-2.5zM1307.5,975h2.5v30h-2.5zM1310,982.5h2.5v25h-2.5zM1312.5,995h2.5v22.5h-2.5zM1315,1000h2.5v20h-2.5zM1317.5,1002.5h2.5v25h-2.5zM1320,1005h2.5v25h-2.5zM1322.5,1015h2.5v27.5h-2.5zM1325,1025h2.5v25h-2.5zM1327.5,1030h2.5v22.5h-2.5zM1330,1032.5h2.5v27.5h-2.5zM1332.5,1045h2.5v25h-2.5zM1335,1055h2.5v22.5h-2.5zM1337.5,1057.5h2.5v25h-2.5zM1340,1070h2.5v22.5h-2.5zM1342.5,1075h2.5v20h-2.5zM1345,1077.5h2.5v20h-2.5zM1347.5,1082.5h2.5v22.5h-2.5zM1350,1085h2.5v25h-2.5zM1352.5,1097.5h2.5v25h-2.5zM1355,1097.5h2.5v25h-2.5zM1357.5,1105h2.5v22.5h-2.5zM1360,1110h2.5v22.5h-2.5zM1362.5,1110h2.5v22.5h-2.5zM1365,1110h2.5v20h-2.5zM1367.5,1110h2.5v17.5h-2.5zM1370,1107.5h2.5v17.5h-2.5zM1372.5,1107.5h2.5v15h-2.5zM1375,1107.5h2.5v15h-2.5zM1377.5,1105h2.5v20h-2.5zM1380,1102.5h2.5v27.5h-2.5zM1382.5,1105h2.5v25h-2.5zM1385,1110h2.5v20h-2.5zM1387.5,1110h2.5v17.5h-2.5zM1390,1105h2.5v20h-2.5zM1392.5,1100h2.5v22.5h-2.5zM1395,1092.5h2.5v27.5h-2.5zM1397.5,1087.5h2.5v20h-2.5zM1400,1082.5h2.5v22.5h-2.5zM1402.5,1080h2.5v22.5h-2.5zM1405,1070h2.5v25h-2.5zM1407.5,1067.5h2.5v25h-2.5zM1410,1065h2.5v17.5h-2.5zM1412.5,1055h2.5v22.5h-2.5zM1415,1055h2.5v20h-2.5zM1417.5,1047.5h2.5v25h-2.5zM1420,1037.5h2.5v32.5h-2.5zM1422.5,1035h2.5v22.5h-2.5zM1425,1025h2.5v35h-2.5zM1427.5,1022.5h2.5v35h-2.5zM1430,1017.5h2.5v17.5h-2.5zM1432.5,1007.5h2.5v25h-2.5zM1435,1005h2.5v20h-2.5zM1437.5,995h2.5v27.5h-2.5zM1440,987.5h2.5v22.5h-2.5zM1442.5,977.5h2.5v22.5h-2.5zM1445,967.5h2.5v25h-2.5zM1447.5,957.5h2.5v27.5h-2.5zM1450,947.5h2.5v22.5h-2.5zM1452.5,932.5h2.5v30h-2.5zM1455,927.5h2.5v25h-2.5zM1457.5,915h2.5v32.5h-2.5zM1460,907.5h2.5v22.5h-2.5zM1462.5,900h2.5v15h-2.5zM1465,892.5h2.5v20h-2.5zM1467.5,877.5h2.5v30h-2.5zM1470,872.5h2.5v25h-2.5zM1472.5,865h2.5v25h-2.5zM1475,852.5h2.5v27.5h-2.5zM1477.5,842.5h2.5v30h-2.5zM1480,830h2.5v27.5h-2.5zM1482.5,817.5h2.5v35h-2.5zM1485,807.5h2.5v32.5h-2.5zM1487.5,800h2.5v27.5h-2.5zM1490,787.5h2.5v25h-2.5zM1492.5,780h2.5v27.5h-2.5zM1495,772.5h2.5v20h-2.5zM1497.5,757.5h2.5v30h-2.5zM1500,747.5h2.5v37.5h-2.5zM1502.5,745h2.5v20h-2.5zM1505,735h2.5v27.5h-2.5zM1507.5,730h2.5v25h-2.5zM1510,717.5h2.5v30h-2.5zM1512.5,712.5h2.5v27.5h-2.5zM1515,700h2.5v27.5h-2.5zM1517.5,690h2.5v27.5h-2.5zM1520,685h2.5v22.5h-2.5zM1522.5,680h2.5v17.5h-2.5zM1525,675h2.5v20h-2.5zM1527.5,670h2.5v20h-2.5zM1530,662.5h2.5v25h-2.5zM1532.5,657.5h2.5v17.5h-2.5zM1535,645h2.5v27.5h-2.5zM1537.5,642.5h2.5v20h-2.5zM1540,640h2.5v17.5h-2.5zM1542.5,637.5h2.5v20h-2.5zM1545,632.5h2.5v17.5h-2.5zM1547.5,622.5h2.5v22.5h-2.5zM1550,620h2.5v20h-2.5zM1552.5,612.5h2.5v22.5h-2.5zM1555,605h2.5v27.5h-2.5zM1557.5,607.5h2.5v17.5h-2.5zM1560,610h2.5v12.5h-2.5zM1562.5,610h2.5v15h-2.5zM1565,610h2.5v20h-2.5zM1567.5,607.5h2.5v22.5h-2.5zM1570,607.5h2.5v25h-2.5zM1572.5,617.5h2.5v15h-2.5zM1575,612.5h2.5v17.5h-2.5zM1577.5,612.5h2.5v15h-2.5zM1580,612.5h2.5v17.5h-2.5zM1582.5,617.5h2.5v22.5h-2.5zM1585,625h2.5v20h-2.5zM1587.5,622.5h2.5v22.5h-2.5zM1590,617.5h2.5v25h-2.5zM1592.5,617.5h2.5v22.5h-2.5zM1595,617.5h2.5v25h-2.5zM1597.5,630h2.5v20h-2.5zM1600,632.5h2.5v17.5h-2.5zM1602.5,632.5h2.5v27.5h-2.5zM1605,635h2.5v27.5h-2.5zM1607.5,650h2.5v25h-2.5zM1610,657.5h2.5v25h-2.5zM1612.5,660h2.5v20h-2.5zM1615,662.5h2.5v17.5h-2.5zM1617.5,665h2.5v17.5h-2.5zM1620,670h2.5v22.5h-2.5zM1622.5,672.5h2.5v25h-2.5zM1625,685h2.5v22.5h-2.5zM1627.5,687.5h2.5v22.5h-2.5zM1630,700h2.5v25h-2.5zM1632.5,705h2.5v22.5h-2.5zM1635,710h2.5v17.5h-2.5zM1637.5,720h2.5v17.5h-2.5zM1640,722.5h2.5v27.5h-2.5zM1642.5,730h2.5v25h-2.5zM1645,737.5h2.5v32.5h-2.5zM1647.5,745h2.5v27.5h-2.5zM1650,757.5h2.5v22.5h-2.5zM1652.5,765h2.5v25h-2.5zM1655,775h2.5v17.5h-2.5zM1657.5,785h2.5v22.5h-2.5zM1660,787.5h2.5v25h-2.5zM1662.5,797.5h2.5v20h-2.5zM1665,800h2.5v22.5h-2.5zM1665,825h2.5v2.5h-2.5zM1667.5,807.5h2.5v25h-2.5zM1670,817.5h2.5v17.5h-2.5zM1672.5,820h2.5v30h-2.5zM1675,830h2.5v35h-2.5zM1677.5,845h2.5v25h-2.5zM1680,850h2.5v30h-2.5zM1682.5,865h2.5v20h-2.5zM1685,872.5h2.5v27.5h-2.5zM1685,902.5h2.5v2.5h-2.5zM1687.5,880h2.5v35h-2.5zM1690,897.5h2.5v22.5h-2.5zM1692.5,900h2.5v25h-2.5zM1695,912.5h2.5v22.5h-2.5zM1697.5,925h2.5v22.5h-2.5zM1700,930h2.5v20h-2.5zM1702.5,932.5h2.5v30h-2.5zM1705,940h2.5v30h-2.5zM1707.5,952.5h2.5v17.5h-2.5zM1710,957.5h2.5v20h-2.5zM1712.5,967.5h2.5v20h-2.5zM1715,972.5h2.5v20h-2.5zM1717.5,977.5h2.5v20h-2.5zM1720,985h2.5v20h-2.5zM1722.5,990h2.5v25h-2.5zM1725,992.5h2.5v22.5h-2.5zM1727.5,995h2.5v17.5h-2.5zM1730,1000h2.5v17.5h-2.5zM1732.5,1002.5h2.5v20h-2.5zM1735,1005h2.5v20h-2.5zM1737.5,1005h2.5v25h-2.5zM1740,1015h2.5v30h-2.5zM1742.5,1025h2.5v20h-2.5zM1745,1027.5h2.5v15h-2.5zM1747.5,1027.5h2.5v15h-2.5zM1750,1030h2.5v15h-2.5zM1752.5,1030h2.5v17.5h-2.5zM1755,1030h2.5v20h-2.5zM1757.5,1030h2.5v20h-2.5zM1760,1032.5h2.5v20h-2.5zM1762.5,1040h2.5v17.5h-2.5zM1765,1040h2.5v22.5h-2.5zM1767.5,1047.5h2.5v15h-2.5zM1770,1047.5h2.5v15h-2.5zM1772.5,1040h2.5v25h-2.5zM1775,1037.5h2.5v25h-2.5zM1777.5,1035h2.5v20h-2.5zM1780,1037.5h2.5v12.5h-2.5zM1782.5,1035h2.5v15h-2.5zM1785,1037.5h2.5v12.5h-2.5zM1787.5,1035h2.5v17.5h-2.5zM1790,1027.5h2.5v20h-2.5zM1792.5,1022.5h2.5v25h-2.5zM1795,1020h2.5v17.5h-2.5zM1797.5,1020h2.5v17.5h-2.5zM1800,1017.5h2.5v17.5h-2.5zM1802.5,1010h2.5v20h-2.5zM1805,1007.5h2.5v20h-2.5zM1807.5,1005h2.5v25h-2.5zM1810,1000h2.5v20h-2.5zM1812.5,990h2.5v27.5h-2.5zM1815,987.5h2.5v27.5h-2.5zM1817.5,977.5h2.5v27.5h-2.5zM1820,977.5h2.5v22.5h-2.5zM1822.5,970h2.5v17.5h-2.5zM1825,965h2.5v22.5h-2.5zM1827.5,960h2.5v25h-2.5zM1830,957.5h2.5v25h-2.5zM1832.5,952.5h2.5v20h-2.5zM1835,945h2.5v17.5h-2.5zM1837.5,937.5h2.5v22.5h-2.5zM1840,935h2.5v17.5h-2.5zM1842.5,930h2.5v17.5h-2.5zM1845,922.5h2.5v22.5h-2.5zM1847.5,915h2.5v17.5h-2.5zM1847.5,940h2.5v2.5h-2.5zM1850,905h2.5v25h-2.5zM1852.5,895h2.5v30h-2.5zM1855,880h2.5v30h-2.5zM1857.5,877.5h2.5v25h-2.5zM1860,870h2.5v22.5h-2.5zM1862.5,865h2.5v25h-2.5zM1865,855h2.5v20h-2.5zM1867.5,842.5h2.5v25h-2.5zM1870,837.5h2.5v20h-2.5zM1872.5,827.5h2.5v25h-2.5zM1875,822.5h2.5v22.5h-2.5zM1877.5,815h2.5v22.5h-2.5zM1880,807.5h2.5v22.5h-2.5zM1882.5,802.5h2.5v15h-2.5zM1885,800h2.5v15h-2.5zM1887.5,792.5h2.5v22.5h-2.5zM1890,790h2.5v22.5h-2.5zM1892.5,777.5h2.5v30h-2.5zM1895,775h2.5v22.5h-2.5zM1897.5,770h2.5v25h-2.5zM1900,765h2.5v20h-2.5zM1902.5,755h2.5v27.5h-2.5zM1905,750h2.5v25h-2.5zM1907.5,742.5h2.5v20h-2.5zM1910,735h2.5v22.5h-2.5zM1912.5,727.5h2.5v20h-2.5zM1915,722.5h2.5v17.5h-2.5zM1917.5,715h2.5v22.5h-2.5zM1920,710h2.5v17.5h-2.5zM1922.5,710h2.5v17.5h-2.5zM1925,705h2.5v22.5h-2.5zM1927.5,705h2.5v12.5h-2.5zM1930,697.5h2.5v17.5h-2.5zM1932.5,697.5h2.5v17.5h-2.5zM1935,695h2.5v15h-2.5zM1937.5,692.5h2.5v15h-2.5zM1940,687.5h2.5v20h-2.5zM1942.5,677.5h2.5v22.5h-2.5zM1945,675h2.5v20h-2.5zM1947.5,677.5h2.5v12.5h-2.5zM1950,677.5h2.5v17.5h-2.5zM1952.5,672.5h2.5v22.5h-2.5zM1955,675h2.5v22.5h-2.5zM1957.5,680h2.5v20h-2.5zM1960,675h2.5v15h-2.5zM1962.5,675h2.5v17.5h-2.5zM1965,675h2.5v20h-2.5zM1967.5,675h2.5v17.5h-2.5zM1970,675h2.5v22.5h-2.5zM1972.5,677.5h2.5v22.5h-2.5zM1975,675h2.5v22.5h-2.5zM1977.5,675h2.5v22.5h-2.5zM1980,670h2.5v25h-2.5zM1982.5,670h2.5v20h-2.5zM1985,675h2.5v15h-2.5zM1987.5,677.5h2.5v17.5h-2.5zM1990,680h2.5v20h-2.5zM1992.5,680h2.5v25h-2.5zM1995,690h2.5v15h-2.5zM1997.5,695h2.5v10h-2.5zM2000,692.5h2.5v17.5h-2.5zM2002.5,695h2.5v17.5h-2.5zM2005,695h2.5v20h-2.5zM2007.5,700h2.5v22.5h-2.5zM2010,707.5h2.5v17.5h-2.5zM2012.5,715h2.5v15h-2.5zM2015,715h2.5v22.5h-2.5zM2017.5,725h2.5v20h-2.5zM2020,732.5h2.5v22.5h-2.5zM2022.5,737.5h2.5v22.5h-2.5zM2025,737.5h2.5v25h-2.5zM2027.5,747.5h2.5v20h-2.5zM2030,755h2.5v22.5h-2.5zM2032.5,760h2.5v20h-2.5zM2035,767.5h2.5v12.5h-2.5zM2037.5,770h2.5v15h-2.5zM2040,772.5h2.5v17.5h-2.5zM2042.5,780h2.5v15h-2.5zM2045,782.5h2.5v25h-2.5zM2047.5,787.5h2.5v25h-2.5zM2050,797.5h2.5v27.5h-2.5zM2052.5,807.5h2.5v17.5h-2.5zM2055,810h2.5v27.5h-2.5zM2057.5,822.5h2.5v15h-2.5zM2060,822.5h2.5v25h-2.5zM2062.5,827.5h2.5v22.5h-2.5zM2065,832.5h2.5v25h-2.5zM2067.5,837.5h2.5v25h-2.5zM2070,840h2.5v22.5h-2.5zM2072.5,852.5h2.5v22.5h-2.5zM2075,857.5h2.5v25h-2.5zM2077.5,865h2.5v20h-2.5zM2080,870h2.5v20h-2.5zM2082.5,872.5h2.5v20h-2.5zM2085,877.5h2.5v20h-2.5zM2087.5,887.5h2.5v27.5h-2.5zM2090,890h2.5v25h-2.5zM2092.5,895h2.5v30h-2.5zM2095,905h2.5v22.5h-2.5zM2097.5,910h2.5v25h-2.5zM2100,917.5h2.5v22.5h-2.5zM2102.5,927.5h2.5v20h-2.5zM2105,930h2.5v22.5h-2.5zM2107.5,935h2.5v25h-2.5zM2110,937.5h2.5v22.5h-2.5zM2112.5,937.5h2.5v20h-2.5zM2115,945h2.5v20h-2.5zM2117.5,947.5h2.5v25h-2.5zM2120,952.5h2.5v22.5h-2.5zM2122.5,957.5h2.5v22.5h-2.5zM2125,960h2.5v20h-2.5zM2127.5,960h2.5v17.5h-2.5zM2130,965h2.5v12.5h-2.5zM2132.5,967.5h2.5v17.5h-2.5zM2135,970h2.5v20h-2.5zM2137.5,975h2.5v20h-2.5zM2140,982.5h2.5v17.5h-2.5zM2142.5,982.5h2.5v25h-2.5zM2145,982.5h2.5v25h-2.5zM2147.5,982.5h2.5v27.5h-2.5zM2150,980h2.5v30h-2.5zM2152.5,980h2.5v25h-2.5zM2155,990h2.5v20h-2.5zM2157.5,995h2.5v20h-2.5zM2160,995h2.5v22.5h-2.5zM2162.5,997.5h2.5v17.5h-2.5zM2165,1000h2.5v20h-2.5zM2167.5,1000h2.5v20h-2.5zM2170,997.5h2.5v15h-2.5zM2172.5,992.5h2.5v17.5h-2.5zM2175,992.5h2.5v17.5h-2.5zM2177.5,990h2.5v12.5h-2.5zM2180,985h2.5v15h-2.5zM2182.5,985h2.5v12.5h-2.5z"/></g>
<g shape-rendering="crispEdges"><path fill="#f5ab12" fill-opacity="0.30" d="M197.5,1095h2.5v2.5h-2.5zM200,1092.5h2.5v2.5h-2.5zM205,1090h2.5v2.5h-2.5zM207.5,1090h2.5v2.5h-2.5zM222.5,1110h2.5v2.5h-2.5zM225,1090h2.5v2.5h-2.5zM230,1112.5h2.5v2.5h-2.5zM232.5,1112.5h2.5v2.5h-2.5zM235,1110h2.5v2.5h-2.5zM240,1092.5h2.5v2.5h-2.5zM242.5,1095h2.5v2.5h-2.5zM245,1092.5h2.5v2.5h-2.5zM250,1110h2.5v2.5h-2.5zM252.5,1092.5h2.5v2.5h-2.5zM252.5,1110h2.5v2.5h-2.5zM255,1107.5h2.5v2.5h-2.5zM257.5,1092.5h2.5v2.5h-2.5zM257.5,1107.5h2.5v2.5h-2.5zM260,1107.5h2.5v2.5h-2.5zM270,1102.5h2.5v2.5h-2.5zM272.5,1102.5h2.5v2.5h-2.5zM275,1080h2.5v2.5h-2.5zM282.5,1075h2.5v2.5h-2.5zM287.5,1057.5h2.5v2.5h-2.5zM292.5,1057.5h2.5v2.5h-2.5zM307.5,1055h2.5v2.5h-2.5zM312.5,1015h2.5v2.5h-2.5zM315,1040h2.5v2.5h-2.5zM317.5,1005h2.5v2.5h-2.5zM322.5,1017.5h2.5v2.5h-2.5zM327.5,982.5h2.5v2.5h-2.5zM330,972.5h2.5v2.5h-2.5zM332.5,970h2.5v2.5h-2.5zM335,992.5h2.5v2.5h-2.5zM340,980h2.5v5h-2.5zM345,950h2.5v5h-2.5zM345,975h2.5v2.5h-2.5zM347.5,967.5h2.5v2.5h-2.5zM350,965h2.5v2.5h-2.5zM352.5,930h2.5v5h-2.5zM352.5,955h2.5v2.5h-2.5zM357.5,947.5h2.5v2.5h-2.5zM365,925h2.5v2.5h-2.5zM365,942.5h2.5v2.5h-2.5zM367.5,922.5h2.5v2.5h-2.5zM372.5,942.5h2.5v2.5h-2.5zM385,937.5h2.5v2.5h-2.5zM387.5,922.5h2.5v2.5h-2.5zM390,925h2.5v2.5h-2.5zM392.5,945h2.5v2.5h-2.5zM402.5,937.5h2.5v2.5h-2.5zM407.5,965h2.5v2.5h-2.5zM412.5,947.5h2.5v2.5h-2.5zM417.5,977.5h2.5v2.5h-2.5zM422.5,965h2.5v2.5h-2.5zM425,972.5h2.5v2.5h-2.5zM445,1010h2.5v2.5h-2.5zM447.5,1012.5h2.5v2.5h-2.5zM447.5,1032.5h2.5v2.5h-2.5zM450,1037.5h2.5v5h-2.5zM450,1045h2.5v2.5h-2.5zM452.5,1047.5h2.5v2.5h-2.5zM455,1050h2.5v2.5h-2.5zM457.5,1032.5h2.5v2.5h-2.5zM457.5,1050h2.5v7.5h-2.5zM462.5,1037.5h2.5v2.5h-2.5zM465,1057.5h2.5v7.5h-2.5zM467.5,1065h2.5v2.5h-2.5zM470,1065h2.5v2.5h-2.5zM472.5,1057.5h2.5v2.5h-2.5zM482.5,1030h2.5v2.5h-2.5zM492.5,1007.5h2.5v2.5h-2.5zM497.5,997.5h2.5v2.5h-2.5zM502.5,1012.5h2.5v2.5h-2.5zM505,1000h2.5v2.5h-2.5zM507.5,962.5h2.5v2.5h-2.5zM512.5,947.5h2.5v2.5h-2.5zM515,930h2.5v2.5h-2.5zM515,962.5h2.5v10h-2.5zM517.5,922.5h2.5v2.5h-2.5zM520,912.5h2.5v2.5h-2.5zM520,945h2.5v2.5h-2.5zM522.5,905h2.5v2.5h-2.5zM522.5,937.5h2.5v2.5h-2.5zM530,885h2.5v2.5h-2.5zM532.5,905h2.5v2.5h-2.5zM535,865h2.5v2.5h-2.5zM537.5,855h2.5v2.5h-2.5zM540,875h2.5v2.5h-2.5zM542.5,870h2.5v2.5h-2.5zM545,825h2.5v2.5h-2.5zM555,790h2.5v2.5h-2.5zM555,815h2.5v2.5h-2.5zM555,820h2.5v2.5h-2.5zM560,780h2.5v2.5h-2.5zM562.5,795h2.5v5h-2.5zM567.5,765h2.5v2.5h-2.5zM570,785h2.5v2.5h-2.5zM572.5,785h2.5v2.5h-2.5zM575,782.5h2.5v2.5h-2.5zM580,782.5h2.5v2.5h-2.5zM582.5,782.5h2.5v2.5h-2.5zM585,762.5h2.5v2.5h-2.5zM585,780h2.5v2.5h-2.5zM587.5,787.5h2.5v2.5h-2.5zM590,767.5h2.5v2.5h-2.5zM590,795h2.5v2.5h-2.5zM595,802.5h2.5v5h-2.5zM605,832.5h2.5v2.5h-2.5zM610,852.5h2.5v2.5h-2.5zM612.5,830h2.5v5h-2.5zM615,875h2.5v2.5h-2.5zM620,897.5h2.5v5h-2.5zM622.5,910h2.5v2.5h-2.5zM625,885h2.5v2.5h-2.5zM627.5,890h2.5v5h-2.5zM627.5,937.5h2.5v2.5h-2.5zM630,907.5h2.5v5h-2.5zM630,945h2.5v5h-2.5zM632.5,922.5h2.5v2.5h-2.5zM635,977.5h2.5v2.5h-2.5zM640,962.5h2.5v2.5h-2.5zM640,1007.5h2.5v2.5h-2.5zM642.5,977.5h2.5v7.5h-2.5zM642.5,1020h2.5v2.5h-2.5zM645,990h2.5v2.5h-2.5zM647.5,1050h2.5v2.5h-2.5zM652.5,1037.5h2.5v2.5h-2.5zM652.5,1070h2.5v2.5h-2.5zM655,1080h2.5v2.5h-2.5zM657.5,1100h2.5v2.5h-2.5zM660,1070h2.5v2.5h-2.5zM660,1102.5h2.5v2.5h-2.5zM662.5,1122.5h2.5v2.5h-2.5zM667.5,1102.5h2.5v2.5h-2.5zM667.5,1130h2.5v5h-2.5zM670,1135h2.5v2.5h-2.5zM675,1120h2.5v2.5h-2.5zM675,1140h2.5v2.5h-2.5zM680,1135h2.5v2.5h-2.5zM682.5,1132.5h2.5v2.5h-2.5zM685,1110h2.5v2.5h-2.5zM685,1127.5h2.5v2.5h-2.5zM690,1100h2.5v2.5h-2.5zM692.5,1117.5h2.5v2.5h-2.5zM697.5,1065h2.5v5h-2.5zM700,1050h2.5v7.5h-2.5zM705,1017.5h2.5v2.5h-2.5zM705,1067.5h2.5v2.5h-2.5zM707.5,1055h2.5v5h-2.5zM710,975h2.5v2.5h-2.5zM710,1030h2.5v2.5h-2.5zM712.5,1007.5h2.5v12.5h-2.5zM715,997.5h2.5v2.5h-2.5zM717.5,925h2.5v7.5h-2.5zM720,957.5h2.5v2.5h-2.5zM722.5,885h2.5v2.5h-2.5zM722.5,942.5h2.5v2.5h-2.5zM725,860h2.5v2.5h-2.5zM725,925h2.5v2.5h-2.5zM727.5,837.5h2.5v10h-2.5zM727.5,895h2.5v7.5h-2.5zM730,812.5h2.5v2.5h-2.5zM730,872.5h2.5v10h-2.5zM732.5,797.5h2.5v2.5h-2.5zM732.5,852.5h2.5v7.5h-2.5zM735,770h2.5v5h-2.5zM735,835h2.5v5h-2.5zM737.5,745h2.5v10h-2.5zM737.5,805h2.5v5h-2.5zM737.5,812.5h2.5v2.5h-2.5zM740,727.5h2.5v2.5h-2.5zM740,787.5h2.5v5h-2.5zM742.5,705h2.5v2.5h-2.5zM742.5,762.5h2.5v2.5h-2.5zM745,672.5h2.5v2.5h-2.5zM747.5,650h2.5v10h-2.5zM747.5,717.5h2.5v5h-2.5zM750,637.5h2.5v2.5h-2.5zM750,695h2.5v5h-2.5zM752.5,617.5h2.5v2.5h-2.5zM752.5,675h2.5v2.5h-2.5zM755,600h2.5v5h-2.5zM757.5,585h2.5v2.5h-2.5zM757.5,632.5h2.5v5h-2.5zM760,612.5h2.5v2.5h-2.5zM765,542.5h2.5v2.5h-2.5zM770,557.5h2.5v2.5h-2.5zM772.5,525h2.5v2.5h-2.5zM775,520h2.5v2.5h-2.5zM782.5,515h2.5v2.5h-2.5zM787.5,522.5h2.5v2.5h-2.5zM795,547.5h2.5v2.5h-2.5zM797.5,550h2.5v2.5h-2.5zM797.5,587.5h2.5v7.5h-2.5zM800,562.5h2.5v2.5h-2.5zM802.5,570h2.5v7.5h-2.5zM805,582.5h2.5v7.5h-2.5zM807.5,607.5h2.5v2.5h-2.5zM807.5,665h2.5v5h-2.5zM810,625h2.5v2.5h-2.5zM810,690h2.5v10h-2.5zM812.5,647.5h2.5v5h-2.5zM812.5,727.5h2.5v2.5h-2.5zM815,680h2.5v2.5h-2.5zM815,745h2.5v5h-2.5zM817.5,697.5h2.5v2.5h-2.5zM817.5,770h2.5v15h-2.5zM820,722.5h2.5v7.5h-2.5zM820,805h2.5v10h-2.5zM822.5,760h2.5v2.5h-2.5zM822.5,835h2.5v7.5h-2.5zM825,787.5h2.5v10h-2.5zM825,867.5h2.5v2.5h-2.5zM827.5,815h2.5v5h-2.5zM827.5,897.5h2.5v2.5h-2.5zM830,932.5h2.5v12.5h-2.5zM832.5,877.5h2.5v7.5h-2.5zM832.5,970h2.5v2.5h-2.5zM835,910h2.5v5h-2.5zM835,1005h2.5v5h-2.5zM837.5,945h2.5v2.5h-2.5zM837.5,1042.5h2.5v5h-2.5zM837.5,1052.5h2.5v2.5h-2.5zM840,977.5h2.5v7.5h-2.5zM840,1090h2.5v2.5h-2.5zM842.5,1017.5h2.5v7.5h-2.5zM842.5,1120h2.5v2.5h-2.5zM845,1062.5h2.5v7.5h-2.5zM845,1160h2.5v2.5h-2.5zM847.5,1100h2.5v2.5h-2.5zM850,1132.5h2.5v5h-2.5zM850,1202.5h2.5v15h-2.5zM852.5,1165h2.5v2.5h-2.5zM852.5,1235h2.5v5h-2.5zM855,1262.5h2.5v2.5h-2.5zM857.5,1287.5h2.5v7.5h-2.5zM860,1245h2.5v2.5h-2.5zM862.5,1270h2.5v10h-2.5zM862.5,1345h2.5v5h-2.5zM865,1302.5h2.5v5h-2.5z"/>
<path fill="#f5ab12" fill-opacity="0.65" d="M197.5,1097.5h2.5v2.5h-2.5zM202.5,1105h2.5v2.5h-2.5zM210,1110h2.5v2.5h-2.5zM215,1090h2.5v2.5h-2.5zM215,1107.5h2.5v2.5h-2.5zM217.5,1090h2.5v2.5h-2.5zM217.5,1107.5h2.5v2.5h-2.5zM220,1090h2.5v2.5h-2.5zM227.5,1092.5h2.5v2.5h-2.5zM227.5,1110h2.5v2.5h-2.5zM230,1095h2.5v2.5h-2.5zM235,1087.5h2.5v2.5h-2.5zM237.5,1090h2.5v5h-2.5zM245,1095h2.5v2.5h-2.5zM250,1090h2.5v2.5h-2.5zM260,1092.5h2.5v2.5h-2.5zM262.5,1087.5h2.5v2.5h-2.5zM272.5,1082.5h2.5v2.5h-2.5zM275,1097.5h2.5v2.5h-2.5zM280,1080h2.5v2.5h-2.5zM280,1097.5h2.5v2.5h-2.5zM282.5,1092.5h2.5v2.5h-2.5zM285,1070h2.5v2.5h-2.5zM287.5,1082.5h2.5v7.5h-2.5zM295,1080h2.5v2.5h-2.5zM297.5,1045h2.5v2.5h-2.5zM297.5,1075h2.5v2.5h-2.5zM302.5,1040h2.5v5h-2.5zM307.5,1030h2.5v2.5h-2.5zM312.5,1017.5h2.5v7.5h-2.5zM315,1010h2.5v2.5h-2.5zM317.5,1027.5h2.5v2.5h-2.5zM320,1025h2.5v2.5h-2.5zM322.5,990h2.5v2.5h-2.5zM325,1015h2.5v2.5h-2.5zM330,975h2.5v2.5h-2.5zM330,1005h2.5v2.5h-2.5zM332.5,995h2.5v2.5h-2.5zM335,965h2.5v5h-2.5zM342.5,960h2.5v2.5h-2.5zM345,955h2.5v2.5h-2.5zM347.5,942.5h2.5v5h-2.5zM350,937.5h2.5v2.5h-2.5zM352.5,935h2.5v2.5h-2.5zM365,940h2.5v2.5h-2.5zM370,942.5h2.5v2.5h-2.5zM375,922.5h2.5v2.5h-2.5zM380,922.5h2.5v2.5h-2.5zM382.5,920h2.5v2.5h-2.5zM385,920h2.5v2.5h-2.5zM392.5,942.5h2.5v2.5h-2.5zM395,925h2.5v2.5h-2.5zM395,947.5h2.5v2.5h-2.5zM397.5,930h2.5v2.5h-2.5zM397.5,952.5h2.5v2.5h-2.5zM400,952.5h2.5v2.5h-2.5zM402.5,955h2.5v2.5h-2.5zM405,957.5h2.5v2.5h-2.5zM407.5,942.5h2.5v2.5h-2.5zM410,945h2.5v2.5h-2.5zM412.5,975h2.5v2.5h-2.5zM420,962.5h2.5v2.5h-2.5zM420,980h2.5v10h-2.5zM425,992.5h2.5v2.5h-2.5zM427.5,977.5h2.5v2.5h-2.5zM427.5,995h2.5v2.5h-2.5zM430,982.5h2.5v2.5h-2.5zM432.5,987.5h2.5v2.5h-2.5zM432.5,1012.5h2.5v2.5h-2.5zM440,997.5h2.5v7.5h-2.5zM442.5,1022.5h2.5v2.5h-2.5zM447.5,1015h2.5v2.5h-2.5zM447.5,1030h2.5v2.5h-2.5zM450,1042.5h2.5v2.5h-2.5zM460,1057.5h2.5v2.5h-2.5zM462.5,1057.5h2.5v2.5h-2.5zM465,1037.5h2.5v2.5h-2.5zM467.5,1037.5h2.5v2.5h-2.5zM472.5,1035h2.5v2.5h-2.5zM475,1030h2.5v2.5h-2.5zM477.5,1030h2.5v2.5h-2.5zM477.5,1047.5h2.5v2.5h-2.5zM480,1030h2.5v2.5h-2.5zM485,1020h2.5v2.5h-2.5zM490,1015h2.5v2.5h-2.5zM490,1035h2.5v2.5h-2.5zM492.5,1010h2.5v2.5h-2.5zM492.5,1030h2.5v2.5h-2.5zM495,1000h2.5v2.5h-2.5zM497.5,1022.5h2.5v2.5h-2.5zM500,987.5h2.5v5h-2.5zM502.5,977.5h2.5v5h-2.5zM502.5,1007.5h2.5v5h-2.5zM505,970h2.5v2.5h-2.5zM507.5,985h2.5v10h-2.5zM510,957.5h2.5v2.5h-2.5zM515,932.5h2.5v5h-2.5zM517.5,925h2.5v2.5h-2.5zM517.5,957.5h2.5v2.5h-2.5zM520,915h2.5v2.5h-2.5zM520,942.5h2.5v2.5h-2.5zM522.5,907.5h2.5v2.5h-2.5zM525,890h2.5v7.5h-2.5zM525,927.5h2.5v2.5h-2.5zM527.5,915h2.5v7.5h-2.5zM530,907.5h2.5v5h-2.5zM535,867.5h2.5v2.5h-2.5zM535,895h2.5v2.5h-2.5zM540,845h2.5v2.5h-2.5zM542.5,830h2.5v2.5h-2.5zM545,827.5h2.5v2.5h-2.5zM545,855h2.5v2.5h-2.5zM547.5,845h2.5v7.5h-2.5zM550,805h2.5v5h-2.5zM550,837.5h2.5v2.5h-2.5zM550,842.5h2.5v2.5h-2.5zM552.5,800h2.5v2.5h-2.5zM552.5,825h2.5v2.5h-2.5zM555,792.5h2.5v5h-2.5zM557.5,787.5h2.5v2.5h-2.5zM557.5,810h2.5v2.5h-2.5zM560,782.5h2.5v2.5h-2.5zM565,790h2.5v2.5h-2.5zM567.5,767.5h2.5v2.5h-2.5zM575,760h2.5v2.5h-2.5zM577.5,762.5h2.5v2.5h-2.5zM580,762.5h2.5v2.5h-2.5zM582.5,762.5h2.5v2.5h-2.5zM590,770h2.5v5h-2.5zM590,790h2.5v5h-2.5zM595,777.5h2.5v2.5h-2.5zM597.5,782.5h2.5v2.5h-2.5zM602.5,790h2.5v2.5h-2.5zM602.5,817.5h2.5v2.5h-2.5zM602.5,822.5h2.5v2.5h-2.5zM605,827.5h2.5v2.5h-2.5zM607.5,812.5h2.5v2.5h-2.5zM607.5,837.5h2.5v2.5h-2.5zM610,820h2.5v5h-2.5zM615,842.5h2.5v2.5h-2.5zM617.5,847.5h2.5v2.5h-2.5zM617.5,877.5h2.5v2.5h-2.5zM620,855h2.5v12.5h-2.5zM620,890h2.5v7.5h-2.5zM622.5,872.5h2.5v2.5h-2.5zM622.5,905h2.5v5h-2.5zM625,920h2.5v2.5h-2.5zM627.5,895h2.5v2.5h-2.5zM630,940h2.5v5h-2.5zM630,950h2.5v5h-2.5zM632.5,925h2.5v2.5h-2.5zM635,932.5h2.5v5h-2.5zM637.5,952.5h2.5v2.5h-2.5zM637.5,987.5h2.5v2.5h-2.5zM640,965h2.5v2.5h-2.5zM640,997.5h2.5v10h-2.5zM645,992.5h2.5v2.5h-2.5zM647.5,1012.5h2.5v2.5h-2.5zM647.5,1045h2.5v5h-2.5zM650,1060h2.5v2.5h-2.5zM652.5,1040h2.5v2.5h-2.5zM655,1052.5h2.5v2.5h-2.5zM655,1077.5h2.5v2.5h-2.5zM657.5,1092.5h2.5v7.5h-2.5zM662.5,1112.5h2.5v5h-2.5zM665,1090h2.5v5h-2.5zM672.5,1137.5h2.5v2.5h-2.5zM677.5,1120h2.5v2.5h-2.5zM677.5,1137.5h2.5v2.5h-2.5zM682.5,1112.5h2.5v2.5h-2.5zM687.5,1107.5h2.5v2.5h-2.5zM690,1102.5h2.5v2.5h-2.5zM690,1117.5h2.5v2.5h-2.5zM695,1082.5h2.5v2.5h-2.5zM695,1110h2.5v2.5h-2.5zM695,1115h2.5v2.5h-2.5zM697.5,1102.5h2.5v2.5h-2.5zM700,1057.5h2.5v5h-2.5zM702.5,1030h2.5v10h-2.5zM702.5,1075h2.5v2.5h-2.5zM705,1020h2.5v5h-2.5zM707.5,997.5h2.5v5h-2.5zM707.5,1042.5h2.5v7.5h-2.5zM707.5,1052.5h2.5v2.5h-2.5zM710,977.5h2.5v10h-2.5zM710,1027.5h2.5v2.5h-2.5zM712.5,957.5h2.5v10h-2.5zM712.5,1002.5h2.5v5h-2.5zM715,937.5h2.5v10h-2.5zM715,990h2.5v7.5h-2.5zM717.5,932.5h2.5v2.5h-2.5zM717.5,977.5h2.5v2.5h-2.5zM720,912.5h2.5v5h-2.5zM720,947.5h2.5v5h-2.5zM722.5,887.5h2.5v2.5h-2.5zM725,862.5h2.5v5h-2.5zM725,920h2.5v5h-2.5zM727.5,892.5h2.5v2.5h-2.5zM730,815h2.5v12.5h-2.5zM730,867.5h2.5v5h-2.5zM732.5,850h2.5v2.5h-2.5zM735,775h2.5v7.5h-2.5zM735,827.5h2.5v7.5h-2.5zM737.5,755h2.5v2.5h-2.5zM740,730h2.5v12.5h-2.5zM740,782.5h2.5v5h-2.5zM740,792.5h2.5v5h-2.5zM742.5,707.5h2.5v2.5h-2.5zM742.5,760h2.5v2.5h-2.5zM745,675h2.5v7.5h-2.5zM745,742.5h2.5v7.5h-2.5zM747.5,660h2.5v5h-2.5zM747.5,712.5h2.5v5h-2.5zM750,685h2.5v5h-2.5zM750,692.5h2.5v2.5h-2.5zM752.5,620h2.5v2.5h-2.5zM752.5,665h2.5v10h-2.5zM755,605h2.5v2.5h-2.5zM757.5,587.5h2.5v2.5h-2.5zM757.5,625h2.5v7.5h-2.5zM760,572.5h2.5v2.5h-2.5zM760,610h2.5v2.5h-2.5zM762.5,552.5h2.5v5h-2.5zM762.5,590h2.5v5h-2.5zM765,545h2.5v5h-2.5zM765,580h2.5v2.5h-2.5zM767.5,535h2.5v2.5h-2.5zM767.5,565h2.5v2.5h-2.5zM770,530h2.5v2.5h-2.5zM772.5,550h2.5v5h-2.5zM775,545h2.5v2.5h-2.5zM777.5,517.5h2.5v2.5h-2.5zM777.5,535h2.5v2.5h-2.5zM787.5,525h2.5v2.5h-2.5zM787.5,555h2.5v2.5h-2.5zM790,535h2.5v2.5h-2.5zM795,575h2.5v2.5h-2.5zM797.5,585h2.5v2.5h-2.5zM800,565h2.5v2.5h-2.5zM800,602.5h2.5v2.5h-2.5zM802.5,615h2.5v7.5h-2.5zM805,590h2.5v7.5h-2.5zM805,640h2.5v2.5h-2.5zM807.5,610h2.5v5h-2.5zM807.5,660h2.5v5h-2.5zM810,627.5h2.5v12.5h-2.5zM812.5,652.5h2.5v5h-2.5zM812.5,710h2.5v17.5h-2.5zM815,682.5h2.5v2.5h-2.5zM815,742.5h2.5v2.5h-2.5zM817.5,700h2.5v5h-2.5zM817.5,767.5h2.5v2.5h-2.5zM820,730h2.5v10h-2.5zM822.5,762.5h2.5v2.5h-2.5zM822.5,827.5h2.5v7.5h-2.5zM825,865h2.5v2.5h-2.5zM827.5,820h2.5v5h-2.5zM827.5,890h2.5v7.5h-2.5zM830,845h2.5v20h-2.5zM830,925h2.5v7.5h-2.5zM832.5,885h2.5v5h-2.5zM832.5,955h2.5v15h-2.5zM832.5,972.5h2.5v5h-2.5zM835,915h2.5v10h-2.5zM835,1000h2.5v5h-2.5zM837.5,947.5h2.5v5h-2.5zM837.5,1037.5h2.5v2.5h-2.5zM840,985h2.5v12.5h-2.5zM840,1077.5h2.5v12.5h-2.5zM842.5,1025h2.5v12.5h-2.5zM842.5,1107.5h2.5v12.5h-2.5zM845,1070h2.5v7.5h-2.5zM845,1155h2.5v2.5h-2.5zM847.5,1102.5h2.5v5h-2.5zM847.5,1180h2.5v5h-2.5zM850,1137.5h2.5v17.5h-2.5zM850,1200h2.5v2.5h-2.5zM852.5,1167.5h2.5v10h-2.5zM852.5,1227.5h2.5v7.5h-2.5zM855,1190h2.5v2.5h-2.5zM857.5,1222.5h2.5v5h-2.5zM857.5,1285h2.5v2.5h-2.5zM860,1247.5h2.5v10h-2.5zM860,1317.5h2.5v2.5h-2.5zM860,1322.5h2.5v2.5h-2.5zM862.5,1280h2.5v5h-2.5zM862.5,1342.5h2.5v2.5h-2.5zM865,1307.5h2.5v7.5h-2.5zM867.5,1335h2.5v2.5h-2.5z"/>
<path fill="#f5ab12" d="M197.5,1100h2.5v10h-2.5zM200,1095h2.5v15h-2.5zM202.5,1092.5h2.5v12.5h-2.5zM205,1092.5h2.5v15h-2.5zM207.5,1092.5h2.5v15h-2.5zM210,1092.5h2.5v17.5h-2.5zM212.5,1090h2.5v22.5h-2.5zM215,1092.5h2.5v15h-2.5zM217.5,1092.5h2.5v15h-2.5zM220,1092.5h2.5v17.5h-2.5zM222.5,1090h2.5v20h-2.5zM225,1092.5h2.5v20h-2.5zM227.5,1095h2.5v15h-2.5zM230,1097.5h2.5v15h-2.5zM232.5,1090h2.5v22.5h-2.5zM235,1090h2.5v20h-2.5zM237.5,1095h2.5v17.5h-2.5zM240,1095h2.5v17.5h-2.5zM242.5,1097.5h2.5v12.5h-2.5zM245,1097.5h2.5v12.5h-2.5zM247.5,1090h2.5v20h-2.5zM250,1092.5h2.5v17.5h-2.5zM252.5,1095h2.5v15h-2.5zM255,1092.5h2.5v15h-2.5zM257.5,1095h2.5v12.5h-2.5zM260,1095h2.5v12.5h-2.5zM262.5,1090h2.5v17.5h-2.5zM265,1087.5h2.5v22.5h-2.5zM267.5,1085h2.5v22.5h-2.5zM270,1085h2.5v17.5h-2.5zM272.5,1085h2.5v17.5h-2.5zM275,1082.5h2.5v15h-2.5zM277.5,1082.5h2.5v17.5h-2.5zM280,1082.5h2.5v15h-2.5zM282.5,1077.5h2.5v15h-2.5zM285,1072.5h2.5v20h-2.5zM287.5,1060h2.5v22.5h-2.5zM290,1057.5h2.5v25h-2.5zM292.5,1060h2.5v22.5h-2.5zM295,1057.5h2.5v22.5h-2.5zM297.5,1047.5h2.5v27.5h-2.5zM300,1045h2.5v25h-2.5zM302.5,1045h2.5v22.5h-2.5zM305,1037.5h2.5v27.5h-2.5zM307.5,1032.5h2.5v22.5h-2.5zM310,1027.5h2.5v22.5h-2.5zM312.5,1025h2.5v17.5h-2.5zM315,1012.5h2.5v27.5h-2.5zM317.5,1007.5h2.5v20h-2.5zM317.5,1030h2.5v2.5h-2.5zM320,1002.5h2.5v22.5h-2.5zM322.5,992.5h2.5v25h-2.5zM325,990h2.5v25h-2.5zM327.5,985h2.5v25h-2.5zM330,977.5h2.5v27.5h-2.5zM332.5,972.5h2.5v22.5h-2.5zM335,970h2.5v22.5h-2.5zM337.5,962.5h2.5v25h-2.5zM340,962.5h2.5v17.5h-2.5zM342.5,962.5h2.5v15h-2.5zM345,957.5h2.5v17.5h-2.5zM347.5,947.5h2.5v20h-2.5zM350,940h2.5v25h-2.5zM352.5,937.5h2.5v17.5h-2.5zM355,927.5h2.5v22.5h-2.5zM357.5,927.5h2.5v20h-2.5zM360,930h2.5v17.5h-2.5zM362.5,927.5h2.5v20h-2.5zM365,927.5h2.5v12.5h-2.5zM367.5,925h2.5v17.5h-2.5zM370,925h2.5v17.5h-2.5zM372.5,925h2.5v17.5h-2.5zM375,925h2.5v20h-2.5zM377.5,922.5h2.5v20h-2.5zM380,925h2.5v15h-2.5zM382.5,922.5h2.5v15h-2.5zM385,922.5h2.5v15h-2.5zM387.5,925h2.5v12.5h-2.5zM390,927.5h2.5v15h-2.5zM392.5,925h2.5v17.5h-2.5zM395,927.5h2.5v20h-2.5zM397.5,932.5h2.5v20h-2.5zM400,935h2.5v17.5h-2.5zM402.5,940h2.5v15h-2.5zM405,942.5h2.5v15h-2.5zM407.5,945h2.5v20h-2.5zM410,947.5h2.5v20h-2.5zM412.5,950h2.5v25h-2.5zM415,955h2.5v22.5h-2.5zM417.5,962.5h2.5v15h-2.5zM420,965h2.5v15h-2.5zM422.5,967.5h2.5v25h-2.5zM425,975h2.5v17.5h-2.5zM427.5,980h2.5v15h-2.5zM430,985h2.5v17.5h-2.5zM432.5,990h2.5v22.5h-2.5zM435,992.5h2.5v22.5h-2.5zM437.5,995h2.5v25h-2.5zM440,1005h2.5v17.5h-2.5zM442.5,1007.5h2.5v15h-2.5zM445,1012.5h2.5v17.5h-2.5zM447.5,1017.5h2.5v12.5h-2.5zM450,1020h2.5v17.5h-2.5zM452.5,1022.5h2.5v25h-2.5zM455,1030h2.5v20h-2.5zM457.5,1035h2.5v15h-2.5zM460,1035h2.5v22.5h-2.5zM462.5,1040h2.5v17.5h-2.5zM465,1040h2.5v17.5h-2.5zM467.5,1040h2.5v25h-2.5zM470,1037.5h2.5v27.5h-2.5zM472.5,1037.5h2.5v20h-2.5zM475,1032.5h2.5v20h-2.5zM477.5,1032.5h2.5v15h-2.5zM480,1032.5h2.5v15h-2.5zM482.5,1032.5h2.5v15h-2.5zM485,1022.5h2.5v20h-2.5zM487.5,1017.5h2.5v20h-2.5zM490,1017.5h2.5v17.5h-2.5zM492.5,1012.5h2.5v17.5h-2.5zM495,1002.5h2.5v22.5h-2.5zM497.5,1000h2.5v22.5h-2.5zM500,992.5h2.5v22.5h-2.5zM502.5,982.5h2.5v25h-2.5zM505,972.5h2.5v27.5h-2.5zM507.5,965h2.5v20h-2.5zM510,960h2.5v22.5h-2.5zM512.5,950h2.5v25h-2.5zM515,937.5h2.5v25h-2.5zM517.5,927.5h2.5v30h-2.5zM520,917.5h2.5v25h-2.5zM522.5,910h2.5v27.5h-2.5zM525,897.5h2.5v30h-2.5zM527.5,887.5h2.5v27.5h-2.5zM530,887.5h2.5v20h-2.5zM532.5,877.5h2.5v27.5h-2.5zM535,870h2.5v25h-2.5zM537.5,857.5h2.5v32.5h-2.5zM540,847.5h2.5v27.5h-2.5zM542.5,832.5h2.5v35h-2.5zM545,830h2.5v25h-2.5zM547.5,820h2.5v25h-2.5zM550,810h2.5v27.5h-2.5zM550,840h2.5v2.5h-2.5zM552.5,802.5h2.5v22.5h-2.5zM555,797.5h2.5v17.5h-2.5zM557.5,790h2.5v20h-2.5zM560,785h2.5v20h-2.5zM562.5,772.5h2.5v22.5h-2.5zM565,772.5h2.5v17.5h-2.5zM567.5,770h2.5v20h-2.5zM570,765h2.5v20h-2.5zM572.5,762.5h2.5v22.5h-2.5zM575,762.5h2.5v20h-2.5zM577.5,765h2.5v15h-2.5zM580,765h2.5v17.5h-2.5zM582.5,765h2.5v17.5h-2.5zM585,765h2.5v15h-2.5zM587.5,765h2.5v22.5h-2.5zM590,775h2.5v15h-2.5zM592.5,777.5h2.5v20h-2.5zM595,780h2.5v22.5h-2.5zM597.5,785h2.5v25h-2.5zM600,790h2.5v27.5h-2.5zM602.5,792.5h2.5v25h-2.5zM602.5,820h2.5v2.5h-2.5zM605,807.5h2.5v20h-2.5zM605,830h2.5v2.5h-2.5zM607.5,815h2.5v22.5h-2.5zM610,825h2.5v27.5h-2.5zM612.5,835h2.5v30h-2.5zM615,845h2.5v30h-2.5zM617.5,850h2.5v27.5h-2.5zM620,867.5h2.5v22.5h-2.5zM622.5,875h2.5v30h-2.5zM625,887.5h2.5v32.5h-2.5zM627.5,897.5h2.5v40h-2.5zM630,912.5h2.5v27.5h-2.5zM632.5,927.5h2.5v32.5h-2.5zM635,937.5h2.5v40h-2.5zM637.5,955h2.5v32.5h-2.5zM640,967.5h2.5v30h-2.5zM642.5,985h2.5v35h-2.5zM645,995h2.5v47.5h-2.5zM647.5,1015h2.5v30h-2.5zM650,1027.5h2.5v32.5h-2.5zM652.5,1042.5h2.5v27.5h-2.5zM655,1055h2.5v22.5h-2.5zM657.5,1065h2.5v27.5h-2.5zM660,1072.5h2.5v30h-2.5zM662.5,1085h2.5v27.5h-2.5zM662.5,1117.5h2.5v5h-2.5zM665,1095h2.5v30h-2.5zM667.5,1105h2.5v25h-2.5zM670,1112.5h2.5v22.5h-2.5zM672.5,1115h2.5v22.5h-2.5zM675,1122.5h2.5v17.5h-2.5zM677.5,1122.5h2.5v15h-2.5zM680,1122.5h2.5v12.5h-2.5zM682.5,1115h2.5v17.5h-2.5zM685,1112.5h2.5v15h-2.5zM687.5,1110h2.5v12.5h-2.5zM690,1105h2.5v12.5h-2.5zM692.5,1092.5h2.5v25h-2.5zM695,1085h2.5v25h-2.5zM695,1112.5h2.5v2.5h-2.5zM697.5,1070h2.5v32.5h-2.5zM700,1062.5h2.5v32.5h-2.5zM702.5,1040h2.5v35h-2.5zM705,1025h2.5v42.5h-2.5zM707.5,1002.5h2.5v40h-2.5zM707.5,1050h2.5v2.5h-2.5zM710,987.5h2.5v40h-2.5zM712.5,967.5h2.5v35h-2.5zM715,947.5h2.5v42.5h-2.5zM717.5,935h2.5v42.5h-2.5zM720,917.5h2.5v30h-2.5zM720,952.5h2.5v5h-2.5zM722.5,890h2.5v52.5h-2.5zM725,867.5h2.5v52.5h-2.5zM727.5,847.5h2.5v45h-2.5zM730,827.5h2.5v40h-2.5zM732.5,800h2.5v50h-2.5zM735,782.5h2.5v45h-2.5zM737.5,757.5h2.5v47.5h-2.5zM740,742.5h2.5v40h-2.5zM742.5,710h2.5v50h-2.5zM745,682.5h2.5v60h-2.5zM747.5,665h2.5v47.5h-2.5zM750,640h2.5v45h-2.5zM750,690h2.5v2.5h-2.5zM752.5,622.5h2.5v42.5h-2.5zM755,607.5h2.5v42.5h-2.5zM757.5,590h2.5v35h-2.5zM760,575h2.5v35h-2.5zM762.5,557.5h2.5v32.5h-2.5zM765,550h2.5v30h-2.5zM767.5,537.5h2.5v27.5h-2.5zM770,532.5h2.5v25h-2.5zM772.5,527.5h2.5v22.5h-2.5zM775,522.5h2.5v22.5h-2.5zM777.5,520h2.5v15h-2.5zM777.5,537.5h2.5v2.5h-2.5zM780,515h2.5v20h-2.5zM782.5,517.5h2.5v17.5h-2.5zM785,520h2.5v35h-2.5zM787.5,527.5h2.5v27.5h-2.5zM790,537.5h2.5v20h-2.5zM792.5,537.5h2.5v27.5h-2.5zM795,550h2.5v25h-2.5zM797.5,552.5h2.5v32.5h-2.5zM800,567.5h2.5v35h-2.5zM802.5,577.5h2.5v37.5h-2.5zM805,597.5h2.5v42.5h-2.5zM807.5,615h2.5v45h-2.5zM810,640h2.5v50h-2.5zM812.5,657.5h2.5v52.5h-2.5zM815,685h2.5v57.5h-2.5zM817.5,705h2.5v62.5h-2.5zM820,740h2.5v65h-2.5zM822.5,765h2.5v62.5h-2.5zM825,797.5h2.5v67.5h-2.5zM827.5,825h2.5v65h-2.5zM830,865h2.5v60h-2.5zM832.5,890h2.5v65h-2.5zM835,925h2.5v75h-2.5zM837.5,952.5h2.5v85h-2.5zM837.5,1040h2.5v2.5h-2.5zM840,997.5h2.5v80h-2.5zM842.5,1037.5h2.5v70h-2.5zM845,1077.5h2.5v77.5h-2.5zM845,1157.5h2.5v2.5h-2.5zM847.5,1107.5h2.5v72.5h-2.5zM847.5,1185h2.5v5h-2.5zM850,1155h2.5v45h-2.5zM852.5,1177.5h2.5v50h-2.5zM855,1192.5h2.5v70h-2.5zM857.5,1227.5h2.5v57.5h-2.5zM860,1257.5h2.5v60h-2.5zM860,1320h2.5v2.5h-2.5zM862.5,1285h2.5v57.5h-2.5zM865,1315h2.5v35h-2.5zM867.5,1337.5h2.5v12.5h-2.5z"/></g>
<g shape-rendering="crispEdges"><path fill="#8a289a" fill-opacity="0.30" d="M197.5,1095h2.5v2.5h-2.5zM200,1092.5h2.5v2.5h-2.5zM205,1090h2.5v2.5h-2.5zM207.5,1117.5h2.5v2.5h-2.5zM210,1117.5h2.5v2.5h-2.5zM212.5,1090h2.5v2.5h-2.5zM212.5,1115h2.5v2.5h-2.5zM220,1112.5h2.5v2.5h-2.5zM225,1092.5h2.5v2.5h-2.5zM227.5,1110h2.5v2.5h-2.5zM235,1090h2.5v2.5h-2.5zM235,1112.5h2.5v2.5h-2.5zM237.5,1092.5h2.5v2.5h-2.5zM240,1095h2.5v2.5h-2.5zM240,1115h2.5v2.5h-2.5zM242.5,1095h2.5v2.5h-2.5zM242.5,1117.5h2.5v2.5h-2.5zM245,1095h2.5v2.5h-2.5zM247.5,1095h2.5v2.5h-2.5zM250,1092.5h2.5v2.5h-2.5zM250,1115h2.5v2.5h-2.5zM255,1090h2.5v2.5h-2.5zM270,1107.5h2.5v2.5h-2.5zM272.5,1105h2.5v2.5h-2.5zM275,1082.5h2.5v2.5h-2.5zM282.5,1077.5h2.5v2.5h-2.5zM282.5,1102.5h2.5v2.5h-2.5zM285,1100h2.5v2.5h-2.5zM292.5,1092.5h2.5v2.5h-2.5zM302.5,1057.5h2.5v2.5h-2.5zM302.5,1082.5h2.5v2.5h-2.5zM307.5,1052.5h2.5v2.5h-2.5zM310,1070h2.5v2.5h-2.5zM320,1060h2.5v2.5h-2.5zM322.5,1032.5h2.5v2.5h-2.5zM325,1052.5h2.5v2.5h-2.5zM327.5,1052.5h2.5v2.5h-2.5zM330,1045h2.5v7.5h-2.5zM332.5,1032.5h2.5v2.5h-2.5zM337.5,1025h2.5v2.5h-2.5zM340,995h2.5v2.5h-2.5zM347.5,977.5h2.5v7.5h-2.5zM350,1002.5h2.5v2.5h-2.5zM352.5,965h2.5v2.5h-2.5zM355,965h2.5v2.5h-2.5zM355,985h2.5v5h-2.5zM365,940h2.5v5h-2.5zM365,970h2.5v2.5h-2.5zM367.5,960h2.5v5h-2.5zM370,952.5h2.5v2.5h-2.5zM372.5,917.5h2.5v5h-2.5zM375,912.5h2.5v2.5h-2.5zM382.5,897.5h2.5v2.5h-2.5zM385,885h2.5v2.5h-2.5zM387.5,880h2.5v2.5h-2.5zM387.5,910h2.5v2.5h-2.5zM390,897.5h2.5v5h-2.5zM392.5,895h2.5v2.5h-2.5zM395,887.5h2.5v2.5h-2.5zM397.5,852.5h2.5v5h-2.5zM400,847.5h2.5v2.5h-2.5zM402.5,840h2.5v5h-2.5zM407.5,857.5h2.5v2.5h-2.5zM412.5,835h2.5v2.5h-2.5zM412.5,840h2.5v2.5h-2.5zM415,805h2.5v2.5h-2.5zM417.5,797.5h2.5v2.5h-2.5zM420,815h2.5v2.5h-2.5zM422.5,810h2.5v2.5h-2.5zM427.5,762.5h2.5v7.5h-2.5zM432.5,745h2.5v5h-2.5zM432.5,782.5h2.5v2.5h-2.5zM435,737.5h2.5v2.5h-2.5zM437.5,760h2.5v2.5h-2.5zM440,722.5h2.5v2.5h-2.5zM440,757.5h2.5v2.5h-2.5zM442.5,745h2.5v2.5h-2.5zM445,737.5h2.5v2.5h-2.5zM447.5,727.5h2.5v2.5h-2.5zM450,722.5h2.5v2.5h-2.5zM457.5,665h2.5v2.5h-2.5zM462.5,677.5h2.5v7.5h-2.5zM465,670h2.5v2.5h-2.5zM467.5,630h2.5v2.5h-2.5zM477.5,595h2.5v2.5h-2.5zM477.5,622.5h2.5v5h-2.5zM480,580h2.5v2.5h-2.5zM482.5,602.5h2.5v5h-2.5zM485,595h2.5v2.5h-2.5zM485,600h2.5v2.5h-2.5zM487.5,587.5h2.5v2.5h-2.5zM490,557.5h2.5v2.5h-2.5zM490,582.5h2.5v2.5h-2.5zM495,565h2.5v5h-2.5zM502.5,545h2.5v2.5h-2.5zM507.5,507.5h2.5v2.5h-2.5zM510,497.5h2.5v5h-2.5zM510,522.5h2.5v2.5h-2.5zM512.5,520h2.5v2.5h-2.5zM520,467.5h2.5v2.5h-2.5zM522.5,462.5h2.5v2.5h-2.5zM522.5,497.5h2.5v2.5h-2.5zM525,455h2.5v5h-2.5zM530,447.5h2.5v5h-2.5zM532.5,437.5h2.5v5h-2.5zM537.5,452.5h2.5v5h-2.5zM540,447.5h2.5v2.5h-2.5zM542.5,417.5h2.5v2.5h-2.5zM542.5,445h2.5v2.5h-2.5zM545,412.5h2.5v5h-2.5zM555,402.5h2.5v2.5h-2.5zM557.5,395h2.5v2.5h-2.5zM560,415h2.5v2.5h-2.5zM565,382.5h2.5v5h-2.5zM567.5,380h2.5v2.5h-2.5zM570,392.5h2.5v2.5h-2.5zM575,382.5h2.5v2.5h-2.5zM575,387.5h2.5v2.5h-2.5zM582.5,357.5h2.5v2.5h-2.5zM585,375h2.5v2.5h-2.5zM587.5,370h2.5v2.5h-2.5zM590,350h2.5v2.5h-2.5zM600,362.5h2.5v2.5h-2.5z"/>
<path fill="#8a289a" fill-opacity="0.65" d="M202.5,1107.5h2.5v2.5h-2.5zM207.5,1092.5h2.5v2.5h-2.5zM210,1092.5h2.5v2.5h-2.5zM215,1092.5h2.5v2.5h-2.5zM215,1112.5h2.5v2.5h-2.5zM220,1090h2.5v2.5h-2.5zM225,1112.5h2.5v2.5h-2.5zM230,1090h2.5v2.5h-2.5zM230,1110h2.5v2.5h-2.5zM237.5,1095h2.5v2.5h-2.5zM240,1112.5h2.5v2.5h-2.5zM252.5,1110h2.5v2.5h-2.5zM257.5,1107.5h2.5v2.5h-2.5zM260,1107.5h2.5v2.5h-2.5zM265,1087.5h2.5v2.5h-2.5zM265,1105h2.5v2.5h-2.5zM270,1087.5h2.5v2.5h-2.5zM272.5,1085h2.5v2.5h-2.5zM275,1102.5h2.5v2.5h-2.5zM277.5,1082.5h2.5v2.5h-2.5zM277.5,1100h2.5v2.5h-2.5zM285,1075h2.5v2.5h-2.5zM285,1097.5h2.5v2.5h-2.5zM287.5,1075h2.5v2.5h-2.5zM290,1072.5h2.5v2.5h-2.5zM290,1095h2.5v2.5h-2.5zM292.5,1090h2.5v2.5h-2.5zM297.5,1065h2.5v2.5h-2.5zM300,1062.5h2.5v2.5h-2.5zM302.5,1077.5h2.5v5h-2.5zM305,1055h2.5v2.5h-2.5zM305,1072.5h2.5v2.5h-2.5zM315,1042.5h2.5v2.5h-2.5zM320,1057.5h2.5v2.5h-2.5zM322.5,1055h2.5v2.5h-2.5zM327.5,1022.5h2.5v2.5h-2.5zM330,1040h2.5v2.5h-2.5zM340,997.5h2.5v2.5h-2.5zM340,1020h2.5v2.5h-2.5zM342.5,1010h2.5v2.5h-2.5zM347.5,985h2.5v2.5h-2.5zM347.5,1007.5h2.5v2.5h-2.5zM350,997.5h2.5v5h-2.5zM352.5,992.5h2.5v2.5h-2.5zM360,955h2.5v7.5h-2.5zM360,977.5h2.5v2.5h-2.5zM362.5,975h2.5v2.5h-2.5zM365,945h2.5v2.5h-2.5zM367.5,932.5h2.5v2.5h-2.5zM372.5,922.5h2.5v2.5h-2.5zM372.5,945h2.5v2.5h-2.5zM377.5,927.5h2.5v2.5h-2.5zM380,902.5h2.5v2.5h-2.5zM382.5,922.5h2.5v2.5h-2.5zM385,915h2.5v2.5h-2.5zM387.5,905h2.5v5h-2.5zM390,875h2.5v2.5h-2.5zM392.5,867.5h2.5v2.5h-2.5zM395,862.5h2.5v2.5h-2.5zM395,885h2.5v2.5h-2.5zM400,872.5h2.5v5h-2.5zM402.5,845h2.5v2.5h-2.5zM405,860h2.5v2.5h-2.5zM410,845h2.5v2.5h-2.5zM415,807.5h2.5v2.5h-2.5zM417.5,827.5h2.5v2.5h-2.5zM420,790h2.5v2.5h-2.5zM420,812.5h2.5v2.5h-2.5zM420,817.5h2.5v5h-2.5zM427.5,795h2.5v2.5h-2.5zM430,760h2.5v2.5h-2.5zM430,785h2.5v2.5h-2.5zM432.5,750h2.5v5h-2.5zM435,772.5h2.5v2.5h-2.5zM440,750h2.5v7.5h-2.5zM442.5,715h2.5v2.5h-2.5zM447.5,725h2.5v2.5h-2.5zM450,692.5h2.5v2.5h-2.5zM450,717.5h2.5v5h-2.5zM452.5,710h2.5v2.5h-2.5zM457.5,695h2.5v2.5h-2.5zM460,657.5h2.5v2.5h-2.5zM462.5,652.5h2.5v2.5h-2.5zM467.5,660h2.5v2.5h-2.5zM470,650h2.5v2.5h-2.5zM472.5,602.5h2.5v2.5h-2.5zM472.5,640h2.5v2.5h-2.5zM477.5,597.5h2.5v2.5h-2.5zM477.5,620h2.5v2.5h-2.5zM480,582.5h2.5v5h-2.5zM480,617.5h2.5v2.5h-2.5zM482.5,572.5h2.5v7.5h-2.5zM485,597.5h2.5v2.5h-2.5zM487.5,562.5h2.5v5h-2.5zM490,577.5h2.5v2.5h-2.5zM492.5,572.5h2.5v2.5h-2.5zM497.5,562.5h2.5v2.5h-2.5zM500,525h2.5v2.5h-2.5zM502.5,517.5h2.5v2.5h-2.5zM505,535h2.5v2.5h-2.5zM507.5,530h2.5v2.5h-2.5zM510,502.5h2.5v2.5h-2.5zM512.5,490h2.5v2.5h-2.5zM515,485h2.5v2.5h-2.5zM515,507.5h2.5v5h-2.5zM520,470h2.5v5h-2.5zM520,500h2.5v2.5h-2.5zM522.5,490h2.5v2.5h-2.5zM525,460h2.5v2.5h-2.5zM525,480h2.5v2.5h-2.5zM527.5,452.5h2.5v2.5h-2.5zM527.5,475h2.5v2.5h-2.5zM530,467.5h2.5v5h-2.5zM532.5,442.5h2.5v2.5h-2.5zM537.5,427.5h2.5v5h-2.5zM537.5,450h2.5v2.5h-2.5zM545,437.5h2.5v2.5h-2.5zM547.5,410h2.5v2.5h-2.5zM550,405h2.5v2.5h-2.5zM550,427.5h2.5v2.5h-2.5zM552.5,422.5h2.5v5h-2.5zM557.5,397.5h2.5v2.5h-2.5zM557.5,420h2.5v2.5h-2.5zM560,390h2.5v2.5h-2.5zM562.5,412.5h2.5v2.5h-2.5zM565,387.5h2.5v2.5h-2.5zM577.5,382.5h2.5v2.5h-2.5zM580,362.5h2.5v2.5h-2.5zM582.5,377.5h2.5v5h-2.5zM587.5,352.5h2.5v2.5h-2.5zM592.5,350h2.5v2.5h-2.5zM595,350h2.5v2.5h-2.5zM595,370h2.5v2.5h-2.5zM597.5,350h2.5v2.5h-2.5zM600,350h2.5v2.5h-2.5zM602.5,350h2.5v2.5h-2.5zM605,352.5h2.5v5h-2.5z"/>
<path fill="#8a289a" d="M197.5,1097.5h2.5v10h-2.5zM200,1095h2.5v15h-2.5zM202.5,1092.5h2.5v15h-2.5zM205,1092.5h2.5v20h-2.5zM207.5,1095h2.5v22.5h-2.5zM210,1095h2.5v22.5h-2.5zM212.5,1092.5h2.5v22.5h-2.5zM215,1095h2.5v17.5h-2.5zM217.5,1092.5h2.5v20h-2.5zM220,1092.5h2.5v20h-2.5zM222.5,1092.5h2.5v22.5h-2.5zM225,1095h2.5v17.5h-2.5zM227.5,1095h2.5v15h-2.5zM230,1092.5h2.5v17.5h-2.5zM232.5,1090h2.5v25h-2.5zM235,1092.5h2.5v20h-2.5zM237.5,1097.5h2.5v12.5h-2.5zM240,1097.5h2.5v15h-2.5zM242.5,1097.5h2.5v20h-2.5zM245,1097.5h2.5v20h-2.5zM247.5,1097.5h2.5v20h-2.5zM250,1095h2.5v20h-2.5zM252.5,1092.5h2.5v17.5h-2.5zM255,1092.5h2.5v17.5h-2.5zM257.5,1092.5h2.5v15h-2.5zM260,1092.5h2.5v15h-2.5zM262.5,1090h2.5v17.5h-2.5zM265,1090h2.5v15h-2.5zM267.5,1087.5h2.5v20h-2.5zM270,1090h2.5v17.5h-2.5zM272.5,1087.5h2.5v17.5h-2.5zM275,1085h2.5v17.5h-2.5zM277.5,1085h2.5v15h-2.5zM280,1080h2.5v22.5h-2.5zM282.5,1080h2.5v22.5h-2.5zM285,1077.5h2.5v20h-2.5zM287.5,1077.5h2.5v17.5h-2.5zM290,1075h2.5v20h-2.5zM292.5,1070h2.5v20h-2.5zM295,1067.5h2.5v20h-2.5zM297.5,1067.5h2.5v20h-2.5zM300,1065h2.5v20h-2.5zM302.5,1060h2.5v17.5h-2.5zM305,1057.5h2.5v15h-2.5zM307.5,1055h2.5v17.5h-2.5zM310,1052.5h2.5v17.5h-2.5zM312.5,1045h2.5v25h-2.5zM315,1045h2.5v27.5h-2.5zM317.5,1042.5h2.5v27.5h-2.5zM320,1040h2.5v17.5h-2.5zM322.5,1035h2.5v20h-2.5zM325,1032.5h2.5v20h-2.5zM327.5,1025h2.5v27.5h-2.5zM330,1017.5h2.5v22.5h-2.5zM330,1042.5h2.5v2.5h-2.5zM332.5,1007.5h2.5v25h-2.5zM335,1005h2.5v25h-2.5zM337.5,1002.5h2.5v22.5h-2.5zM340,1000h2.5v20h-2.5zM342.5,995h2.5v15h-2.5zM345,990h2.5v20h-2.5zM347.5,987.5h2.5v20h-2.5zM350,975h2.5v22.5h-2.5zM352.5,967.5h2.5v25h-2.5zM355,967.5h2.5v17.5h-2.5zM357.5,967.5h2.5v15h-2.5zM360,962.5h2.5v15h-2.5zM362.5,952.5h2.5v22.5h-2.5zM365,947.5h2.5v22.5h-2.5zM367.5,935h2.5v25h-2.5zM370,930h2.5v22.5h-2.5zM372.5,925h2.5v20h-2.5zM375,915h2.5v20h-2.5zM377.5,910h2.5v17.5h-2.5zM380,905h2.5v20h-2.5zM382.5,900h2.5v22.5h-2.5zM385,887.5h2.5v27.5h-2.5zM387.5,882.5h2.5v22.5h-2.5zM390,877.5h2.5v20h-2.5zM392.5,870h2.5v25h-2.5zM395,865h2.5v20h-2.5zM397.5,857.5h2.5v22.5h-2.5zM400,850h2.5v22.5h-2.5zM402.5,847.5h2.5v22.5h-2.5zM405,835h2.5v25h-2.5zM407.5,822.5h2.5v35h-2.5zM410,820h2.5v25h-2.5zM412.5,815h2.5v20h-2.5zM415,810h2.5v20h-2.5zM417.5,800h2.5v27.5h-2.5zM420,792.5h2.5v20h-2.5zM422.5,787.5h2.5v22.5h-2.5zM425,775h2.5v32.5h-2.5zM427.5,770h2.5v25h-2.5zM430,762.5h2.5v22.5h-2.5zM432.5,755h2.5v27.5h-2.5zM435,740h2.5v32.5h-2.5zM437.5,730h2.5v30h-2.5zM440,725h2.5v25h-2.5zM442.5,717.5h2.5v27.5h-2.5zM445,712.5h2.5v25h-2.5zM447.5,700h2.5v25h-2.5zM450,695h2.5v22.5h-2.5zM452.5,687.5h2.5v22.5h-2.5zM455,675h2.5v25h-2.5zM457.5,667.5h2.5v27.5h-2.5zM460,660h2.5v27.5h-2.5zM462.5,655h2.5v22.5h-2.5zM465,642.5h2.5v25h-2.5zM467.5,632.5h2.5v27.5h-2.5zM470,622.5h2.5v27.5h-2.5zM472.5,605h2.5v35h-2.5zM475,600h2.5v30h-2.5zM477.5,600h2.5v20h-2.5zM480,587.5h2.5v30h-2.5zM482.5,580h2.5v22.5h-2.5zM485,570h2.5v25h-2.5zM487.5,567.5h2.5v20h-2.5zM490,560h2.5v17.5h-2.5zM492.5,547.5h2.5v25h-2.5zM495,545h2.5v20h-2.5zM497.5,530h2.5v32.5h-2.5zM500,527.5h2.5v25h-2.5zM502.5,520h2.5v25h-2.5zM505,515h2.5v20h-2.5zM507.5,510h2.5v20h-2.5zM510,505h2.5v17.5h-2.5zM512.5,492.5h2.5v27.5h-2.5zM515,487.5h2.5v20h-2.5zM517.5,482.5h2.5v22.5h-2.5zM520,475h2.5v25h-2.5zM522.5,465h2.5v25h-2.5zM525,462.5h2.5v17.5h-2.5zM527.5,455h2.5v20h-2.5zM530,452.5h2.5v15h-2.5zM532.5,445h2.5v20h-2.5zM535,432.5h2.5v30h-2.5zM537.5,432.5h2.5v17.5h-2.5zM540,425h2.5v22.5h-2.5zM542.5,420h2.5v25h-2.5zM545,417.5h2.5v20h-2.5zM547.5,412.5h2.5v20h-2.5zM550,407.5h2.5v20h-2.5zM552.5,402.5h2.5v20h-2.5zM555,405h2.5v17.5h-2.5zM557.5,400h2.5v20h-2.5zM560,392.5h2.5v22.5h-2.5zM562.5,390h2.5v22.5h-2.5zM565,390h2.5v10h-2.5zM567.5,382.5h2.5v15h-2.5zM570,375h2.5v17.5h-2.5zM572.5,372.5h2.5v20h-2.5zM575,367.5h2.5v15h-2.5zM577.5,365h2.5v17.5h-2.5zM580,365h2.5v20h-2.5zM582.5,360h2.5v17.5h-2.5zM585,357.5h2.5v17.5h-2.5zM587.5,355h2.5v15h-2.5zM590,352.5h2.5v20h-2.5zM592.5,352.5h2.5v20h-2.5zM595,352.5h2.5v17.5h-2.5zM597.5,352.5h2.5v17.5h-2.5zM600,352.5h2.5v10h-2.5zM602.5,352.5h2.5v7.5h-2.5z"/></g>
</g>
<rect x="1315.4" y="1161.1" width="826.6" height="346.7" fill="#fff"/>
<rect x="1315.4" y="1163.6" width="826.6" height="2.4" fill="#c9c9c9"/>
<rect x="1317.9" y="1161.1" width="2.8" height="346.7" fill="#ececec"/>
<rect x="1315.4" y="1508.3" width="826.6" height="2.2" fill="#cacaca"/>
<rect x="2143.0" y="1161.1" width="1.8" height="346.7" fill="#ebebeb"/>
<rect x="1315.4" y="1161.1" width="826.6" height="2.5" fill="#4e4e4e"/>
<rect x="1315.4" y="1505.1" width="826.6" height="2.7" fill="#585858"/>
<rect x="1315.4" y="1161.1" width="2.5" height="346.7" fill="#343434"/>
<rect x="2139.1" y="1161.1" width="2.9" height="346.7" fill="#3c3c3c"/>
<line x1="1333" y1="1211.3" x2="1493.8" y2="1211.3" stroke="#0072c4" stroke-width="5.2"/>
<line x1="1333" y1="1293.7" x2="1493.8" y2="1293.7" stroke="#f0501a" stroke-width="5.2"/>
<line x1="1333" y1="1376.0" x2="1493.8" y2="1376.0" stroke="#f5ab12" stroke-width="5.2"/>
<line x1="1333" y1="1458.7" x2="1493.8" y2="1458.7" stroke="#8a289a" stroke-width="5.2"/>
<g id="title">
<rect x="913.7" y="88.0" width="356.4" height="2.8" fill="#000"/>
<text transform="matrix(1.1670 0 0 1.0257 657.68 107.70)" style="font-family:'Liberation Serif','DejaVu Serif',serif;font-size:77px;font-style:italic;" fill="#000">P</text>
<text transform="matrix(0.9266 0 0 1.0993 715.76 109.44)" style="font-family:'Liberation Serif','DejaVu Serif',serif;font-size:77px;" fill="#000">(</text>
<text transform="matrix(1.0491 0 0 0.9216 743.85 108.31)" style="font-family:'Liberation Serif','DejaVu Serif',serif;font-size:77px;font-style:italic;" fill="#000">s</text>
<text transform="matrix(0.8962 0 0 1.0993 778.06 109.44)" style="font-family:'Liberation Serif','DejaVu Serif',serif;font-size:77px;" fill="#000">)</text>
<text transform="matrix(1.0458 0 0 1.1410 821.97 116.63)" style="font-family:'DejaVu Sans Light','DejaVu Sans','Liberation Sans',sans-serif;font-size:77px;" fill="#000">=</text>
<text transform="matrix(0.9541 0 0 1.4000 991.21 89.20)" style="font-family:'DejaVu Sans Light','DejaVu Sans','Liberation Sans',sans-serif;font-size:54px;" fill="#000">−</text>
<text transform="matrix(0.9761 0 0 0.9959 1033.35 79.15)" style="font-family:'Liberation Serif','DejaVu Serif',serif;font-size:54px;" fill="#000">0.4</text>
<text transform="matrix(1.0595 0 0 0.9231 1101.41 79.44)" style="font-family:'Liberation Serif','DejaVu Serif',serif;font-size:54px;font-style:italic;" fill="#000">s</text>
<text transform="matrix(1.0489 0 0 1.0133 1120.87 82.50)" style="font-family:'DejaVu Sans Light','DejaVu Sans','Liberation Sans',sans-serif;font-size:54px;" fill="#000">+</text>
<text transform="matrix(0.9368 0 0 1.0169 1165.15 79.80)" style="font-family:'Liberation Serif','DejaVu Serif',serif;font-size:54px;" fill="#000">1</text>
<text transform="matrix(0.9018 0 0 1.0954 916.35 134.40)" style="font-family:'Liberation Serif','DejaVu Serif',serif;font-size:54px;" fill="#000">(</text>
<text transform="matrix(0.9778 0 0 1.0124 933.06 134.79)" style="font-family:'Liberation Serif','DejaVu Serif',serif;font-size:54px;" fill="#000">3</text>
<text transform="matrix(1.0811 0 0 0.9269 960.69 134.54)" style="font-family:'Liberation Serif','DejaVu Serif',serif;font-size:54px;font-style:italic;" fill="#000">s</text>
<text transform="matrix(0.9630 0 0 1.4000 983.46 144.60)" style="font-family:'DejaVu Sans Light','DejaVu Sans','Liberation Sans',sans-serif;font-size:54px;" fill="#000">−</text>
<text transform="matrix(0.9737 0 0 1.0169 1024.38 134.70)" style="font-family:'Liberation Serif','DejaVu Serif',serif;font-size:54px;" fill="#000">1</text>
<text transform="matrix(0.9091 0 0 1.0954 1052.41 134.40)" style="font-family:'Liberation Serif','DejaVu Serif',serif;font-size:54px;" fill="#000">)</text>
<text transform="matrix(0.9091 0 0 1.0954 1074.23 134.40)" style="font-family:'Liberation Serif','DejaVu Serif',serif;font-size:54px;" fill="#000">(</text>
<text transform="matrix(1.0080 0 0 0.9986 1091.48 134.55)" style="font-family:'Liberation Serif','DejaVu Serif',serif;font-size:54px;" fill="#000">0.2</text>
<text transform="matrix(1.0162 0 0 0.9269 1160.64 134.54)" style="font-family:'Liberation Serif','DejaVu Serif',serif;font-size:54px;font-style:italic;" fill="#000">s</text>
<text transform="matrix(0.9659 0 0 1.0430 1181.85 137.80)" style="font-family:'DejaVu Sans Light','DejaVu Sans','Liberation Sans',sans-serif;font-size:54px;" fill="#000">+</text>
<text transform="matrix(0.9105 0 0 1.0169 1223.58 134.70)" style="font-family:'Liberation Serif','DejaVu Serif',serif;font-size:54px;" fill="#000">1</text>
<text transform="matrix(0.9091 0 0 1.0954 1251.41 134.40)" style="font-family:'Liberation Serif','DejaVu Serif',serif;font-size:54px;" fill="#000">)</text>
<text transform="matrix(0.9554 0 0 0.9378 1280.65 108.80)" style="font-family:'Liberation Serif','DejaVu Serif',serif;font-size:77px;font-style:italic;" fill="#000">e</text>
<text transform="matrix(0.9630 0 0 1.4000 1312.66 91.70)" style="font-family:'DejaVu Sans Light','DejaVu Sans','Liberation Sans',sans-serif;font-size:54px;" fill="#000">−</text>
<text transform="matrix(0.9780 0 0 1.0204 1354.54 81.93)" style="font-family:'Liberation Serif','DejaVu Serif',serif;font-size:54px;" fill="#000">0.5</text>
<text transform="matrix(1.0973 0 0 0.9269 1422.78 81.84)" style="font-family:'Liberation Serif','DejaVu Serif',serif;font-size:54px;font-style:italic;" fill="#000">s</text>
<text transform="matrix(0.9478 0 0 1.1342 1452.56 109.87)" style="font-family:'Liberation Serif','DejaVu Serif',serif;font-size:77px;" fill="#000">,</text>
<text transform="matrix(1.0385 0 0 0.9858 1568.28 107.75)" style="font-family:'Liberation Serif','DejaVu Serif',serif;font-size:80px;" fill="#000">I-PD</text>
</g>
<g id="legendtext">
<text transform="matrix(1.0971 0 0 0.9271 1505.10 1227.59)" style="font-family:'Liberation Serif','DejaVu Serif',serif;font-size:70px;font-weight:bold;" fill="#000">p</text>
<text transform="matrix(0.9524 0 0 0.9576 1547.53 1242.92)" style="font-family:'Liberation Serif','DejaVu Serif',serif;font-size:49px;" fill="#000">0</text>
<text transform="matrix(1.0049 0 0 1.1611 1576.84 1229.02)" style="font-family:'Liberation Serif','DejaVu Serif',serif;font-size:70px;" fill="#000">,</text>
<text transform="matrix(1.1359 0 0 1.0344 1608.36 1228.52)" style="font-family:'Liberation Serif','DejaVu Serif',serif;font-size:70px;font-style:italic;" fill="#000">J</text>
<text transform="matrix(0.9714 0 0 0.9758 1641.70 1238.41)" style="font-family:'Liberation Serif','DejaVu Serif',serif;font-size:49px;" fill="#000">0</text>
<text transform="matrix(1.0240 0 0 1.1643 1682.72 1236.46)" style="font-family:'DejaVu Sans Light','DejaVu Sans','Liberation Sans',sans-serif;font-size:70px;" fill="#000">=</text>
<text transform="matrix(0.9694 0 0 0.9789 1757.05 1228.32)" style="font-family:'Liberation Serif','DejaVu Serif',serif;font-size:70px;" fill="#000">3.8643</text>
<text transform="matrix(0.9468 0 0 0.9304 1945.87 1228.30)" style="font-family:'Liberation Serif','DejaVu Serif',serif;font-size:70px;font-style:italic;" fill="#000">e</text>
<text transform="matrix(1.0331 0 0 1.0159 1986.25 1233.50)" style="font-family:'DejaVu Sans Light','DejaVu Sans','Liberation Sans',sans-serif;font-size:70px;" fill="#000">+</text>
<text transform="matrix(0.9619 0 0 0.9757 2057.95 1228.27)" style="font-family:'Liberation Serif','DejaVu Serif',serif;font-size:70px;" fill="#000">01</text>
<text transform="matrix(1.0971 0 0 0.9271 1505.10 1310.14)" style="font-family:'Liberation Serif','DejaVu Serif',serif;font-size:70px;font-weight:bold;" fill="#000">p</text>
<text transform="matrix(0.9524 0 0 0.9576 1547.53 1325.47)" style="font-family:'Liberation Serif','DejaVu Serif',serif;font-size:49px;" fill="#000">1</text>
<text transform="matrix(1.0049 0 0 1.1611 1576.84 1311.57)" style="font-family:'Liberation Serif','DejaVu Serif',serif;font-size:70px;" fill="#000">,</text>
<text transform="matrix(1.1359 0 0 1.0344 1608.36 1311.07)" style="font-family:'Liberation Serif','DejaVu Serif',serif;font-size:70px;font-style:italic;" fill="#000">J</text>
<text transform="matrix(0.9714 0 0 0.9758 1641.70 1320.96)" style="font-family:'Liberation Serif','DejaVu Serif',serif;font-size:49px;" fill="#000">1</text>
<text transform="matrix(1.0240 0 0 1.1643 1682.72 1319.01)" style="font-family:'DejaVu Sans Light','DejaVu Sans','Liberation Sans',sans-serif;font-size:70px;" fill="#000">=</text>
<text transform="matrix(0.9694 0 0 0.9789 1757.05 1310.87)" style="font-family:'Liberation Serif','DejaVu Serif',serif;font-size:70px;" fill="#000">1.4464</text>
<text transform="matrix(0.9468 0 0 0.9304 1945.87 1310.85)" style="font-family:'Liberation Serif','DejaVu Serif',serif;font-size:70px;font-style:italic;" fill="#000">e</text>
<text transform="matrix(1.0331 0 0 1.0159 1986.25 1316.05)" style="font-family:'DejaVu Sans Light','DejaVu Sans','Liberation Sans',sans-serif;font-size:70px;" fill="#000">+</text>
<text transform="matrix(0.9619 0 0 0.9757 2057.95 1310.82)" style="font-family:'Liberation Serif','DejaVu Serif',serif;font-size:70px;" fill="#000">02</text>
<text transform="matrix(1.0971 0 0 0.9271 1505.10 1392.69)" style="font-family:'Liberation Serif','DejaVu Serif',serif;font-size:70px;font-weight:bold;" fill="#000">p</text>
<text transform="matrix(0.9524 0 0 0.9576 1547.53 1408.02)" style="font-family:'Liberation Serif','DejaVu Serif',serif;font-size:49px;" fill="#000">2</text>
<text transform="matrix(1.0049 0 0 1.1611 1576.84 1394.12)" style="font-family:'Liberation Serif','DejaVu Serif',serif;font-size:70px;" fill="#000">,</text>
<text transform="matrix(1.1359 0 0 1.0344 1608.36 1393.62)" style="font-family:'Liberation Serif','DejaVu Serif',serif;font-size:70px;font-style:italic;" fill="#000">J</text>
<text transform="matrix(0.9714 0 0 0.9758 1641.70 1403.51)" style="font-family:'Liberation Serif','DejaVu Serif',serif;font-size:49px;" fill="#000">2</text>
<text transform="matrix(1.0240 0 0 1.1643 1682.72 1401.56)" style="font-family:'DejaVu Sans Light','DejaVu Sans','Liberation Sans',sans-serif;font-size:70px;" fill="#000">=</text>
<text transform="matrix(0.9694 0 0 0.9789 1757.05 1393.42)" style="font-family:'Liberation Serif','DejaVu Serif',serif;font-size:70px;" fill="#000">3.3170</text>
<text transform="matrix(0.9468 0 0 0.9304 1945.87 1393.40)" style="font-family:'Liberation Serif','DejaVu Serif',serif;font-size:70px;font-style:italic;" fill="#000">e</text>
<text transform="matrix(1.0331 0 0 1.0159 1986.25 1398.60)" style="font-family:'DejaVu Sans Light','DejaVu Sans','Liberation Sans',sans-serif;font-size:70px;" fill="#000">+</text>
<text transform="matrix(0.9619 0 0 0.9757 2057.95 1393.37)" style="font-family:'Liberation Serif','DejaVu Serif',serif;font-size:70px;" fill="#000">08</text>
<text transform="matrix(1.0971 0 0 0.9271 1505.10 1475.24)" style="font-family:'Liberation Serif','DejaVu Serif',serif;font-size:70px;font-weight:bold;" fill="#000">p</text>
<text transform="matrix(0.9524 0 0 0.9576 1547.53 1490.57)" style="font-family:'Liberation Serif','DejaVu Serif',serif;font-size:49px;" fill="#000">3</text>
<text transform="matrix(1.0049 0 0 1.1611 1576.84 1476.67)" style="font-family:'Liberation Serif','DejaVu Serif',serif;font-size:70px;" fill="#000">,</text>
<text transform="matrix(1.1359 0 0 1.0344 1608.36 1476.17)" style="font-family:'Liberation Serif','DejaVu Serif',serif;font-size:70px;font-style:italic;" fill="#000">J</text>
<text transform="matrix(0.9714 0 0 0.9758 1641.70 1486.06)" style="font-family:'Liberation Serif','DejaVu Serif',serif;font-size:49px;" fill="#000">3</text>
<text transform="matrix(1.0240 0 0 1.1643 1682.72 1484.11)" style="font-family:'DejaVu Sans Light','DejaVu Sans','Liberation Sans',sans-serif;font-size:70px;" fill="#000">=</text>
<text transform="matrix(0.9694 0 0 0.9789 1757.05 1475.97)" style="font-family:'Liberation Serif','DejaVu Serif',serif;font-size:70px;" fill="#000">3.9800</text>
<text transform="matrix(0.9468 0 0 0.9304 1945.87 1475.95)" style="font-family:'Liberation Serif','DejaVu Serif',serif;font-size:70px;font-style:italic;" fill="#000">e</text>
<text transform="matrix(1.0331 0 0 1.0159 1986.25 1481.15)" style="font-family:'DejaVu Sans Light','DejaVu Sans','Liberation Sans',sans-serif;font-size:70px;" fill="#000">+</text>
<text transform="matrix(0.9619 0 0 0.9757 2057.95 1475.92)" style="font-family:'Liberation Serif','DejaVu Serif',serif;font-size:70px;" fill="#000">08</text>
</g>
<g id="rightlabels">
<text transform="matrix(0.8761 0 0 0.9585 2210.99 373.79)" style="font-family:'Liberation Serif','DejaVu Serif',serif;font-size:77px;font-style:italic;" fill="#000">y</text>
<text transform="matrix(1.1257 0 0 0.9538 2241.25 384.52)" style="font-family:'Liberation Serif','DejaVu Serif',serif;font-size:54px;font-style:italic;" fill="#000">max</text>
<text transform="matrix(1.1889 0 0 0.9683 2201.44 872.00)" style="font-family:'Liberation Serif','DejaVu Serif',serif;font-size:77px;font-style:italic;" fill="#000">r</text>
<text transform="matrix(0.8761 0 0 0.9604 2210.99 1368.85)" style="font-family:'Liberation Serif','DejaVu Serif',serif;font-size:77px;font-style:italic;" fill="#000">y</text>
<text transform="matrix(1.1909 0 0 0.9762 2241.12 1380.30)" style="font-family:'Liberation Serif','DejaVu Serif',serif;font-size:54px;font-style:italic;" fill="#000">min</text>
</g>
<g id="ylabel"><text transform="matrix(0 -0.8319 0.9585 0 67.69 864.09)" style="font-family:'Liberation Serif','DejaVu Serif',serif;font-size:77px;font-style:italic;" fill="#262626">y</text></g>
<g id="ticklabels" fill="#262626" style="font-family:'Liberation Serif','DejaVu Serif',serif;font-size:76.5px">
<text x="171.5" y="382.6" text-anchor="end">3</text>
<text x="171.5" y="631.2" text-anchor="end">2</text>
<text x="171.5" y="880.0" text-anchor="end">1</text>
<text x="171.5" y="1128.6" text-anchor="end">0</text>
<text x="171.5" y="1377.4" text-anchor="end">-1</text>
<text x="198.8" y="1643.8" text-anchor="middle">0</text>
<text x="595.6" y="1643.8" text-anchor="middle">10</text>
<text x="992.0" y="1643.8" text-anchor="middle">20</text>
<text x="1388.6" y="1643.8" text-anchor="middle">30</text>
<text x="1785.0" y="1643.8" text-anchor="middle">40</text>
<text x="2182.0" y="1643.8" text-anchor="middle">50</text>
<text x="1188.4" y="1733.4" text-anchor="middle" style="font-size:76.5px">Time</text>
</g>
</svg>
</body></html>
